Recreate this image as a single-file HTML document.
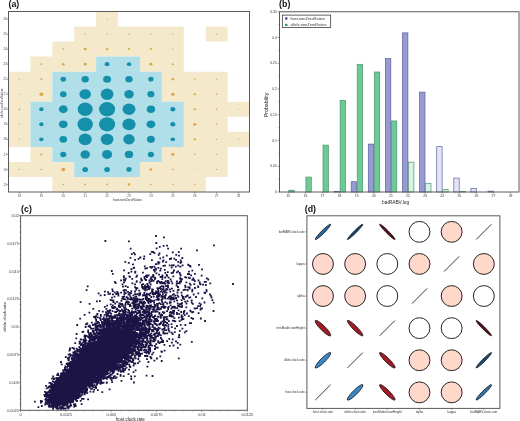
<!DOCTYPE html>
<html><head><meta charset="utf-8"><style>
html,body{margin:0;padding:0;background:#fff;width:520px;height:421px;overflow:hidden}
svg{display:block}
svg{will-change:transform}
</style></head><body>
<svg width="520" height="421" viewBox="0 0 520 421">
<rect width="520" height="421" fill="#fff"/>
<path d="M96.14 11.5H118.05V26.54H96.14zM74.23 26.54H96.14V41.58H74.23zM96.14 26.54H118.05V41.58H96.14zM118.05 26.54H139.95V41.58H118.05zM139.95 26.54H161.86V41.58H139.95zM161.86 26.54H183.77V41.58H161.86zM205.68 26.54H227.59V41.58H205.68zM52.32 41.58H74.23V56.62H52.32zM74.23 41.58H96.14V56.62H74.23zM96.14 41.58H118.05V56.62H96.14zM118.05 41.58H139.95V56.62H118.05zM139.95 41.58H161.86V56.62H139.95zM161.86 41.58H183.77V56.62H161.86zM30.41 56.62H52.32V71.67H30.41zM52.32 56.62H74.23V71.67H52.32zM74.23 56.62H96.14V71.67H74.23zM139.95 56.62H161.86V71.67H139.95zM161.86 56.62H183.77V71.67H161.86zM8.5 71.67H30.41V86.71H8.5zM30.41 71.67H52.32V86.71H30.41zM161.86 71.67H183.77V86.71H161.86zM183.77 71.67H205.68V86.71H183.77zM205.68 71.67H227.59V86.71H205.68zM8.5 86.71H30.41V101.75H8.5zM30.41 86.71H52.32V101.75H30.41zM161.86 86.71H183.77V101.75H161.86zM183.77 86.71H205.68V101.75H183.77zM205.68 86.71H227.59V101.75H205.68zM8.5 101.75H30.41V116.79H8.5zM183.77 101.75H205.68V116.79H183.77zM205.68 101.75H227.59V116.79H205.68zM227.59 101.75H249.5V116.79H227.59zM8.5 116.79H30.41V131.83H8.5zM183.77 116.79H205.68V131.83H183.77zM205.68 116.79H227.59V131.83H205.68zM8.5 131.83H30.41V146.88H8.5zM183.77 131.83H205.68V146.88H183.77zM205.68 131.83H227.59V146.88H205.68zM227.59 131.83H249.5V146.88H227.59zM30.41 146.88H52.32V161.92H30.41zM161.86 146.88H183.77V161.92H161.86zM183.77 146.88H205.68V161.92H183.77zM205.68 146.88H227.59V161.92H205.68zM8.5 161.92H30.41V176.96H8.5zM30.41 161.92H52.32V176.96H30.41zM52.32 161.92H74.23V176.96H52.32zM139.95 161.92H161.86V176.96H139.95zM161.86 161.92H183.77V176.96H161.86zM183.77 161.92H205.68V176.96H183.77zM205.68 161.92H227.59V176.96H205.68zM52.32 176.96H74.23V192.0H52.32zM74.23 176.96H96.14V192.0H74.23zM96.14 176.96H118.05V192.0H96.14zM118.05 176.96H139.95V192.0H118.05zM139.95 176.96H161.86V192.0H139.95zM161.86 176.96H183.77V192.0H161.86zM183.77 176.96H205.68V192.0H183.77z" fill="#f4e9cb"/>
<path d="M96.14 56.62H118.05V71.67H96.14zM118.05 56.62H139.95V71.67H118.05zM52.32 71.67H74.23V86.71H52.32zM74.23 71.67H96.14V86.71H74.23zM96.14 71.67H118.05V86.71H96.14zM118.05 71.67H139.95V86.71H118.05zM139.95 71.67H161.86V86.71H139.95zM52.32 86.71H74.23V101.75H52.32zM74.23 86.71H96.14V101.75H74.23zM96.14 86.71H118.05V101.75H96.14zM118.05 86.71H139.95V101.75H118.05zM139.95 86.71H161.86V101.75H139.95zM30.41 101.75H52.32V116.79H30.41zM52.32 101.75H74.23V116.79H52.32zM74.23 101.75H96.14V116.79H74.23zM96.14 101.75H118.05V116.79H96.14zM118.05 101.75H139.95V116.79H118.05zM139.95 101.75H161.86V116.79H139.95zM161.86 101.75H183.77V116.79H161.86zM30.41 116.79H52.32V131.83H30.41zM52.32 116.79H74.23V131.83H52.32zM74.23 116.79H96.14V131.83H74.23zM96.14 116.79H118.05V131.83H96.14zM118.05 116.79H139.95V131.83H118.05zM139.95 116.79H161.86V131.83H139.95zM161.86 116.79H183.77V131.83H161.86zM30.41 131.83H52.32V146.88H30.41zM52.32 131.83H74.23V146.88H52.32zM74.23 131.83H96.14V146.88H74.23zM96.14 131.83H118.05V146.88H96.14zM118.05 131.83H139.95V146.88H118.05zM139.95 131.83H161.86V146.88H139.95zM161.86 131.83H183.77V146.88H161.86zM52.32 146.88H74.23V161.92H52.32zM74.23 146.88H96.14V161.92H74.23zM96.14 146.88H118.05V161.92H96.14zM118.05 146.88H139.95V161.92H118.05zM139.95 146.88H161.86V161.92H139.95zM74.23 161.92H96.14V176.96H74.23zM96.14 161.92H118.05V176.96H96.14zM118.05 161.92H139.95V176.96H118.05z" fill="#b1dfe9"/>
<ellipse cx="107.09" cy="19.02" rx="0.66" ry="0.59" fill="#d9a845"/>
<ellipse cx="85.18" cy="34.06" rx="0.66" ry="0.59" fill="#d9a845"/>
<ellipse cx="107.09" cy="34.06" rx="0.66" ry="0.59" fill="#d9a845"/>
<ellipse cx="129.00" cy="34.06" rx="0.77" ry="0.69" fill="#d9a845"/>
<ellipse cx="150.91" cy="34.06" rx="0.66" ry="0.59" fill="#d9a845"/>
<ellipse cx="172.82" cy="34.06" rx="0.66" ry="0.59" fill="#d9a845"/>
<ellipse cx="216.64" cy="34.06" rx="0.66" ry="0.59" fill="#d9a845"/>
<ellipse cx="63.27" cy="49.10" rx="0.88" ry="0.78" fill="#d9a845"/>
<ellipse cx="85.18" cy="49.10" rx="1.43" ry="1.27" fill="#d9a845"/>
<ellipse cx="107.09" cy="49.10" rx="1.32" ry="1.18" fill="#d9a845"/>
<ellipse cx="129.00" cy="49.10" rx="1.10" ry="0.98" fill="#d9a845"/>
<ellipse cx="150.91" cy="49.10" rx="1.10" ry="0.98" fill="#d9a845"/>
<ellipse cx="172.82" cy="49.10" rx="0.66" ry="0.59" fill="#d9a845"/>
<ellipse cx="41.36" cy="64.15" rx="0.88" ry="0.78" fill="#d9a845"/>
<ellipse cx="63.27" cy="64.15" rx="1.43" ry="1.27" fill="#d9a845"/>
<ellipse cx="85.18" cy="64.15" rx="1.54" ry="1.37" fill="#d9a845"/>
<ellipse cx="107.09" cy="64.15" rx="2.42" ry="2.16" fill="#1490aa"/>
<ellipse cx="129.00" cy="64.15" rx="2.20" ry="1.96" fill="#1490aa"/>
<ellipse cx="150.91" cy="64.15" rx="1.54" ry="1.37" fill="#d9a845"/>
<ellipse cx="172.82" cy="64.15" rx="0.99" ry="0.88" fill="#d9a845"/>
<ellipse cx="19.45" cy="79.19" rx="0.66" ry="0.59" fill="#d9a845"/>
<ellipse cx="41.36" cy="79.19" rx="0.99" ry="0.88" fill="#d9a845"/>
<ellipse cx="63.27" cy="79.19" rx="2.75" ry="2.45" fill="#1490aa"/>
<ellipse cx="85.18" cy="79.19" rx="3.63" ry="3.23" fill="#1490aa"/>
<ellipse cx="107.09" cy="79.19" rx="3.96" ry="3.53" fill="#1490aa"/>
<ellipse cx="129.00" cy="79.19" rx="3.63" ry="3.23" fill="#1490aa"/>
<ellipse cx="150.91" cy="79.19" rx="2.64" ry="2.35" fill="#1490aa"/>
<ellipse cx="172.82" cy="79.19" rx="1.32" ry="1.18" fill="#d9a845"/>
<ellipse cx="194.73" cy="79.19" rx="0.77" ry="0.69" fill="#d9a845"/>
<ellipse cx="216.64" cy="79.19" rx="0.66" ry="0.59" fill="#d9a845"/>
<ellipse cx="19.45" cy="94.23" rx="0.66" ry="0.59" fill="#d9a845"/>
<ellipse cx="41.36" cy="94.23" rx="1.98" ry="1.76" fill="#d9a845"/>
<ellipse cx="63.27" cy="94.23" rx="3.30" ry="2.94" fill="#1490aa"/>
<ellipse cx="85.18" cy="94.23" rx="5.72" ry="5.10" fill="#1490aa"/>
<ellipse cx="107.09" cy="94.23" rx="6.38" ry="5.68" fill="#1490aa"/>
<ellipse cx="129.00" cy="94.23" rx="4.73" ry="4.21" fill="#1490aa"/>
<ellipse cx="150.91" cy="94.23" rx="3.52" ry="3.14" fill="#1490aa"/>
<ellipse cx="172.82" cy="94.23" rx="1.76" ry="1.57" fill="#d9a845"/>
<ellipse cx="194.73" cy="94.23" rx="1.21" ry="1.08" fill="#d9a845"/>
<ellipse cx="216.64" cy="94.23" rx="0.77" ry="0.69" fill="#d9a845"/>
<ellipse cx="19.45" cy="109.27" rx="0.99" ry="0.88" fill="#d9a845"/>
<ellipse cx="41.36" cy="109.27" rx="2.20" ry="1.96" fill="#1490aa"/>
<ellipse cx="63.27" cy="109.27" rx="4.40" ry="3.92" fill="#1490aa"/>
<ellipse cx="85.18" cy="109.27" rx="7.48" ry="6.66" fill="#1490aa"/>
<ellipse cx="107.09" cy="109.27" rx="8.03" ry="7.15" fill="#1490aa"/>
<ellipse cx="129.00" cy="109.27" rx="6.49" ry="5.78" fill="#1490aa"/>
<ellipse cx="150.91" cy="109.27" rx="4.18" ry="3.72" fill="#1490aa"/>
<ellipse cx="172.82" cy="109.27" rx="2.53" ry="2.25" fill="#1490aa"/>
<ellipse cx="194.73" cy="109.27" rx="1.21" ry="1.08" fill="#d9a845"/>
<ellipse cx="216.64" cy="109.27" rx="0.77" ry="0.69" fill="#d9a845"/>
<ellipse cx="238.55" cy="109.27" rx="0.55" ry="0.49" fill="#d9a845"/>
<ellipse cx="19.45" cy="124.31" rx="0.66" ry="0.59" fill="#d9a845"/>
<ellipse cx="41.36" cy="124.31" rx="2.20" ry="1.96" fill="#1490aa"/>
<ellipse cx="63.27" cy="124.31" rx="4.40" ry="3.92" fill="#1490aa"/>
<ellipse cx="85.18" cy="124.31" rx="7.70" ry="6.86" fill="#1490aa"/>
<ellipse cx="107.09" cy="124.31" rx="8.03" ry="7.15" fill="#1490aa"/>
<ellipse cx="129.00" cy="124.31" rx="6.60" ry="5.88" fill="#1490aa"/>
<ellipse cx="150.91" cy="124.31" rx="4.40" ry="3.92" fill="#1490aa"/>
<ellipse cx="172.82" cy="124.31" rx="2.53" ry="2.25" fill="#1490aa"/>
<ellipse cx="194.73" cy="124.31" rx="1.54" ry="1.37" fill="#d9a845"/>
<ellipse cx="216.64" cy="124.31" rx="0.77" ry="0.69" fill="#d9a845"/>
<ellipse cx="19.45" cy="139.35" rx="0.66" ry="0.59" fill="#d9a845"/>
<ellipse cx="41.36" cy="139.35" rx="2.20" ry="1.96" fill="#1490aa"/>
<ellipse cx="63.27" cy="139.35" rx="3.85" ry="3.43" fill="#1490aa"/>
<ellipse cx="85.18" cy="139.35" rx="6.60" ry="5.88" fill="#1490aa"/>
<ellipse cx="107.09" cy="139.35" rx="6.38" ry="5.68" fill="#1490aa"/>
<ellipse cx="129.00" cy="139.35" rx="5.72" ry="5.10" fill="#1490aa"/>
<ellipse cx="150.91" cy="139.35" rx="3.96" ry="3.53" fill="#1490aa"/>
<ellipse cx="172.82" cy="139.35" rx="2.20" ry="1.96" fill="#1490aa"/>
<ellipse cx="194.73" cy="139.35" rx="1.21" ry="1.08" fill="#d9a845"/>
<ellipse cx="216.64" cy="139.35" rx="0.77" ry="0.69" fill="#d9a845"/>
<ellipse cx="238.55" cy="139.35" rx="0.66" ry="0.59" fill="#d9a845"/>
<ellipse cx="41.36" cy="154.40" rx="1.10" ry="0.98" fill="#d9a845"/>
<ellipse cx="63.27" cy="154.40" rx="3.08" ry="2.74" fill="#1490aa"/>
<ellipse cx="85.18" cy="154.40" rx="4.73" ry="4.21" fill="#1490aa"/>
<ellipse cx="107.09" cy="154.40" rx="5.06" ry="4.51" fill="#1490aa"/>
<ellipse cx="129.00" cy="154.40" rx="4.18" ry="3.72" fill="#1490aa"/>
<ellipse cx="150.91" cy="154.40" rx="3.08" ry="2.74" fill="#1490aa"/>
<ellipse cx="172.82" cy="154.40" rx="1.65" ry="1.47" fill="#d9a845"/>
<ellipse cx="194.73" cy="154.40" rx="0.77" ry="0.69" fill="#d9a845"/>
<ellipse cx="216.64" cy="154.40" rx="0.66" ry="0.59" fill="#d9a845"/>
<ellipse cx="19.45" cy="169.44" rx="0.66" ry="0.59" fill="#d9a845"/>
<ellipse cx="41.36" cy="169.44" rx="0.77" ry="0.69" fill="#d9a845"/>
<ellipse cx="63.27" cy="169.44" rx="1.98" ry="1.76" fill="#d9a845"/>
<ellipse cx="85.18" cy="169.44" rx="2.86" ry="2.55" fill="#1490aa"/>
<ellipse cx="107.09" cy="169.44" rx="2.86" ry="2.55" fill="#1490aa"/>
<ellipse cx="129.00" cy="169.44" rx="2.64" ry="2.35" fill="#1490aa"/>
<ellipse cx="150.91" cy="169.44" rx="1.43" ry="1.27" fill="#d9a845"/>
<ellipse cx="172.82" cy="169.44" rx="0.88" ry="0.78" fill="#d9a845"/>
<ellipse cx="194.73" cy="169.44" rx="0.55" ry="0.49" fill="#d9a845"/>
<ellipse cx="216.64" cy="169.44" rx="0.66" ry="0.59" fill="#d9a845"/>
<ellipse cx="63.27" cy="184.48" rx="0.77" ry="0.69" fill="#d9a845"/>
<ellipse cx="85.18" cy="184.48" rx="0.99" ry="0.88" fill="#d9a845"/>
<ellipse cx="107.09" cy="184.48" rx="0.99" ry="0.88" fill="#d9a845"/>
<ellipse cx="129.00" cy="184.48" rx="1.32" ry="1.18" fill="#d9a845"/>
<ellipse cx="150.91" cy="184.48" rx="0.77" ry="0.69" fill="#d9a845"/>
<ellipse cx="172.82" cy="184.48" rx="0.77" ry="0.69" fill="#d9a845"/>
<ellipse cx="194.73" cy="184.48" rx="0.66" ry="0.59" fill="#d9a845"/>
<rect x="8.5" y="11.5" width="241.0" height="180.5" fill="none" stroke="#5a5a5a" stroke-width="1"/>
<path d="M7.0 19.02h1.5 M7.0 34.06h1.5 M7.0 49.10h1.5 M7.0 64.15h1.5 M7.0 79.19h1.5 M7.0 94.23h1.5 M7.0 109.27h1.5 M7.0 124.31h1.5 M7.0 139.35h1.5 M7.0 154.40h1.5 M7.0 169.44h1.5 M7.0 184.48h1.5 M19.45 192.0v1.5 M41.36 192.0v1.5 M63.27 192.0v1.5 M85.18 192.0v1.5 M107.09 192.0v1.5 M129.00 192.0v1.5 M150.91 192.0v1.5 M172.82 192.0v1.5 M194.73 192.0v1.5 M216.64 192.0v1.5 M238.55 192.0v1.5" stroke="#555" stroke-width="0.6"/>
<text x="6.9" y="20.12" font-size="3.0" text-anchor="end" fill="#444" font-family="Liberation Sans, sans-serif">26</text>
<text x="6.9" y="35.16" font-size="3.0" text-anchor="end" fill="#444" font-family="Liberation Sans, sans-serif">25</text>
<text x="6.9" y="50.20" font-size="3.0" text-anchor="end" fill="#444" font-family="Liberation Sans, sans-serif">24</text>
<text x="6.9" y="65.25" font-size="3.0" text-anchor="end" fill="#444" font-family="Liberation Sans, sans-serif">23</text>
<text x="6.9" y="80.29" font-size="3.0" text-anchor="end" fill="#444" font-family="Liberation Sans, sans-serif">22</text>
<text x="6.9" y="95.33" font-size="3.0" text-anchor="end" fill="#444" font-family="Liberation Sans, sans-serif">21</text>
<text x="6.9" y="110.37" font-size="3.0" text-anchor="end" fill="#444" font-family="Liberation Sans, sans-serif">20</text>
<text x="6.9" y="125.41" font-size="3.0" text-anchor="end" fill="#444" font-family="Liberation Sans, sans-serif">19</text>
<text x="6.9" y="140.45" font-size="3.0" text-anchor="end" fill="#444" font-family="Liberation Sans, sans-serif">18</text>
<text x="6.9" y="155.50" font-size="3.0" text-anchor="end" fill="#444" font-family="Liberation Sans, sans-serif">17</text>
<text x="6.9" y="170.54" font-size="3.0" text-anchor="end" fill="#444" font-family="Liberation Sans, sans-serif">16</text>
<text x="6.9" y="185.58" font-size="3.0" text-anchor="end" fill="#444" font-family="Liberation Sans, sans-serif">15</text>
<text x="19.45" y="196.7" font-size="3.0" text-anchor="middle" fill="#444" font-family="Liberation Sans, sans-serif">18</text>
<text x="41.36" y="196.7" font-size="3.0" text-anchor="middle" fill="#444" font-family="Liberation Sans, sans-serif">19</text>
<text x="63.27" y="196.7" font-size="3.0" text-anchor="middle" fill="#444" font-family="Liberation Sans, sans-serif">20</text>
<text x="85.18" y="196.7" font-size="3.0" text-anchor="middle" fill="#444" font-family="Liberation Sans, sans-serif">21</text>
<text x="107.09" y="196.7" font-size="3.0" text-anchor="middle" fill="#444" font-family="Liberation Sans, sans-serif">22</text>
<text x="129.00" y="196.7" font-size="3.0" text-anchor="middle" fill="#444" font-family="Liberation Sans, sans-serif">23</text>
<text x="150.91" y="196.7" font-size="3.0" text-anchor="middle" fill="#444" font-family="Liberation Sans, sans-serif">24</text>
<text x="172.82" y="196.7" font-size="3.0" text-anchor="middle" fill="#444" font-family="Liberation Sans, sans-serif">25</text>
<text x="194.73" y="196.7" font-size="3.0" text-anchor="middle" fill="#444" font-family="Liberation Sans, sans-serif">26</text>
<text x="216.64" y="196.7" font-size="3.0" text-anchor="middle" fill="#444" font-family="Liberation Sans, sans-serif">27</text>
<text x="238.55" y="196.7" font-size="3.0" text-anchor="middle" fill="#444" font-family="Liberation Sans, sans-serif">28</text>
<text x="127.5" y="200.9" font-size="3.3" text-anchor="middle" fill="#333" font-family="Liberation Sans, sans-serif">host.nonZeroRatios</text>
<text transform="translate(2.6,103.3) rotate(-90)" font-size="3.2" text-anchor="middle" fill="#333" font-family="Liberation Sans, sans-serif">allele.nonZeroRatios</text>
<text x="8.5" y="6.6" font-size="8.8" font-weight="bold" fill="#111" font-family="Liberation Sans, sans-serif">(a)</text>
<rect x="334.10" y="191.38" width="5.40" height="0.62" fill="#989bd2" stroke="#5c5fa0" stroke-width="0.7"/>
<rect x="351.20" y="181.70" width="5.40" height="10.30" fill="#989bd2" stroke="#5c5fa0" stroke-width="0.7"/>
<rect x="368.30" y="144.10" width="5.40" height="47.90" fill="#989bd2" stroke="#5c5fa0" stroke-width="0.7"/>
<rect x="385.40" y="58.61" width="5.40" height="133.39" fill="#989bd2" stroke="#5c5fa0" stroke-width="0.7"/>
<rect x="402.50" y="32.87" width="5.40" height="159.13" fill="#989bd2" stroke="#5c5fa0" stroke-width="0.7"/>
<rect x="419.60" y="92.09" width="5.40" height="99.91" fill="#989bd2" stroke="#5c5fa0" stroke-width="0.7"/>
<rect x="436.70" y="146.68" width="5.40" height="45.32" fill="#e3e5f7" stroke="#5c5fa0" stroke-width="0.7"/>
<rect x="453.80" y="178.09" width="5.40" height="13.91" fill="#e3e5f7" stroke="#5c5fa0" stroke-width="0.7"/>
<rect x="470.90" y="188.40" width="5.40" height="3.60" fill="#e3e5f7" stroke="#5c5fa0" stroke-width="0.7"/>
<rect x="488.00" y="191.12" width="5.40" height="0.88" fill="#e3e5f7" stroke="#5c5fa0" stroke-width="0.7"/>
<rect x="288.80" y="190.20" width="5.40" height="1.80" fill="#6dca94" stroke="#4a9570" stroke-width="0.7"/>
<rect x="305.90" y="177.06" width="5.40" height="14.94" fill="#6dca94" stroke="#4a9570" stroke-width="0.7"/>
<rect x="323.00" y="145.13" width="5.40" height="46.87" fill="#6dca94" stroke="#4a9570" stroke-width="0.7"/>
<rect x="340.10" y="100.33" width="5.40" height="91.67" fill="#6dca94" stroke="#4a9570" stroke-width="0.7"/>
<rect x="357.20" y="64.28" width="5.40" height="127.72" fill="#6dca94" stroke="#4a9570" stroke-width="0.7"/>
<rect x="374.30" y="72.00" width="5.40" height="120.00" fill="#6dca94" stroke="#4a9570" stroke-width="0.7"/>
<rect x="391.40" y="120.93" width="5.40" height="71.07" fill="#6dca94" stroke="#4a9570" stroke-width="0.7"/>
<rect x="408.50" y="162.13" width="5.40" height="29.87" fill="#dcf3e4" stroke="#4a9570" stroke-width="0.7"/>
<rect x="425.60" y="183.25" width="5.40" height="8.75" fill="#dcf3e4" stroke="#4a9570" stroke-width="0.7"/>
<rect x="442.70" y="189.43" width="5.40" height="2.57" fill="#dcf3e4" stroke="#4a9570" stroke-width="0.7"/>
<rect x="459.80" y="191.49" width="5.40" height="0.51" fill="#dcf3e4" stroke="#4a9570" stroke-width="0.7"/>
<rect x="279.5" y="11.75" width="239.5" height="180.25" fill="none" stroke="#5a5a5a" stroke-width="1"/>
<path d="M277.7 192.00H279.5 M278.5 179.12H279.5 M277.7 166.25H279.5 M278.5 153.38H279.5 M277.7 140.50H279.5 M278.5 127.62H279.5 M277.7 114.75H279.5 M278.5 101.87H279.5 M277.7 89.00H279.5 M278.5 76.12H279.5 M277.7 63.25H279.5 M278.5 50.38H279.5 M277.7 37.50H279.5 M278.5 24.62H279.5 M277.7 11.75H279.5 M288.30 192.0v1.5 M305.40 192.0v1.5 M322.50 192.0v1.5 M339.60 192.0v1.5 M356.70 192.0v1.5 M373.80 192.0v1.5 M390.90 192.0v1.5 M408.00 192.0v1.5 M425.10 192.0v1.5 M442.20 192.0v1.5 M459.30 192.0v1.5 M476.40 192.0v1.5 M493.50 192.0v1.5 M510.60 192.0v1.5" stroke="#555" stroke-width="0.6"/>
<text x="276.9" y="193.20" font-size="3.4" text-anchor="end" fill="#333" font-family="Liberation Sans, sans-serif">0</text>
<text x="276.9" y="167.45" font-size="3.4" text-anchor="end" fill="#333" font-family="Liberation Sans, sans-serif">0.05</text>
<text x="276.9" y="141.70" font-size="3.4" text-anchor="end" fill="#333" font-family="Liberation Sans, sans-serif">0.1</text>
<text x="276.9" y="115.95" font-size="3.4" text-anchor="end" fill="#333" font-family="Liberation Sans, sans-serif">0.15</text>
<text x="276.9" y="90.20" font-size="3.4" text-anchor="end" fill="#333" font-family="Liberation Sans, sans-serif">0.2</text>
<text x="276.9" y="64.45" font-size="3.4" text-anchor="end" fill="#333" font-family="Liberation Sans, sans-serif">0.25</text>
<text x="276.9" y="38.70" font-size="3.4" text-anchor="end" fill="#333" font-family="Liberation Sans, sans-serif">0.3</text>
<text x="276.9" y="12.95" font-size="3.4" text-anchor="end" fill="#333" font-family="Liberation Sans, sans-serif">0.35</text>
<text x="288.30" y="197.2" font-size="3.4" text-anchor="middle" fill="#333" font-family="Liberation Sans, sans-serif">15</text>
<text x="305.40" y="197.2" font-size="3.4" text-anchor="middle" fill="#333" font-family="Liberation Sans, sans-serif">16</text>
<text x="322.50" y="197.2" font-size="3.4" text-anchor="middle" fill="#333" font-family="Liberation Sans, sans-serif">17</text>
<text x="339.60" y="197.2" font-size="3.4" text-anchor="middle" fill="#333" font-family="Liberation Sans, sans-serif">18</text>
<text x="356.70" y="197.2" font-size="3.4" text-anchor="middle" fill="#333" font-family="Liberation Sans, sans-serif">19</text>
<text x="373.80" y="197.2" font-size="3.4" text-anchor="middle" fill="#333" font-family="Liberation Sans, sans-serif">20</text>
<text x="390.90" y="197.2" font-size="3.4" text-anchor="middle" fill="#333" font-family="Liberation Sans, sans-serif">21</text>
<text x="408.00" y="197.2" font-size="3.4" text-anchor="middle" fill="#333" font-family="Liberation Sans, sans-serif">22</text>
<text x="425.10" y="197.2" font-size="3.4" text-anchor="middle" fill="#333" font-family="Liberation Sans, sans-serif">23</text>
<text x="442.20" y="197.2" font-size="3.4" text-anchor="middle" fill="#333" font-family="Liberation Sans, sans-serif">24</text>
<text x="459.30" y="197.2" font-size="3.4" text-anchor="middle" fill="#333" font-family="Liberation Sans, sans-serif">25</text>
<text x="476.40" y="197.2" font-size="3.4" text-anchor="middle" fill="#333" font-family="Liberation Sans, sans-serif">26</text>
<text x="493.50" y="197.2" font-size="3.4" text-anchor="middle" fill="#333" font-family="Liberation Sans, sans-serif">27</text>
<text x="510.60" y="197.2" font-size="3.4" text-anchor="middle" fill="#333" font-family="Liberation Sans, sans-serif">28</text>
<text x="395.6" y="203.9" font-size="4.8" text-anchor="middle" fill="#222" font-family="Liberation Sans, sans-serif">batRABV.log</text>
<text transform="translate(267.6,105) rotate(-90)" font-size="5.3" text-anchor="middle" fill="#222" font-family="Liberation Sans, sans-serif">Probability</text>
<text x="279.1" y="6.6" font-size="8.8" font-weight="bold" fill="#111" font-family="Liberation Sans, sans-serif">(b)</text>
<rect x="282.3" y="15.1" width="48.4" height="12.5" fill="#fff" stroke="#222" stroke-width="0.7"/>
<rect x="285.1" y="17.4" width="2.3" height="2.2" fill="#34408e"/>
<rect x="285.1" y="23.8" width="2.3" height="2.2" fill="#1f9a50"/>
<text x="290.4" y="20.2" font-size="3.95" fill="#333" font-family="Liberation Sans, sans-serif">host.nonZeroRatios</text>
<text x="290.4" y="26.4" font-size="3.95" fill="#333" font-family="Liberation Sans, sans-serif">allele.nonZeroRatios</text>
<path d="M155 235h1v1h-1zM163 237h1v1h-1zM105 240h1v1h-1zM128 241h1v1h-1zM156 242h1v1h-1zM163 245h1v1h-1zM167 245h1v1h-1zM213 245h1v1h-1zM159 246h1v1h-1zM130 248h1v1h-1zM156 248h1v1h-1zM168 248h1v1h-1zM181 248h1v1h-1zM196 250h1v1h-1zM151 251h3v1h-3zM133 252h1v1h-1zM172 252h1v1h-1zM178 252h1v1h-1zM154 253h1v1h-1zM159 253h1v1h-1zM131 254h1v1h-1zM134 254h1v1h-1zM150 254h1v1h-1zM158 254h1v1h-1zM176 254h1v1h-1zM166 255h1v1h-1zM178 255h1v1h-1zM144 256h1v1h-1zM130 257h1v1h-1zM140 257h1v1h-1zM163 257h1v1h-1zM182 257h1v1h-1zM138 258h1v1h-1zM143 258h1v1h-1zM160 258h1v1h-1zM171 258h1v1h-1zM174 258h1v1h-1zM135 259h1v1h-1zM169 259h1v1h-1zM176 259h1v1h-1zM151 260h1v1h-1zM163 260h1v1h-1zM180 260h1v1h-1zM125 261h1v1h-1zM162 261h1v1h-1zM178 261h1v1h-1zM128 262h1v1h-1zM158 262h2v1h-2zM166 262h1v1h-1zM180 262h2v1h-2zM158 263h1v1h-1zM132 264h1v1h-1zM155 264h2v1h-2zM188 264h1v1h-1zM198 264h1v1h-1zM163 265h2v1h-2zM169 265h1v1h-1zM171 265h3v1h-3zM178 265h1v1h-1zM182 265h1v1h-1zM188 265h2v1h-2zM144 266h1v1h-1zM150 266h1v1h-1zM152 266h1v1h-1zM154 266h1v1h-1zM175 266h1v1h-1zM180 266h1v1h-1zM190 266h1v1h-1zM134 267h1v1h-1zM151 267h1v1h-1zM158 267h1v1h-1zM171 267h1v1h-1zM133 268h1v1h-1zM145 268h1v1h-1zM147 268h1v1h-1zM155 268h1v1h-1zM160 268h1v1h-1zM131 269h1v1h-1zM153 269h1v1h-1zM156 269h1v1h-1zM164 269h1v1h-1zM202 269h1v1h-1zM111 270h1v1h-1zM124 270h1v1h-1zM160 270h1v1h-1zM173 270h1v1h-1zM192 270h1v1h-1zM131 271h1v1h-1zM135 271h1v1h-1zM154 271h1v1h-1zM178 271h1v1h-1zM188 271h1v1h-1zM135 272h1v1h-1zM142 272h1v1h-1zM165 272h1v1h-1zM167 272h1v1h-1zM172 272h2v1h-2zM176 272h1v1h-1zM179 272h1v1h-1zM112 273h1v1h-1zM128 273h1v1h-1zM156 273h1v1h-1zM171 273h1v1h-1zM194 273h1v1h-1zM153 274h1v1h-1zM159 274h1v1h-1zM166 274h1v1h-1zM180 274h1v1h-1zM187 274h3v1h-3zM137 275h1v1h-1zM146 275h3v1h-3zM153 275h1v1h-1zM162 275h1v1h-1zM167 275h1v1h-1zM180 275h1v1h-1zM191 275h1v1h-1zM201 275h1v1h-1zM123 276h1v1h-1zM129 276h1v1h-1zM136 276h1v1h-1zM144 276h1v1h-1zM146 276h1v1h-1zM152 276h2v1h-2zM160 276h3v1h-3zM173 276h1v1h-1zM123 277h1v1h-1zM144 277h1v1h-1zM146 277h1v1h-1zM151 277h1v1h-1zM155 277h1v1h-1zM165 277h1v1h-1zM168 277h1v1h-1zM185 277h2v1h-2zM188 277h1v1h-1zM125 278h1v1h-1zM132 278h1v1h-1zM141 278h1v1h-1zM144 278h1v1h-1zM150 278h1v1h-1zM180 278h2v1h-2zM189 278h1v1h-1zM193 278h1v1h-1zM206 278h1v1h-1zM123 279h1v1h-1zM141 279h1v1h-1zM145 279h2v1h-2zM152 279h1v1h-1zM154 279h1v1h-1zM162 279h1v1h-1zM170 279h1v1h-1zM180 279h2v1h-2zM192 279h2v1h-2zM208 279h1v1h-1zM121 280h1v1h-1zM125 280h1v1h-1zM142 280h1v1h-1zM149 280h1v1h-1zM152 280h2v1h-2zM158 280h1v1h-1zM167 280h1v1h-1zM198 280h1v1h-1zM114 281h1v1h-1zM136 281h1v1h-1zM150 281h1v1h-1zM157 281h1v1h-1zM159 281h1v1h-1zM161 281h1v1h-1zM165 281h1v1h-1zM167 281h2v1h-2zM171 281h1v1h-1zM176 281h1v1h-1zM179 281h3v1h-3zM194 281h1v1h-1zM204 281h2v1h-2zM115 282h1v1h-1zM123 282h1v1h-1zM140 282h1v1h-1zM149 282h1v1h-1zM157 282h1v1h-1zM161 282h4v1h-4zM167 282h2v1h-2zM179 282h1v1h-1zM186 282h1v1h-1zM199 282h1v1h-1zM132 283h1v1h-1zM147 283h1v1h-1zM157 283h1v1h-1zM160 283h1v1h-1zM162 283h4v1h-4zM168 283h1v1h-1zM172 283h1v1h-1zM176 283h2v1h-2zM179 283h1v1h-1zM189 283h1v1h-1zM199 283h1v1h-1zM210 283h1v1h-1zM232 283h1v1h-1zM122 284h1v1h-1zM135 284h1v1h-1zM141 284h3v1h-3zM147 284h1v1h-1zM150 284h1v1h-1zM190 284h1v1h-1zM194 284h1v1h-1zM200 284h1v1h-1zM203 284h1v1h-1zM145 285h1v1h-1zM147 285h2v1h-2zM166 285h2v1h-2zM176 285h1v1h-1zM185 285h1v1h-1zM205 285h1v1h-1zM87 286h1v1h-1zM122 286h1v1h-1zM125 286h1v1h-1zM142 286h1v1h-1zM144 286h6v1h-6zM160 286h4v1h-4zM165 286h1v1h-1zM177 286h2v1h-2zM185 286h1v1h-1zM198 286h1v1h-1zM127 287h1v1h-1zM135 287h1v1h-1zM142 287h2v1h-2zM145 287h5v1h-5zM160 287h1v1h-1zM163 287h1v1h-1zM168 287h1v1h-1zM177 287h1v1h-1zM188 287h2v1h-2zM194 287h1v1h-1zM198 287h1v1h-1zM136 288h2v1h-2zM142 288h4v1h-4zM148 288h2v1h-2zM157 288h2v1h-2zM160 288h1v1h-1zM163 288h1v1h-1zM166 288h1v1h-1zM171 288h1v1h-1zM189 288h1v1h-1zM112 289h1v1h-1zM124 289h1v1h-1zM136 289h1v1h-1zM144 289h1v1h-1zM147 289h1v1h-1zM149 289h1v1h-1zM152 289h1v1h-1zM157 289h1v1h-1zM161 289h1v1h-1zM166 289h2v1h-2zM169 289h1v1h-1zM178 289h1v1h-1zM185 289h1v1h-1zM187 289h1v1h-1zM192 289h1v1h-1zM206 289h1v1h-1zM86 290h1v1h-1zM112 290h1v1h-1zM123 290h1v1h-1zM126 290h1v1h-1zM139 290h1v1h-1zM145 290h1v1h-1zM152 290h1v1h-1zM158 290h1v1h-1zM164 290h2v1h-2zM173 290h1v1h-1zM177 290h1v1h-1zM183 290h1v1h-1zM187 290h1v1h-1zM192 290h1v1h-1zM206 290h1v1h-1zM104 291h1v1h-1zM112 291h1v1h-1zM117 291h1v1h-1zM127 291h1v1h-1zM131 291h1v1h-1zM134 291h1v1h-1zM151 291h2v1h-2zM156 291h3v1h-3zM160 291h1v1h-1zM163 291h1v1h-1zM170 291h1v1h-1zM192 291h1v1h-1zM206 291h1v1h-1zM108 292h1v1h-1zM114 292h1v1h-1zM117 292h1v1h-1zM121 292h1v1h-1zM124 292h1v1h-1zM129 292h1v1h-1zM144 292h1v1h-1zM152 292h1v1h-1zM156 292h1v1h-1zM158 292h1v1h-1zM162 292h1v1h-1zM164 292h3v1h-3zM177 292h1v1h-1zM181 292h1v1h-1zM204 292h2v1h-2zM98 293h1v1h-1zM110 293h1v1h-1zM116 293h3v1h-3zM125 293h1v1h-1zM129 293h3v1h-3zM139 293h2v1h-2zM144 293h1v1h-1zM146 293h1v1h-1zM150 293h1v1h-1zM152 293h7v1h-7zM198 293h1v1h-1zM104 294h1v1h-1zM108 294h1v1h-1zM112 294h1v1h-1zM124 294h1v1h-1zM128 294h2v1h-2zM135 294h1v1h-1zM137 294h1v1h-1zM139 294h2v1h-2zM144 294h1v1h-1zM146 294h4v1h-4zM152 294h4v1h-4zM160 294h1v1h-1zM162 294h1v1h-1zM165 294h1v1h-1zM172 294h2v1h-2zM193 294h1v1h-1zM209 294h1v1h-1zM100 295h1v1h-1zM118 295h1v1h-1zM133 295h1v1h-1zM139 295h1v1h-1zM142 295h5v1h-5zM149 295h1v1h-1zM157 295h3v1h-3zM161 295h1v1h-1zM164 295h1v1h-1zM175 295h1v1h-1zM177 295h1v1h-1zM181 295h1v1h-1zM186 295h2v1h-2zM210 295h1v1h-1zM114 296h1v1h-1zM122 296h3v1h-3zM130 296h1v1h-1zM135 296h2v1h-2zM145 296h2v1h-2zM153 296h1v1h-1zM156 296h1v1h-1zM159 296h1v1h-1zM161 296h4v1h-4zM169 296h2v1h-2zM178 296h1v1h-1zM182 296h2v1h-2zM185 296h1v1h-1zM111 297h1v1h-1zM123 297h1v1h-1zM126 297h2v1h-2zM131 297h1v1h-1zM134 297h1v1h-1zM145 297h2v1h-2zM151 297h1v1h-1zM157 297h1v1h-1zM162 297h1v1h-1zM164 297h2v1h-2zM168 297h6v1h-6zM176 297h1v1h-1zM182 297h1v1h-1zM189 297h2v1h-2zM195 297h1v1h-1zM211 297h1v1h-1zM122 298h2v1h-2zM127 298h1v1h-1zM133 298h4v1h-4zM143 298h1v1h-1zM145 298h3v1h-3zM149 298h1v1h-1zM157 298h2v1h-2zM162 298h1v1h-1zM165 298h1v1h-1zM167 298h1v1h-1zM172 298h5v1h-5zM182 298h1v1h-1zM202 298h1v1h-1zM110 299h1v1h-1zM124 299h2v1h-2zM129 299h2v1h-2zM132 299h1v1h-1zM134 299h9v1h-9zM146 299h4v1h-4zM156 299h1v1h-1zM158 299h1v1h-1zM161 299h1v1h-1zM170 299h2v1h-2zM184 299h1v1h-1zM111 300h3v1h-3zM121 300h1v1h-1zM133 300h5v1h-5zM146 300h2v1h-2zM150 300h2v1h-2zM154 300h1v1h-1zM158 300h1v1h-1zM161 300h1v1h-1zM176 300h2v1h-2zM181 300h1v1h-1zM191 300h1v1h-1zM212 300h1v1h-1zM96 301h1v1h-1zM99 301h1v1h-1zM113 301h1v1h-1zM117 301h1v1h-1zM126 301h2v1h-2zM133 301h3v1h-3zM137 301h1v1h-1zM140 301h1v1h-1zM144 301h1v1h-1zM147 301h2v1h-2zM150 301h1v1h-1zM152 301h1v1h-1zM162 301h1v1h-1zM174 301h1v1h-1zM185 301h1v1h-1zM187 301h1v1h-1zM80 302h1v1h-1zM125 302h4v1h-4zM132 302h4v1h-4zM139 302h7v1h-7zM148 302h1v1h-1zM150 302h1v1h-1zM154 302h1v1h-1zM165 302h1v1h-1zM169 302h2v1h-2zM191 302h1v1h-1zM204 302h1v1h-1zM213 302h1v1h-1zM89 303h1v1h-1zM115 303h1v1h-1zM119 303h1v1h-1zM125 303h1v1h-1zM133 303h2v1h-2zM139 303h1v1h-1zM141 303h3v1h-3zM148 303h1v1h-1zM157 303h1v1h-1zM159 303h1v1h-1zM163 303h1v1h-1zM167 303h1v1h-1zM177 303h1v1h-1zM180 303h2v1h-2zM186 303h1v1h-1zM192 303h1v1h-1zM199 303h1v1h-1zM110 304h1v1h-1zM120 304h3v1h-3zM125 304h1v1h-1zM128 304h3v1h-3zM133 304h2v1h-2zM136 304h4v1h-4zM154 304h1v1h-1zM157 304h1v1h-1zM160 304h1v1h-1zM162 304h1v1h-1zM179 304h1v1h-1zM200 304h1v1h-1zM107 305h1v1h-1zM112 305h1v1h-1zM118 305h2v1h-2zM122 305h1v1h-1zM125 305h1v1h-1zM129 305h2v1h-2zM133 305h3v1h-3zM139 305h1v1h-1zM146 305h1v1h-1zM149 305h3v1h-3zM154 305h2v1h-2zM157 305h1v1h-1zM163 305h1v1h-1zM170 305h1v1h-1zM177 305h2v1h-2zM182 305h1v1h-1zM200 305h1v1h-1zM104 306h1v1h-1zM111 306h1v1h-1zM114 306h1v1h-1zM118 306h2v1h-2zM129 306h1v1h-1zM133 306h3v1h-3zM137 306h8v1h-8zM146 306h3v1h-3zM150 306h5v1h-5zM157 306h1v1h-1zM162 306h4v1h-4zM168 306h1v1h-1zM172 306h2v1h-2zM178 306h2v1h-2zM181 306h1v1h-1zM198 306h1v1h-1zM200 306h1v1h-1zM112 307h4v1h-4zM120 307h1v1h-1zM124 307h2v1h-2zM134 307h2v1h-2zM137 307h2v1h-2zM140 307h1v1h-1zM142 307h1v1h-1zM146 307h3v1h-3zM150 307h1v1h-1zM154 307h1v1h-1zM157 307h2v1h-2zM161 307h1v1h-1zM163 307h2v1h-2zM168 307h1v1h-1zM172 307h4v1h-4zM186 307h1v1h-1zM93 308h1v1h-1zM106 308h1v1h-1zM113 308h1v1h-1zM117 308h1v1h-1zM124 308h1v1h-1zM132 308h1v1h-1zM136 308h3v1h-3zM141 308h1v1h-1zM146 308h1v1h-1zM148 308h3v1h-3zM153 308h1v1h-1zM158 308h1v1h-1zM160 308h1v1h-1zM168 308h1v1h-1zM171 308h1v1h-1zM177 308h1v1h-1zM194 308h2v1h-2zM197 308h1v1h-1zM201 308h1v1h-1zM116 309h1v1h-1zM121 309h1v1h-1zM125 309h2v1h-2zM128 309h1v1h-1zM135 309h1v1h-1zM141 309h1v1h-1zM143 309h1v1h-1zM146 309h2v1h-2zM149 309h1v1h-1zM152 309h2v1h-2zM156 309h1v1h-1zM158 309h2v1h-2zM168 309h1v1h-1zM200 309h1v1h-1zM99 310h1v1h-1zM107 310h4v1h-4zM118 310h1v1h-1zM122 310h4v1h-4zM129 310h1v1h-1zM137 310h3v1h-3zM143 310h3v1h-3zM149 310h1v1h-1zM154 310h1v1h-1zM172 310h3v1h-3zM178 310h1v1h-1zM184 310h1v1h-1zM190 310h1v1h-1zM213 310h1v1h-1zM102 311h1v1h-1zM108 311h2v1h-2zM112 311h1v1h-1zM115 311h3v1h-3zM119 311h2v1h-2zM122 311h4v1h-4zM129 311h1v1h-1zM131 311h1v1h-1zM134 311h1v1h-1zM139 311h1v1h-1zM143 311h6v1h-6zM151 311h2v1h-2zM155 311h3v1h-3zM167 311h1v1h-1zM170 311h1v1h-1zM173 311h1v1h-1zM183 311h1v1h-1zM190 311h1v1h-1zM193 311h1v1h-1zM89 312h1v1h-1zM105 312h2v1h-2zM108 312h2v1h-2zM123 312h2v1h-2zM127 312h1v1h-1zM129 312h2v1h-2zM132 312h5v1h-5zM138 312h3v1h-3zM142 312h8v1h-8zM151 312h1v1h-1zM159 312h1v1h-1zM162 312h3v1h-3zM169 312h1v1h-1zM171 312h3v1h-3zM176 312h1v1h-1zM181 312h1v1h-1zM183 312h1v1h-1zM192 312h1v1h-1zM97 313h1v1h-1zM106 313h3v1h-3zM111 313h1v1h-1zM119 313h1v1h-1zM123 313h3v1h-3zM129 313h3v1h-3zM137 313h1v1h-1zM140 313h1v1h-1zM144 313h1v1h-1zM148 313h1v1h-1zM151 313h1v1h-1zM159 313h1v1h-1zM171 313h1v1h-1zM173 313h1v1h-1zM179 313h1v1h-1zM183 313h1v1h-1zM186 313h1v1h-1zM198 313h1v1h-1zM84 314h1v1h-1zM97 314h1v1h-1zM100 314h1v1h-1zM104 314h1v1h-1zM106 314h2v1h-2zM118 314h2v1h-2zM121 314h7v1h-7zM129 314h4v1h-4zM136 314h1v1h-1zM140 314h3v1h-3zM146 314h4v1h-4zM151 314h1v1h-1zM161 314h1v1h-1zM169 314h1v1h-1zM177 314h1v1h-1zM100 315h1v1h-1zM106 315h5v1h-5zM115 315h6v1h-6zM122 315h3v1h-3zM126 315h2v1h-2zM129 315h3v1h-3zM134 315h3v1h-3zM139 315h5v1h-5zM147 315h5v1h-5zM155 315h1v1h-1zM160 315h1v1h-1zM162 315h1v1h-1zM169 315h3v1h-3zM181 315h1v1h-1zM184 315h1v1h-1zM93 316h1v1h-1zM95 316h1v1h-1zM106 316h1v1h-1zM109 316h2v1h-2zM113 316h3v1h-3zM120 316h5v1h-5zM126 316h6v1h-6zM134 316h2v1h-2zM137 316h1v1h-1zM144 316h7v1h-7zM153 316h2v1h-2zM157 316h2v1h-2zM166 316h1v1h-1zM169 316h5v1h-5zM181 316h2v1h-2zM188 316h1v1h-1zM94 317h2v1h-2zM97 317h1v1h-1zM103 317h1v1h-1zM109 317h7v1h-7zM117 317h1v1h-1zM119 317h10v1h-10zM130 317h8v1h-8zM139 317h3v1h-3zM143 317h2v1h-2zM146 317h1v1h-1zM149 317h1v1h-1zM152 317h2v1h-2zM160 317h1v1h-1zM163 317h3v1h-3zM178 317h1v1h-1zM181 317h1v1h-1zM191 317h1v1h-1zM80 318h1v1h-1zM99 318h2v1h-2zM106 318h3v1h-3zM111 318h2v1h-2zM116 318h16v1h-16zM134 318h6v1h-6zM141 318h2v1h-2zM146 318h2v1h-2zM149 318h1v1h-1zM154 318h2v1h-2zM166 318h1v1h-1zM174 318h1v1h-1zM182 318h1v1h-1zM193 318h1v1h-1zM200 318h1v1h-1zM96 319h1v1h-1zM100 319h1v1h-1zM102 319h7v1h-7zM111 319h2v1h-2zM117 319h1v1h-1zM120 319h1v1h-1zM122 319h3v1h-3zM126 319h10v1h-10zM137 319h5v1h-5zM145 319h2v1h-2zM148 319h3v1h-3zM154 319h4v1h-4zM163 319h1v1h-1zM166 319h2v1h-2zM181 319h1v1h-1zM183 319h1v1h-1zM96 320h1v1h-1zM100 320h1v1h-1zM104 320h3v1h-3zM108 320h2v1h-2zM111 320h3v1h-3zM115 320h10v1h-10zM126 320h15v1h-15zM142 320h5v1h-5zM151 320h1v1h-1zM155 320h4v1h-4zM163 320h2v1h-2zM172 320h3v1h-3zM204 320h1v1h-1zM97 321h1v1h-1zM101 321h1v1h-1zM104 321h2v1h-2zM107 321h3v1h-3zM112 321h1v1h-1zM114 321h8v1h-8zM123 321h1v1h-1zM126 321h13v1h-13zM142 321h10v1h-10zM153 321h1v1h-1zM157 321h1v1h-1zM162 321h1v1h-1zM168 321h1v1h-1zM175 321h1v1h-1zM179 321h1v1h-1zM91 322h1v1h-1zM97 322h1v1h-1zM99 322h1v1h-1zM101 322h12v1h-12zM114 322h11v1h-11zM126 322h15v1h-15zM142 322h2v1h-2zM146 322h4v1h-4zM154 322h1v1h-1zM161 322h1v1h-1zM163 322h5v1h-5zM86 323h2v1h-2zM95 323h3v1h-3zM102 323h1v1h-1zM104 323h17v1h-17zM122 323h3v1h-3zM127 323h3v1h-3zM131 323h12v1h-12zM144 323h1v1h-1zM146 323h5v1h-5zM154 323h1v1h-1zM159 323h2v1h-2zM163 323h1v1h-1zM189 323h3v1h-3zM77 324h1v1h-1zM85 324h1v1h-1zM94 324h2v1h-2zM100 324h1v1h-1zM102 324h1v1h-1zM104 324h11v1h-11zM116 324h5v1h-5zM123 324h3v1h-3zM127 324h2v1h-2zM130 324h6v1h-6zM137 324h8v1h-8zM147 324h3v1h-3zM152 324h1v1h-1zM155 324h2v1h-2zM159 324h2v1h-2zM162 324h2v1h-2zM165 324h1v1h-1zM168 324h1v1h-1zM171 324h1v1h-1zM180 324h1v1h-1zM185 324h1v1h-1zM89 325h1v1h-1zM92 325h1v1h-1zM95 325h5v1h-5zM102 325h3v1h-3zM106 325h31v1h-31zM138 325h5v1h-5zM144 325h1v1h-1zM148 325h2v1h-2zM152 325h1v1h-1zM157 325h1v1h-1zM163 325h2v1h-2zM166 325h1v1h-1zM85 326h1v1h-1zM88 326h2v1h-2zM95 326h3v1h-3zM99 326h5v1h-5zM106 326h5v1h-5zM112 326h28v1h-28zM141 326h1v1h-1zM149 326h1v1h-1zM152 326h1v1h-1zM168 326h1v1h-1zM176 326h1v1h-1zM90 327h1v1h-1zM95 327h3v1h-3zM103 327h1v1h-1zM106 327h1v1h-1zM108 327h12v1h-12zM122 327h12v1h-12zM136 327h4v1h-4zM141 327h3v1h-3zM145 327h1v1h-1zM149 327h1v1h-1zM154 327h1v1h-1zM158 327h1v1h-1zM164 327h1v1h-1zM171 327h1v1h-1zM91 328h1v1h-1zM93 328h1v1h-1zM95 328h3v1h-3zM103 328h17v1h-17zM122 328h13v1h-13zM136 328h3v1h-3zM140 328h7v1h-7zM149 328h1v1h-1zM154 328h1v1h-1zM156 328h1v1h-1zM159 328h1v1h-1zM163 328h1v1h-1zM168 328h1v1h-1zM175 328h1v1h-1zM182 328h1v1h-1zM95 329h5v1h-5zM101 329h9v1h-9zM111 329h23v1h-23zM135 329h17v1h-17zM154 329h2v1h-2zM157 329h2v1h-2zM162 329h1v1h-1zM168 329h1v1h-1zM88 330h1v1h-1zM92 330h1v1h-1zM95 330h2v1h-2zM98 330h12v1h-12zM111 330h22v1h-22zM136 330h3v1h-3zM140 330h4v1h-4zM145 330h2v1h-2zM148 330h2v1h-2zM152 330h2v1h-2zM156 330h2v1h-2zM164 330h1v1h-1zM166 330h1v1h-1zM168 330h1v1h-1zM179 330h1v1h-1zM83 331h1v1h-1zM88 331h1v1h-1zM92 331h2v1h-2zM96 331h1v1h-1zM99 331h36v1h-36zM140 331h2v1h-2zM145 331h5v1h-5zM152 331h2v1h-2zM156 331h1v1h-1zM163 331h1v1h-1zM169 331h1v1h-1zM186 331h1v1h-1zM82 332h1v1h-1zM90 332h1v1h-1zM93 332h1v1h-1zM96 332h41v1h-41zM140 332h9v1h-9zM156 332h1v1h-1zM159 332h1v1h-1zM163 332h1v1h-1zM171 332h1v1h-1zM174 332h1v1h-1zM184 332h1v1h-1zM89 333h1v1h-1zM93 333h3v1h-3zM97 333h41v1h-41zM139 333h5v1h-5zM145 333h1v1h-1zM151 333h1v1h-1zM154 333h6v1h-6zM163 333h5v1h-5zM76 334h1v1h-1zM89 334h1v1h-1zM91 334h1v1h-1zM95 334h1v1h-1zM97 334h2v1h-2zM100 334h6v1h-6zM107 334h17v1h-17zM125 334h10v1h-10zM136 334h10v1h-10zM153 334h2v1h-2zM158 334h1v1h-1zM172 334h1v1h-1zM179 334h1v1h-1zM84 335h3v1h-3zM89 335h1v1h-1zM91 335h2v1h-2zM95 335h3v1h-3zM100 335h13v1h-13zM114 335h38v1h-38zM154 335h1v1h-1zM157 335h2v1h-2zM160 335h1v1h-1zM84 336h3v1h-3zM88 336h12v1h-12zM101 336h31v1h-31zM134 336h8v1h-8zM143 336h2v1h-2zM146 336h1v1h-1zM149 336h3v1h-3zM155 336h1v1h-1zM157 336h1v1h-1zM85 337h1v1h-1zM88 337h9v1h-9zM98 337h44v1h-44zM144 337h4v1h-4zM150 337h4v1h-4zM155 337h1v1h-1zM160 337h1v1h-1zM178 337h2v1h-2zM76 338h1v1h-1zM85 338h1v1h-1zM89 338h1v1h-1zM91 338h45v1h-45zM138 338h6v1h-6zM149 338h1v1h-1zM154 338h1v1h-1zM169 338h1v1h-1zM80 339h2v1h-2zM83 339h3v1h-3zM89 339h7v1h-7zM97 339h39v1h-39zM138 339h2v1h-2zM143 339h1v1h-1zM154 339h2v1h-2zM161 339h1v1h-1zM172 339h1v1h-1zM83 340h4v1h-4zM89 340h3v1h-3zM93 340h2v1h-2zM97 340h42v1h-42zM141 340h3v1h-3zM147 340h1v1h-1zM150 340h2v1h-2zM153 340h2v1h-2zM163 340h1v1h-1zM79 341h1v1h-1zM83 341h3v1h-3zM88 341h3v1h-3zM93 341h41v1h-41zM135 341h4v1h-4zM140 341h1v1h-1zM143 341h2v1h-2zM148 341h3v1h-3zM153 341h2v1h-2zM158 341h1v1h-1zM162 341h2v1h-2zM167 341h1v1h-1zM175 341h1v1h-1zM191 341h1v1h-1zM80 342h1v1h-1zM83 342h3v1h-3zM89 342h51v1h-51zM145 342h2v1h-2zM150 342h1v1h-1zM158 342h1v1h-1zM160 342h4v1h-4zM171 342h1v1h-1zM177 342h1v1h-1zM75 343h1v1h-1zM79 343h1v1h-1zM81 343h1v1h-1zM84 343h59v1h-59zM146 343h2v1h-2zM149 343h2v1h-2zM159 343h1v1h-1zM80 344h2v1h-2zM84 344h1v1h-1zM87 344h46v1h-46zM135 344h2v1h-2zM140 344h4v1h-4zM145 344h2v1h-2zM150 344h1v1h-1zM156 344h1v1h-1zM164 344h1v1h-1zM180 344h1v1h-1zM80 345h47v1h-47zM128 345h3v1h-3zM132 345h4v1h-4zM138 345h4v1h-4zM143 345h1v1h-1zM145 345h2v1h-2zM150 345h3v1h-3zM169 345h1v1h-1zM173 345h1v1h-1zM79 346h1v1h-1zM82 346h45v1h-45zM128 346h3v1h-3zM133 346h7v1h-7zM143 346h1v1h-1zM145 346h1v1h-1zM148 346h1v1h-1zM154 346h1v1h-1zM72 347h1v1h-1zM82 347h49v1h-49zM133 347h1v1h-1zM137 347h3v1h-3zM141 347h5v1h-5zM148 347h1v1h-1zM155 347h3v1h-3zM177 347h1v1h-1zM69 348h1v1h-1zM73 348h2v1h-2zM76 348h1v1h-1zM80 348h1v1h-1zM82 348h49v1h-49zM133 348h1v1h-1zM137 348h2v1h-2zM140 348h2v1h-2zM149 348h2v1h-2zM154 348h1v1h-1zM70 349h1v1h-1zM77 349h58v1h-58zM137 349h2v1h-2zM140 349h2v1h-2zM144 349h1v1h-1zM148 349h3v1h-3zM69 350h1v1h-1zM76 350h53v1h-53zM130 350h6v1h-6zM139 350h3v1h-3zM144 350h1v1h-1zM146 350h1v1h-1zM150 350h1v1h-1zM164 350h1v1h-1zM74 351h2v1h-2zM78 351h45v1h-45zM124 351h5v1h-5zM130 351h4v1h-4zM135 351h1v1h-1zM138 351h1v1h-1zM146 351h3v1h-3zM150 351h1v1h-1zM161 351h1v1h-1zM73 352h3v1h-3zM80 352h53v1h-53zM135 352h5v1h-5zM144 352h3v1h-3zM148 352h1v1h-1zM153 352h1v1h-1zM74 353h3v1h-3zM80 353h49v1h-49zM130 353h4v1h-4zM136 353h7v1h-7zM146 353h1v1h-1zM148 353h2v1h-2zM68 354h2v1h-2zM74 354h55v1h-55zM132 354h1v1h-1zM136 354h5v1h-5zM152 354h1v1h-1zM70 355h59v1h-59zM131 355h2v1h-2zM134 355h2v1h-2zM138 355h3v1h-3zM144 355h4v1h-4zM65 356h1v1h-1zM74 356h57v1h-57zM134 356h1v1h-1zM138 356h2v1h-2zM150 356h1v1h-1zM160 356h1v1h-1zM69 357h1v1h-1zM71 357h2v1h-2zM74 357h2v1h-2zM77 357h54v1h-54zM134 357h1v1h-1zM150 357h1v1h-1zM67 358h2v1h-2zM71 358h4v1h-4zM76 358h53v1h-53zM130 358h3v1h-3zM135 358h1v1h-1zM138 358h1v1h-1zM151 358h1v1h-1zM156 358h1v1h-1zM178 358h1v1h-1zM68 359h1v1h-1zM72 359h3v1h-3zM76 359h46v1h-46zM125 359h4v1h-4zM133 359h1v1h-1zM146 359h1v1h-1zM72 360h51v1h-51zM124 360h1v1h-1zM128 360h2v1h-2zM133 360h1v1h-1zM154 360h1v1h-1zM161 360h1v1h-1zM71 361h55v1h-55zM128 361h5v1h-5zM139 361h1v1h-1zM148 361h1v1h-1zM60 362h1v1h-1zM69 362h53v1h-53zM123 362h3v1h-3zM127 362h1v1h-1zM131 362h1v1h-1zM66 363h51v1h-51zM122 363h6v1h-6zM133 363h3v1h-3zM137 363h1v1h-1zM61 364h1v1h-1zM67 364h50v1h-50zM119 364h2v1h-2zM122 364h1v1h-1zM126 364h2v1h-2zM129 364h1v1h-1zM67 365h48v1h-48zM116 365h3v1h-3zM120 365h1v1h-1zM122 365h3v1h-3zM129 365h1v1h-1zM133 365h1v1h-1zM65 366h1v1h-1zM67 366h59v1h-59zM129 366h2v1h-2zM147 366h1v1h-1zM64 367h1v1h-1zM67 367h1v1h-1zM70 367h43v1h-43zM114 367h4v1h-4zM119 367h4v1h-4zM126 367h1v1h-1zM64 368h1v1h-1zM69 368h49v1h-49zM119 368h1v1h-1zM123 368h1v1h-1zM125 368h1v1h-1zM64 369h51v1h-51zM116 369h1v1h-1zM118 369h1v1h-1zM123 369h2v1h-2zM129 369h1v1h-1zM63 370h46v1h-46zM110 370h5v1h-5zM118 370h1v1h-1zM120 370h1v1h-1zM123 370h2v1h-2zM135 370h1v1h-1zM63 371h1v1h-1zM66 371h42v1h-42zM112 371h2v1h-2zM118 371h1v1h-1zM120 371h4v1h-4zM63 372h2v1h-2zM66 372h42v1h-42zM110 372h1v1h-1zM112 372h2v1h-2zM133 372h1v1h-1zM57 373h1v1h-1zM61 373h48v1h-48zM112 373h1v1h-1zM57 374h1v1h-1zM61 374h47v1h-47zM110 374h2v1h-2zM117 374h1v1h-1zM120 374h1v1h-1zM128 374h1v1h-1zM57 375h2v1h-2zM60 375h45v1h-45zM110 375h1v1h-1zM120 375h1v1h-1zM146 375h1v1h-1zM152 375h1v1h-1zM53 376h1v1h-1zM60 376h36v1h-36zM97 376h8v1h-8zM107 376h3v1h-3zM113 376h2v1h-2zM123 376h1v1h-1zM131 376h1v1h-1zM134 376h1v1h-1zM57 377h1v1h-1zM59 377h40v1h-40zM100 377h2v1h-2zM103 377h2v1h-2zM106 377h8v1h-8zM116 377h1v1h-1zM52 378h1v1h-1zM54 378h1v1h-1zM56 378h51v1h-51zM110 378h1v1h-1zM113 378h1v1h-1zM115 378h1v1h-1zM131 378h1v1h-1zM53 379h1v1h-1zM56 379h45v1h-45zM111 379h1v1h-1zM56 380h46v1h-46zM121 380h1v1h-1zM52 381h47v1h-47zM101 381h1v1h-1zM49 382h1v1h-1zM55 382h2v1h-2zM58 382h37v1h-37zM96 382h3v1h-3zM100 382h4v1h-4zM106 382h1v1h-1zM112 382h1v1h-1zM133 382h1v1h-1zM50 383h3v1h-3zM54 383h39v1h-39zM100 383h1v1h-1zM51 384h2v1h-2zM54 384h39v1h-39zM96 384h1v1h-1zM46 385h1v1h-1zM51 385h42v1h-42zM94 385h1v1h-1zM48 386h39v1h-39zM89 386h5v1h-5zM95 386h1v1h-1zM48 387h39v1h-39zM89 387h1v1h-1zM94 387h2v1h-2zM46 388h1v1h-1zM51 388h37v1h-37zM91 388h2v1h-2zM96 388h1v1h-1zM51 389h37v1h-37zM94 389h1v1h-1zM109 389h1v1h-1zM49 390h34v1h-34zM84 390h4v1h-4zM97 390h1v1h-1zM44 391h1v1h-1zM48 391h39v1h-39zM90 391h1v1h-1zM93 391h1v1h-1zM45 392h35v1h-35zM81 392h1v1h-1zM84 392h3v1h-3zM102 392h1v1h-1zM45 393h3v1h-3zM50 393h30v1h-30zM82 393h1v1h-1zM84 393h1v1h-1zM87 393h1v1h-1zM44 394h36v1h-36zM82 394h1v1h-1zM84 394h1v1h-1zM44 395h38v1h-38zM44 396h36v1h-36zM47 397h32v1h-32zM49 398h28v1h-28zM81 398h3v1h-3zM45 399h29v1h-29zM75 399h2v1h-2zM88 399h1v1h-1zM40 400h1v1h-1zM46 400h28v1h-28zM76 400h2v1h-2zM80 400h1v1h-1zM34 401h1v1h-1zM40 401h3v1h-3zM46 401h28v1h-28zM40 402h1v1h-1zM45 402h1v1h-1zM47 402h21v1h-21zM69 402h2v1h-2zM72 402h1v1h-1zM45 403h3v1h-3zM49 403h1v1h-1zM51 403h17v1h-17zM70 403h1v1h-1zM45 404h1v1h-1zM51 404h17v1h-17zM70 404h1v1h-1zM73 404h3v1h-3zM81 404h1v1h-1zM41 405h1v1h-1zM48 405h2v1h-2zM51 405h9v1h-9zM62 405h3v1h-3zM67 405h1v1h-1zM70 405h2v1h-2zM74 405h2v1h-2zM49 406h3v1h-3zM53 406h2v1h-2zM56 406h2v1h-2zM61 406h2v1h-2zM67 406h1v1h-1zM69 406h1v1h-1zM74 406h1v1h-1zM38 407h1v1h-1zM53 407h1v1h-1zM55 407h3v1h-3zM59 407h1v1h-1zM61 407h2v1h-2zM67 407h2v1h-2zM53 408h1v1h-1zM56 408h3v1h-3zM61 408h5v1h-5zM68 408h1v1h-1zM60 409h1v1h-1zM92.0 385.3h1.8v1.8h-1.8zM48.8 404.1h1.8v1.8h-1.8zM157.5 298.1h1.8v1.8h-1.8zM60.7 374.3h1.8v1.8h-1.8zM72.1 354.3h1.8v1.8h-1.8zM114.9 363.6h1.8v1.8h-1.8zM94.5 340.8h1.8v1.8h-1.8zM165.4 329.2h1.8v1.8h-1.8zM146.2 337.1h1.8v1.8h-1.8zM162.0 293.2h1.8v1.8h-1.8zM156.9 304.9h1.8v1.8h-1.8zM60.8 363.4h1.8v1.8h-1.8zM98.2 375.8h1.8v1.8h-1.8zM139.4 331.4h1.8v1.8h-1.8zM114.5 367.9h1.8v1.8h-1.8zM97.6 332.4h1.8v1.8h-1.8zM129.5 348.6h1.8v1.8h-1.8zM137.9 325.0h1.8v1.8h-1.8zM146.7 310.8h1.8v1.8h-1.8zM110.6 319.2h1.8v1.8h-1.8zM133.0 381.6h1.8v1.8h-1.8zM149.0 342.8h1.8v1.8h-1.8zM88.2 337.0h1.8v1.8h-1.8zM146.2 317.5h1.8v1.8h-1.8zM126.6 323.9h1.8v1.8h-1.8zM134.9 351.9h1.8v1.8h-1.8zM78.6 353.8h1.8v1.8h-1.8zM124.1 311.5h1.8v1.8h-1.8zM162.2 285.4h1.8v1.8h-1.8zM83.9 389.9h1.8v1.8h-1.8zM176.9 347.0h1.8v1.8h-1.8zM112.5 301.1h1.8v1.8h-1.8zM108.8 311.1h1.8v1.8h-1.8zM132.1 263.4h1.8v1.8h-1.8zM69.9 366.4h1.8v1.8h-1.8zM136.3 317.5h1.8v1.8h-1.8zM53.5 377.6h1.8v1.8h-1.8zM141.9 294.6h1.8v1.8h-1.8zM134.3 334.2h1.8v1.8h-1.8zM149.3 349.0h1.8v1.8h-1.8zM129.3 344.0h1.8v1.8h-1.8zM130.0 350.3h1.8v1.8h-1.8zM103.9 323.6h1.8v1.8h-1.8zM82.8 339.9h1.8v1.8h-1.8zM178.7 320.2h1.8v1.8h-1.8zM152.6 275.1h1.8v1.8h-1.8zM99.1 332.6h1.8v1.8h-1.8zM176.8 342.0h1.8v1.8h-1.8zM148.6 298.0h1.8v1.8h-1.8zM129.5 347.2h1.8v1.8h-1.8zM111.3 376.9h1.8v1.8h-1.8zM147.8 306.3h1.8v1.8h-1.8zM74.3 356.2h1.8v1.8h-1.8zM47.8 404.5h1.8v1.8h-1.8zM142.7 308.4h1.8v1.8h-1.8zM109.4 327.0h1.8v1.8h-1.8zM130.8 361.2h1.8v1.8h-1.8zM149.3 350.8h1.8v1.8h-1.8zM109.1 368.2h1.8v1.8h-1.8zM163.0 319.0h1.8v1.8h-1.8zM123.7 314.4h1.8v1.8h-1.8zM92.6 381.3h1.8v1.8h-1.8zM110.9 373.6h1.8v1.8h-1.8zM115.7 314.3h1.8v1.8h-1.8zM160.9 338.4h1.8v1.8h-1.8zM127.2 317.4h1.8v1.8h-1.8zM137.3 327.4h1.8v1.8h-1.8zM177.9 316.7h1.8v1.8h-1.8zM96.8 327.8h1.8v1.8h-1.8zM78.8 390.3h1.8v1.8h-1.8zM105.9 324.6h1.8v1.8h-1.8zM105.4 332.6h1.8v1.8h-1.8zM121.1 357.4h1.8v1.8h-1.8zM109.1 327.3h1.8v1.8h-1.8zM69.0 353.3h1.8v1.8h-1.8zM79.7 301.3h1.8v1.8h-1.8zM153.2 301.8h1.8v1.8h-1.8zM205.7 290.4h1.8v1.8h-1.8zM146.5 286.2h1.8v1.8h-1.8zM106.2 317.8h1.8v1.8h-1.8zM84.8 342.4h1.8v1.8h-1.8zM138.5 326.3h1.8v1.8h-1.8zM97.5 382.0h1.8v1.8h-1.8zM130.2 296.9h1.8v1.8h-1.8zM66.3 362.5h1.8v1.8h-1.8zM92.8 340.4h1.8v1.8h-1.8zM138.5 325.8h1.8v1.8h-1.8zM111.5 369.2h1.8v1.8h-1.8zM99.3 329.6h1.8v1.8h-1.8zM90.5 335.9h1.8v1.8h-1.8zM160.6 299.2h1.8v1.8h-1.8zM106.8 314.6h1.8v1.8h-1.8zM149.6 339.7h1.8v1.8h-1.8zM134.7 342.8h1.8v1.8h-1.8zM105.7 315.2h1.8v1.8h-1.8zM158.5 312.0h1.8v1.8h-1.8zM145.6 336.8h1.8v1.8h-1.8zM170.6 272.2h1.8v1.8h-1.8zM119.5 366.5h1.8v1.8h-1.8zM109.9 368.6h1.8v1.8h-1.8zM151.5 325.9h1.8v1.8h-1.8zM125.3 321.1h1.8v1.8h-1.8zM131.0 314.4h1.8v1.8h-1.8zM112.2 335.6h1.8v1.8h-1.8zM139.2 353.4h1.8v1.8h-1.8zM182.8 312.7h1.8v1.8h-1.8zM87.9 335.4h1.8v1.8h-1.8zM119.0 302.5h1.8v1.8h-1.8zM101.1 321.9h1.8v1.8h-1.8zM83.7 314.0h1.8v1.8h-1.8zM154.7 319.6h1.8v1.8h-1.8zM180.2 280.7h1.8v1.8h-1.8zM102.2 375.6h1.8v1.8h-1.8zM50.9 402.7h1.8v1.8h-1.8zM127.9 262.0h1.8v1.8h-1.8zM145.3 320.1h1.8v1.8h-1.8zM159.9 282.3h1.8v1.8h-1.8zM142.2 341.0h1.8v1.8h-1.8zM183.9 331.5h1.8v1.8h-1.8zM144.8 296.5h1.8v1.8h-1.8zM143.4 305.5h1.8v1.8h-1.8zM146.7 311.5h1.8v1.8h-1.8zM148.2 340.8h1.8v1.8h-1.8zM128.7 313.3h1.8v1.8h-1.8zM85.6 339.8h1.8v1.8h-1.8zM128.9 314.9h1.8v1.8h-1.8zM147.6 348.2h1.8v1.8h-1.8zM154.0 348.1h1.8v1.8h-1.8zM194.0 273.0h1.8v1.8h-1.8zM99.2 329.1h1.8v1.8h-1.8zM95.0 380.2h1.8v1.8h-1.8zM97.2 335.8h1.8v1.8h-1.8zM127.6 346.9h1.8v1.8h-1.8zM164.2 289.7h1.8v1.8h-1.8zM177.3 264.8h1.8v1.8h-1.8zM133.2 297.3h1.8v1.8h-1.8zM131.4 302.1h1.8v1.8h-1.8zM90.4 333.3h1.8v1.8h-1.8zM135.3 352.1h1.8v1.8h-1.8zM94.7 316.3h1.8v1.8h-1.8zM98.6 324.3h1.8v1.8h-1.8zM138.1 303.2h1.8v1.8h-1.8zM140.8 346.7h1.8v1.8h-1.8zM59.9 374.9h1.8v1.8h-1.8zM131.9 298.8h1.8v1.8h-1.8zM180.1 302.9h1.8v1.8h-1.8zM146.2 330.8h1.8v1.8h-1.8zM125.4 308.3h1.8v1.8h-1.8zM209.0 293.4h1.8v1.8h-1.8zM133.0 316.9h1.8v1.8h-1.8zM90.6 339.2h1.8v1.8h-1.8zM133.1 326.2h1.8v1.8h-1.8zM156.2 282.3h1.8v1.8h-1.8zM122.9 319.3h1.8v1.8h-1.8zM93.9 335.5h1.8v1.8h-1.8zM139.1 329.4h1.8v1.8h-1.8zM124.7 358.0h1.8v1.8h-1.8zM147.2 284.7h1.8v1.8h-1.8zM163.0 306.0h1.8v1.8h-1.8zM155.5 292.3h1.8v1.8h-1.8zM153.4 333.4h1.8v1.8h-1.8zM153.9 322.6h1.8v1.8h-1.8zM95.3 337.2h1.8v1.8h-1.8zM151.0 336.6h1.8v1.8h-1.8zM138.6 328.9h1.8v1.8h-1.8zM102.6 377.9h1.8v1.8h-1.8zM156.5 287.3h1.8v1.8h-1.8zM135.5 276.0h1.8v1.8h-1.8zM114.8 314.5h1.8v1.8h-1.8zM144.7 343.6h1.8v1.8h-1.8zM133.1 326.1h1.8v1.8h-1.8zM76.4 357.8h1.8v1.8h-1.8zM156.3 319.1h1.8v1.8h-1.8zM150.3 304.4h1.8v1.8h-1.8zM140.3 329.4h1.8v1.8h-1.8zM86.4 322.9h1.8v1.8h-1.8zM94.3 380.5h1.8v1.8h-1.8zM64.6 368.9h1.8v1.8h-1.8zM76.6 357.7h1.8v1.8h-1.8zM138.9 318.3h1.8v1.8h-1.8zM91.3 382.3h1.8v1.8h-1.8zM117.9 313.6h1.8v1.8h-1.8zM77.5 353.2h1.8v1.8h-1.8zM155.0 323.3h1.8v1.8h-1.8zM137.3 327.2h1.8v1.8h-1.8zM197.3 286.2h1.8v1.8h-1.8zM133.2 341.7h1.8v1.8h-1.8zM176.2 313.2h1.8v1.8h-1.8zM169.0 301.3h1.8v1.8h-1.8zM106.7 370.7h1.8v1.8h-1.8zM156.3 280.7h1.8v1.8h-1.8zM132.1 347.9h1.8v1.8h-1.8zM78.7 354.0h1.8v1.8h-1.8zM131.3 354.2h1.8v1.8h-1.8zM109.2 292.8h1.8v1.8h-1.8zM161.3 328.6h1.8v1.8h-1.8zM135.5 345.4h1.8v1.8h-1.8zM98.0 381.8h1.8v1.8h-1.8zM147.4 305.2h1.8v1.8h-1.8zM95.4 374.3h1.8v1.8h-1.8zM155.9 330.0h1.8v1.8h-1.8zM124.8 324.7h1.8v1.8h-1.8zM154.1 328.5h1.8v1.8h-1.8zM120.6 358.8h1.8v1.8h-1.8zM125.6 316.6h1.8v1.8h-1.8zM124.0 359.6h1.8v1.8h-1.8zM137.9 333.5h1.8v1.8h-1.8zM87.2 331.1h1.8v1.8h-1.8zM73.5 353.1h1.8v1.8h-1.8zM87.3 384.7h1.8v1.8h-1.8zM138.8 332.2h1.8v1.8h-1.8zM103.4 324.6h1.8v1.8h-1.8zM98.8 329.4h1.8v1.8h-1.8zM163.4 332.6h1.8v1.8h-1.8zM116.4 316.8h1.8v1.8h-1.8zM113.8 334.0h1.8v1.8h-1.8zM132.0 328.6h1.8v1.8h-1.8zM118.5 314.3h1.8v1.8h-1.8zM147.6 332.0h1.8v1.8h-1.8zM122.0 363.7h1.8v1.8h-1.8zM132.2 345.7h1.8v1.8h-1.8zM104.7 334.9h1.8v1.8h-1.8zM93.3 338.6h1.8v1.8h-1.8zM115.3 311.1h1.8v1.8h-1.8zM128.2 348.6h1.8v1.8h-1.8zM146.4 297.1h1.8v1.8h-1.8zM179.2 277.3h1.8v1.8h-1.8zM147.0 298.1h1.8v1.8h-1.8zM118.7 305.1h1.8v1.8h-1.8zM115.9 362.7h1.8v1.8h-1.8zM144.3 333.3h1.8v1.8h-1.8zM133.0 326.8h1.8v1.8h-1.8zM125.2 345.7h1.8v1.8h-1.8zM179.7 279.0h1.8v1.8h-1.8zM127.8 324.7h1.8v1.8h-1.8zM53.8 383.3h1.8v1.8h-1.8zM125.6 366.7h1.8v1.8h-1.8zM108.4 321.7h1.8v1.8h-1.8zM143.9 323.1h1.8v1.8h-1.8zM173.5 317.3h1.8v1.8h-1.8zM149.2 347.3h1.8v1.8h-1.8zM135.3 345.9h1.8v1.8h-1.8zM97.4 336.1h1.8v1.8h-1.8zM152.6 308.8h1.8v1.8h-1.8zM158.3 331.4h1.8v1.8h-1.8zM147.3 324.8h1.8v1.8h-1.8zM119.6 310.1h1.8v1.8h-1.8zM162.5 302.6h1.8v1.8h-1.8zM79.4 390.6h1.8v1.8h-1.8zM190.8 301.6h1.8v1.8h-1.8zM155.6 272.5h1.8v1.8h-1.8zM152.1 340.5h1.8v1.8h-1.8zM145.6 374.7h1.8v1.8h-1.8zM157.5 333.0h1.8v1.8h-1.8zM183.2 298.3h1.8v1.8h-1.8zM133.8 342.5h1.8v1.8h-1.8zM112.6 316.9h1.8v1.8h-1.8zM177.2 261.0h1.8v1.8h-1.8zM65.8 370.3h1.8v1.8h-1.8zM99.7 294.4h1.8v1.8h-1.8zM73.7 357.5h1.8v1.8h-1.8zM114.9 324.2h1.8v1.8h-1.8zM134.7 337.5h1.8v1.8h-1.8zM149.6 341.4h1.8v1.8h-1.8zM125.7 321.7h1.8v1.8h-1.8zM148.8 286.1h1.8v1.8h-1.8zM161.4 314.2h1.8v1.8h-1.8zM100.5 375.5h1.8v1.8h-1.8zM137.2 321.1h1.8v1.8h-1.8zM158.3 323.8h1.8v1.8h-1.8zM119.7 374.0h1.8v1.8h-1.8zM122.7 319.9h1.8v1.8h-1.8zM94.8 376.2h1.8v1.8h-1.8zM112.2 315.7h1.8v1.8h-1.8zM124.4 306.3h1.8v1.8h-1.8zM132.9 305.7h1.8v1.8h-1.8zM155.0 320.1h1.8v1.8h-1.8zM132.2 311.2h1.8v1.8h-1.8zM127.0 324.1h1.8v1.8h-1.8zM134.4 337.4h1.8v1.8h-1.8zM124.4 261.0h1.8v1.8h-1.8zM118.9 325.6h1.8v1.8h-1.8zM146.1 322.3h1.8v1.8h-1.8zM81.8 347.7h1.8v1.8h-1.8zM123.6 312.1h1.8v1.8h-1.8zM157.4 340.3h1.8v1.8h-1.8zM96.3 322.2h1.8v1.8h-1.8zM134.5 305.3h1.8v1.8h-1.8zM47.6 391.0h1.8v1.8h-1.8zM146.0 314.0h1.8v1.8h-1.8zM88.9 324.8h1.8v1.8h-1.8zM105.6 322.0h1.8v1.8h-1.8zM129.5 295.6h1.8v1.8h-1.8zM147.9 330.0h1.8v1.8h-1.8zM99.7 326.1h1.8v1.8h-1.8zM177.4 295.9h1.8v1.8h-1.8zM75.7 397.5h1.8v1.8h-1.8zM117.0 319.0h1.8v1.8h-1.8zM121.0 308.7h1.8v1.8h-1.8zM121.8 327.7h1.8v1.8h-1.8zM126.9 346.5h1.8v1.8h-1.8zM127.9 349.2h1.8v1.8h-1.8zM99.8 319.4h1.8v1.8h-1.8zM101.7 375.6h1.8v1.8h-1.8zM99.0 329.8h1.8v1.8h-1.8zM185.5 330.3h1.8v1.8h-1.8zM144.5 320.4h1.8v1.8h-1.8zM142.2 338.0h1.8v1.8h-1.8zM152.8 340.4h1.8v1.8h-1.8zM110.6 329.2h1.8v1.8h-1.8zM75.8 358.0h1.8v1.8h-1.8zM154.4 310.9h1.8v1.8h-1.8zM79.2 348.3h1.8v1.8h-1.8zM141.1 352.7h1.8v1.8h-1.8zM73.1 351.9h1.8v1.8h-1.8zM139.8 298.7h1.8v1.8h-1.8zM158.8 246.0h1.8v1.8h-1.8zM123.0 278.9h1.8v1.8h-1.8zM120.8 359.7h1.8v1.8h-1.8zM135.1 326.7h1.8v1.8h-1.8zM144.7 326.6h1.8v1.8h-1.8zM84.7 326.1h1.8v1.8h-1.8zM106.0 377.9h1.8v1.8h-1.8zM146.5 320.9h1.8v1.8h-1.8zM143.3 312.6h1.8v1.8h-1.8zM100.0 314.1h1.8v1.8h-1.8zM143.5 288.8h1.8v1.8h-1.8zM144.9 333.2h1.8v1.8h-1.8zM122.9 314.0h1.8v1.8h-1.8zM55.5 377.3h1.8v1.8h-1.8zM105.6 319.5h1.8v1.8h-1.8zM102.9 316.6h1.8v1.8h-1.8zM119.6 364.9h1.8v1.8h-1.8zM142.3 301.6h1.8v1.8h-1.8zM122.9 275.2h1.8v1.8h-1.8zM104.0 290.7h1.8v1.8h-1.8zM167.5 280.5h1.8v1.8h-1.8zM138.6 310.1h1.8v1.8h-1.8zM120.1 321.5h1.8v1.8h-1.8zM167.3 308.4h1.8v1.8h-1.8zM131.5 329.4h1.8v1.8h-1.8zM166.9 271.2h1.8v1.8h-1.8zM149.6 343.0h1.8v1.8h-1.8zM109.5 330.3h1.8v1.8h-1.8zM109.6 325.4h1.8v1.8h-1.8zM147.2 323.4h1.8v1.8h-1.8zM164.4 296.5h1.8v1.8h-1.8zM162.7 304.8h1.8v1.8h-1.8zM55.7 381.2h1.8v1.8h-1.8zM165.7 288.1h1.8v1.8h-1.8zM148.9 314.6h1.8v1.8h-1.8zM155.5 323.5h1.8v1.8h-1.8zM131.6 328.4h1.8v1.8h-1.8zM111.7 307.1h1.8v1.8h-1.8zM149.7 278.0h1.8v1.8h-1.8zM149.6 307.6h1.8v1.8h-1.8zM93.7 340.4h1.8v1.8h-1.8zM131.5 357.7h1.8v1.8h-1.8zM92.4 339.2h1.8v1.8h-1.8zM150.5 299.5h1.8v1.8h-1.8zM180.9 294.4h1.8v1.8h-1.8zM155.0 318.1h1.8v1.8h-1.8zM68.6 349.7h1.8v1.8h-1.8zM141.2 342.3h1.8v1.8h-1.8zM121.5 366.7h1.8v1.8h-1.8zM140.6 337.6h1.8v1.8h-1.8zM110.6 316.3h1.8v1.8h-1.8zM189.7 284.0h1.8v1.8h-1.8zM141.1 322.6h1.8v1.8h-1.8zM146.9 320.3h1.8v1.8h-1.8zM148.5 327.7h1.8v1.8h-1.8zM110.2 316.2h1.8v1.8h-1.8zM140.5 324.7h1.8v1.8h-1.8zM191.9 303.0h1.8v1.8h-1.8zM79.8 338.5h1.8v1.8h-1.8zM130.9 311.0h1.8v1.8h-1.8zM124.9 357.6h1.8v1.8h-1.8zM110.6 328.0h1.8v1.8h-1.8zM151.1 310.9h1.8v1.8h-1.8zM191.3 290.4h1.8v1.8h-1.8zM88.5 386.6h1.8v1.8h-1.8zM109.7 298.9h1.8v1.8h-1.8zM108.0 368.6h1.8v1.8h-1.8zM135.0 337.4h1.8v1.8h-1.8zM98.0 329.2h1.8v1.8h-1.8zM91.0 334.8h1.8v1.8h-1.8zM56.5 405.9h1.8v1.8h-1.8zM97.4 333.2h1.8v1.8h-1.8zM115.0 314.6h1.8v1.8h-1.8zM135.5 332.0h1.8v1.8h-1.8zM65.3 370.6h1.8v1.8h-1.8zM102.9 377.4h1.8v1.8h-1.8zM118.8 363.4h1.8v1.8h-1.8zM49.3 389.5h1.8v1.8h-1.8zM106.3 372.2h1.8v1.8h-1.8zM95.3 320.0h1.8v1.8h-1.8zM161.9 311.3h1.8v1.8h-1.8zM160.2 321.6h1.8v1.8h-1.8zM125.9 317.8h1.8v1.8h-1.8zM135.1 318.8h1.8v1.8h-1.8zM146.5 355.1h1.8v1.8h-1.8zM122.9 362.4h1.8v1.8h-1.8zM89.5 339.4h1.8v1.8h-1.8zM108.5 376.4h1.8v1.8h-1.8zM112.8 370.8h1.8v1.8h-1.8zM139.6 344.4h1.8v1.8h-1.8zM110.7 328.6h1.8v1.8h-1.8zM134.8 308.6h1.8v1.8h-1.8zM176.1 325.1h1.8v1.8h-1.8zM169.7 278.5h1.8v1.8h-1.8zM149.0 327.2h1.8v1.8h-1.8zM56.3 374.1h1.8v1.8h-1.8zM136.8 309.5h1.8v1.8h-1.8zM137.1 333.8h1.8v1.8h-1.8zM116.0 361.5h1.8v1.8h-1.8zM57.7 382.0h1.8v1.8h-1.8zM144.0 355.0h1.8v1.8h-1.8zM152.7 280.0h1.8v1.8h-1.8zM91.8 330.8h1.8v1.8h-1.8zM161.7 305.9h1.8v1.8h-1.8zM148.4 330.5h1.8v1.8h-1.8zM132.9 349.7h1.8v1.8h-1.8zM144.2 302.0h1.8v1.8h-1.8zM74.3 342.3h1.8v1.8h-1.8zM60.3 373.1h1.8v1.8h-1.8zM167.7 276.7h1.8v1.8h-1.8zM147.0 323.8h1.8v1.8h-1.8zM78.9 354.0h1.8v1.8h-1.8zM162.2 340.0h1.8v1.8h-1.8zM132.7 305.5h1.8v1.8h-1.8zM145.9 274.5h1.8v1.8h-1.8zM139.4 352.9h1.8v1.8h-1.8zM70.8 357.9h1.8v1.8h-1.8zM96.5 324.6h1.8v1.8h-1.8zM112.9 367.8h1.8v1.8h-1.8zM152.5 329.3h1.8v1.8h-1.8zM172.2 271.6h1.8v1.8h-1.8zM142.2 327.7h1.8v1.8h-1.8zM137.4 342.8h1.8v1.8h-1.8zM158.6 342.3h1.8v1.8h-1.8zM105.0 373.7h1.8v1.8h-1.8zM172.6 289.9h1.8v1.8h-1.8zM127.8 350.9h1.8v1.8h-1.8zM134.8 301.4h1.8v1.8h-1.8zM100.6 382.1h1.8v1.8h-1.8zM94.8 325.6h1.8v1.8h-1.8zM124.4 312.9h1.8v1.8h-1.8zM98.2 331.6h1.8v1.8h-1.8zM129.9 349.7h1.8v1.8h-1.8zM124.3 357.6h1.8v1.8h-1.8zM122.9 364.6h1.8v1.8h-1.8zM144.0 315.3h1.8v1.8h-1.8zM128.9 352.1h1.8v1.8h-1.8zM71.0 361.3h1.8v1.8h-1.8zM118.5 302.4h1.8v1.8h-1.8zM179.8 259.6h1.8v1.8h-1.8zM156.1 357.6h1.8v1.8h-1.8zM115.3 293.1h1.8v1.8h-1.8zM86.4 384.8h1.8v1.8h-1.8zM95.6 376.6h1.8v1.8h-1.8zM156.8 303.3h1.8v1.8h-1.8zM156.7 304.9h1.8v1.8h-1.8zM123.4 360.6h1.8v1.8h-1.8zM153.4 299.8h1.8v1.8h-1.8zM96.7 337.8h1.8v1.8h-1.8zM122.6 334.7h1.8v1.8h-1.8zM74.3 352.4h1.8v1.8h-1.8zM138.4 326.2h1.8v1.8h-1.8zM100.0 381.9h1.8v1.8h-1.8zM138.8 352.9h1.8v1.8h-1.8zM123.1 357.3h1.8v1.8h-1.8zM113.4 305.9h1.8v1.8h-1.8zM130.9 313.1h1.8v1.8h-1.8zM157.8 316.0h1.8v1.8h-1.8zM69.5 366.0h1.8v1.8h-1.8zM115.5 324.4h1.8v1.8h-1.8zM108.4 309.8h1.8v1.8h-1.8zM147.0 323.4h1.8v1.8h-1.8zM99.9 315.1h1.8v1.8h-1.8zM143.7 311.6h1.8v1.8h-1.8zM90.0 342.0h1.8v1.8h-1.8zM130.1 312.0h1.8v1.8h-1.8zM105.2 318.5h1.8v1.8h-1.8zM138.2 294.5h1.8v1.8h-1.8zM101.9 381.9h1.8v1.8h-1.8zM170.7 266.8h1.8v1.8h-1.8zM99.5 378.0h1.8v1.8h-1.8zM114.4 314.2h1.8v1.8h-1.8zM120.9 361.2h1.8v1.8h-1.8zM68.4 361.6h1.8v1.8h-1.8zM163.3 324.9h1.8v1.8h-1.8zM113.9 316.9h1.8v1.8h-1.8zM145.0 320.4h1.8v1.8h-1.8zM105.3 321.9h1.8v1.8h-1.8zM145.6 352.5h1.8v1.8h-1.8zM111.3 335.5h1.8v1.8h-1.8zM120.6 328.8h1.8v1.8h-1.8zM139.3 349.3h1.8v1.8h-1.8zM157.1 329.3h1.8v1.8h-1.8zM130.3 335.0h1.8v1.8h-1.8zM112.5 370.7h1.8v1.8h-1.8zM88.7 342.3h1.8v1.8h-1.8zM68.8 369.0h1.8v1.8h-1.8zM132.1 359.2h1.8v1.8h-1.8zM111.5 370.4h1.8v1.8h-1.8zM109.6 377.7h1.8v1.8h-1.8zM73.5 351.7h1.8v1.8h-1.8zM105.7 325.1h1.8v1.8h-1.8zM110.7 316.3h1.8v1.8h-1.8zM131.8 330.0h1.8v1.8h-1.8zM146.2 339.1h1.8v1.8h-1.8zM143.8 324.9h1.8v1.8h-1.8zM67.6 368.8h1.8v1.8h-1.8zM96.4 321.6h1.8v1.8h-1.8zM103.7 313.9h1.8v1.8h-1.8zM145.2 318.5h1.8v1.8h-1.8zM84.0 343.7h1.8v1.8h-1.8zM137.9 344.7h1.8v1.8h-1.8zM132.4 359.1h1.8v1.8h-1.8zM171.0 312.1h1.8v1.8h-1.8zM88.3 332.4h1.8v1.8h-1.8zM113.6 321.7h1.8v1.8h-1.8zM100.7 328.2h1.8v1.8h-1.8zM105.0 334.2h1.8v1.8h-1.8zM103.5 322.0h1.8v1.8h-1.8zM87.5 384.4h1.8v1.8h-1.8zM53.1 384.7h1.8v1.8h-1.8zM158.8 308.4h1.8v1.8h-1.8zM134.3 317.7h1.8v1.8h-1.8zM120.9 366.3h1.8v1.8h-1.8zM132.1 352.4h1.8v1.8h-1.8zM66.3 366.3h1.8v1.8h-1.8zM139.1 324.3h1.8v1.8h-1.8zM64.0 369.8h1.8v1.8h-1.8zM161.1 341.2h1.8v1.8h-1.8zM123.1 321.2h1.8v1.8h-1.8zM117.5 294.6h1.8v1.8h-1.8zM125.5 313.8h1.8v1.8h-1.8zM145.3 349.3h1.8v1.8h-1.8zM108.0 372.8h1.8v1.8h-1.8zM160.8 360.1h1.8v1.8h-1.8zM155.2 323.3h1.8v1.8h-1.8zM150.0 344.3h1.8v1.8h-1.8zM122.8 375.2h1.8v1.8h-1.8zM123.1 276.6h1.8v1.8h-1.8zM85.4 334.9h1.8v1.8h-1.8zM139.6 256.6h1.8v1.8h-1.8zM147.4 306.1h1.8v1.8h-1.8zM131.3 277.9h1.8v1.8h-1.8zM110.0 314.8h1.8v1.8h-1.8zM161.9 282.5h1.8v1.8h-1.8zM87.3 342.3h1.8v1.8h-1.8zM133.0 335.0h1.8v1.8h-1.8zM127.3 356.7h1.8v1.8h-1.8zM74.9 359.9h1.8v1.8h-1.8zM110.6 326.6h1.8v1.8h-1.8zM145.5 329.6h1.8v1.8h-1.8zM139.2 314.0h1.8v1.8h-1.8zM98.2 322.0h1.8v1.8h-1.8zM62.3 369.3h1.8v1.8h-1.8zM153.9 332.8h1.8v1.8h-1.8zM181.7 264.4h1.8v1.8h-1.8zM102.9 326.2h1.8v1.8h-1.8zM128.4 355.2h1.8v1.8h-1.8zM132.7 348.5h1.8v1.8h-1.8zM160.0 303.2h1.8v1.8h-1.8zM133.2 336.3h1.8v1.8h-1.8zM127.8 322.2h1.8v1.8h-1.8zM152.8 276.0h1.8v1.8h-1.8zM125.1 301.4h1.8v1.8h-1.8zM117.5 361.7h1.8v1.8h-1.8zM171.8 338.4h1.8v1.8h-1.8zM113.3 334.9h1.8v1.8h-1.8zM113.4 324.4h1.8v1.8h-1.8zM80.9 342.8h1.8v1.8h-1.8zM130.0 347.4h1.8v1.8h-1.8zM127.3 309.0h1.8v1.8h-1.8zM123.5 309.8h1.8v1.8h-1.8zM138.9 355.2h1.8v1.8h-1.8zM106.8 369.9h1.8v1.8h-1.8zM155.1 310.4h1.8v1.8h-1.8zM113.9 335.3h1.8v1.8h-1.8zM140.8 301.2h1.8v1.8h-1.8zM169.4 290.7h1.8v1.8h-1.8zM134.8 357.5h1.8v1.8h-1.8zM152.3 274.1h1.8v1.8h-1.8zM93.6 333.1h1.8v1.8h-1.8zM139.0 301.7h1.8v1.8h-1.8zM102.9 318.7h1.8v1.8h-1.8zM141.3 302.8h1.8v1.8h-1.8zM155.3 343.2h1.8v1.8h-1.8zM60.1 361.1h1.8v1.8h-1.8zM191.3 311.4h1.8v1.8h-1.8zM164.6 305.9h1.8v1.8h-1.8zM100.9 376.0h1.8v1.8h-1.8zM157.2 320.0h1.8v1.8h-1.8zM132.6 352.4h1.8v1.8h-1.8zM117.5 314.1h1.8v1.8h-1.8zM111.7 335.6h1.8v1.8h-1.8zM153.8 306.3h1.8v1.8h-1.8zM81.6 393.1h1.8v1.8h-1.8zM142.3 329.7h1.8v1.8h-1.8zM119.5 361.2h1.8v1.8h-1.8zM137.3 333.9h1.8v1.8h-1.8zM78.5 346.1h1.8v1.8h-1.8zM62.5 370.7h1.8v1.8h-1.8zM150.9 290.7h1.8v1.8h-1.8zM92.4 307.9h1.8v1.8h-1.8zM131.4 344.8h1.8v1.8h-1.8zM128.3 348.6h1.8v1.8h-1.8zM134.0 334.9h1.8v1.8h-1.8zM134.8 319.6h1.8v1.8h-1.8zM162.6 316.3h1.8v1.8h-1.8zM122.3 297.1h1.8v1.8h-1.8zM194.1 287.1h1.8v1.8h-1.8zM145.1 321.0h1.8v1.8h-1.8zM143.4 292.0h1.8v1.8h-1.8zM178.3 282.3h1.8v1.8h-1.8zM159.2 293.6h1.8v1.8h-1.8zM163.7 349.8h1.8v1.8h-1.8zM94.3 329.5h1.8v1.8h-1.8zM145.7 306.3h1.8v1.8h-1.8zM84.4 340.4h1.8v1.8h-1.8zM156.2 303.1h1.8v1.8h-1.8zM182.5 318.3h1.8v1.8h-1.8zM111.8 367.5h1.8v1.8h-1.8zM145.4 344.5h1.8v1.8h-1.8zM139.6 313.3h1.8v1.8h-1.8zM124.7 332.7h1.8v1.8h-1.8zM123.9 350.0h1.8v1.8h-1.8zM121.4 327.6h1.8v1.8h-1.8zM70.9 356.9h1.8v1.8h-1.8zM88.2 333.4h1.8v1.8h-1.8zM158.2 294.6h1.8v1.8h-1.8zM121.9 321.7h1.8v1.8h-1.8zM180.6 316.1h1.8v1.8h-1.8zM90.3 335.7h1.8v1.8h-1.8zM90.6 327.9h1.8v1.8h-1.8zM124.1 332.3h1.8v1.8h-1.8zM132.7 347.1h1.8v1.8h-1.8zM158.0 287.4h1.8v1.8h-1.8zM124.2 358.4h1.8v1.8h-1.8zM109.5 330.6h1.8v1.8h-1.8zM162.6 305.7h1.8v1.8h-1.8zM130.0 345.6h1.8v1.8h-1.8zM106.3 335.0h1.8v1.8h-1.8zM139.0 309.7h1.8v1.8h-1.8zM90.5 339.3h1.8v1.8h-1.8zM49.9 392.0h1.8v1.8h-1.8zM131.3 307.7h1.8v1.8h-1.8zM147.2 340.9h1.8v1.8h-1.8zM146.2 310.9h1.8v1.8h-1.8zM84.1 336.5h1.8v1.8h-1.8zM116.2 364.3h1.8v1.8h-1.8zM127.0 300.7h1.8v1.8h-1.8zM102.5 321.4h1.8v1.8h-1.8zM113.3 306.5h1.8v1.8h-1.8zM154.0 345.1h1.8v1.8h-1.8zM103.4 376.2h1.8v1.8h-1.8zM53.7 405.4h1.8v1.8h-1.8zM130.9 343.8h1.8v1.8h-1.8zM136.6 347.5h1.8v1.8h-1.8zM124.1 365.4h1.8v1.8h-1.8zM148.6 298.3h1.8v1.8h-1.8zM98.5 331.6h1.8v1.8h-1.8zM64.5 365.5h1.8v1.8h-1.8zM166.2 340.2h1.8v1.8h-1.8zM149.0 337.8h1.8v1.8h-1.8zM139.9 324.3h1.8v1.8h-1.8zM75.7 352.5h1.8v1.8h-1.8zM133.0 362.4h1.8v1.8h-1.8zM115.9 319.3h1.8v1.8h-1.8zM120.5 319.4h1.8v1.8h-1.8zM130.7 315.3h1.8v1.8h-1.8zM136.6 298.2h1.8v1.8h-1.8zM127.8 324.0h1.8v1.8h-1.8zM75.6 358.6h1.8v1.8h-1.8zM60.6 373.7h1.8v1.8h-1.8zM133.9 375.4h1.8v1.8h-1.8zM85.4 385.2h1.8v1.8h-1.8zM153.5 265.7h1.8v1.8h-1.8zM112.0 324.6h1.8v1.8h-1.8zM151.6 375.1h1.8v1.8h-1.8zM143.5 323.2h1.8v1.8h-1.8zM91.4 334.6h1.8v1.8h-1.8zM49.1 386.5h1.8v1.8h-1.8zM79.3 317.7h1.8v1.8h-1.8zM139.2 300.7h1.8v1.8h-1.8zM135.1 337.0h1.8v1.8h-1.8zM97.8 379.7h1.8v1.8h-1.8zM123.9 323.0h1.8v1.8h-1.8zM120.3 357.5h1.8v1.8h-1.8zM163.7 282.5h1.8v1.8h-1.8zM167.6 323.8h1.8v1.8h-1.8zM149.0 317.5h1.8v1.8h-1.8zM123.5 311.2h1.8v1.8h-1.8zM148.3 318.2h1.8v1.8h-1.8zM147.9 318.7h1.8v1.8h-1.8zM177.8 305.5h1.8v1.8h-1.8zM150.8 320.5h1.8v1.8h-1.8zM76.3 324.1h1.8v1.8h-1.8zM92.5 390.9h1.8v1.8h-1.8zM140.6 344.6h1.8v1.8h-1.8zM148.0 334.1h1.8v1.8h-1.8zM123.2 269.5h1.8v1.8h-1.8zM94.9 335.3h1.8v1.8h-1.8zM132.1 328.2h1.8v1.8h-1.8zM157.2 341.5h1.8v1.8h-1.8zM141.8 321.7h1.8v1.8h-1.8zM116.3 366.1h1.8v1.8h-1.8zM199.1 282.8h1.8v1.8h-1.8zM113.8 364.4h1.8v1.8h-1.8zM138.6 310.2h1.8v1.8h-1.8zM99.6 383.0h1.8v1.8h-1.8zM97.4 333.2h1.8v1.8h-1.8zM124.2 332.5h1.8v1.8h-1.8zM137.4 358.1h1.8v1.8h-1.8zM132.4 342.2h1.8v1.8h-1.8zM138.5 326.0h1.8v1.8h-1.8zM131.9 334.2h1.8v1.8h-1.8zM155.9 295.9h1.8v1.8h-1.8zM177.7 309.4h1.8v1.8h-1.8zM151.6 300.3h1.8v1.8h-1.8zM57.6 381.0h1.8v1.8h-1.8zM96.9 374.6h1.8v1.8h-1.8zM166.2 244.8h1.8v1.8h-1.8zM125.9 315.6h1.8v1.8h-1.8zM138.4 289.7h1.8v1.8h-1.8zM135.6 343.1h1.8v1.8h-1.8zM168.9 311.8h1.8v1.8h-1.8zM133.5 302.3h1.8v1.8h-1.8zM55.1 380.9h1.8v1.8h-1.8zM145.4 308.4h1.8v1.8h-1.8zM124.3 309.2h1.8v1.8h-1.8zM121.3 321.7h1.8v1.8h-1.8zM124.3 324.5h1.8v1.8h-1.8zM128.8 365.2h1.8v1.8h-1.8zM116.9 292.8h1.8v1.8h-1.8zM174.4 320.5h1.8v1.8h-1.8zM159.9 316.9h1.8v1.8h-1.8zM110.8 379.1h1.8v1.8h-1.8zM157.1 335.3h1.8v1.8h-1.8zM197.2 305.3h1.8v1.8h-1.8zM163.1 321.3h1.8v1.8h-1.8zM71.9 360.5h1.8v1.8h-1.8zM137.7 324.3h1.8v1.8h-1.8zM173.3 320.0h1.8v1.8h-1.8zM99.4 377.6h1.8v1.8h-1.8zM125.2 346.0h1.8v1.8h-1.8zM117.5 292.4h1.8v1.8h-1.8zM120.7 365.4h1.8v1.8h-1.8zM123.1 306.5h1.8v1.8h-1.8zM143.5 320.4h1.8v1.8h-1.8zM112.7 369.7h1.8v1.8h-1.8zM132.0 352.7h1.8v1.8h-1.8zM112.3 336.0h1.8v1.8h-1.8zM123.3 351.9h1.8v1.8h-1.8zM158.6 302.3h1.8v1.8h-1.8zM84.1 342.8h1.8v1.8h-1.8zM118.2 328.2h1.8v1.8h-1.8zM147.8 301.0h1.8v1.8h-1.8zM73.1 347.9h1.8v1.8h-1.8zM122.8 334.6h1.8v1.8h-1.8zM94.5 338.2h1.8v1.8h-1.8zM161.0 351.0h1.8v1.8h-1.8zM120.5 300.0h1.8v1.8h-1.8zM101.2 324.6h1.8v1.8h-1.8zM175.2 259.0h1.8v1.8h-1.8zM126.0 358.9h1.8v1.8h-1.8zM134.0 348.8h1.8v1.8h-1.8zM104.8 320.5h1.8v1.8h-1.8zM124.0 323.8h1.8v1.8h-1.8zM132.9 312.0h1.8v1.8h-1.8zM137.9 355.8h1.8v1.8h-1.8zM118.7 316.5h1.8v1.8h-1.8zM120.2 291.8h1.8v1.8h-1.8zM116.6 310.1h1.8v1.8h-1.8zM125.6 321.9h1.8v1.8h-1.8zM81.6 331.3h1.8v1.8h-1.8zM90.5 338.2h1.8v1.8h-1.8zM119.5 314.3h1.8v1.8h-1.8zM63.1 371.9h1.8v1.8h-1.8zM103.9 327.6h1.8v1.8h-1.8zM94.6 335.7h1.8v1.8h-1.8zM170.5 280.4h1.8v1.8h-1.8zM118.4 363.8h1.8v1.8h-1.8zM142.7 320.7h1.8v1.8h-1.8zM158.9 327.4h1.8v1.8h-1.8zM133.6 314.4h1.8v1.8h-1.8zM150.7 319.2h1.8v1.8h-1.8zM138.8 342.8h1.8v1.8h-1.8zM168.0 282.2h1.8v1.8h-1.8zM114.3 367.9h1.8v1.8h-1.8zM115.3 322.8h1.8v1.8h-1.8zM50.7 402.3h1.8v1.8h-1.8zM124.6 298.5h1.8v1.8h-1.8zM152.1 310.7h1.8v1.8h-1.8zM144.0 340.8h1.8v1.8h-1.8zM60.6 374.7h1.8v1.8h-1.8zM105.0 333.4h1.8v1.8h-1.8zM138.3 298.4h1.8v1.8h-1.8zM132.2 340.2h1.8v1.8h-1.8zM127.7 344.7h1.8v1.8h-1.8zM136.0 320.0h1.8v1.8h-1.8zM140.5 322.4h1.8v1.8h-1.8zM178.3 312.9h1.8v1.8h-1.8zM80.8 391.8h1.8v1.8h-1.8zM87.6 325.5h1.8v1.8h-1.8zM113.8 333.5h1.8v1.8h-1.8zM92.7 331.0h1.8v1.8h-1.8zM135.7 280.9h1.8v1.8h-1.8zM103.9 375.6h1.8v1.8h-1.8zM185.2 276.7h1.8v1.8h-1.8zM112.8 315.5h1.8v1.8h-1.8zM133.5 331.1h1.8v1.8h-1.8zM105.7 327.0h1.8v1.8h-1.8zM156.9 294.2h1.8v1.8h-1.8zM85.6 342.6h1.8v1.8h-1.8zM134.5 354.6h1.8v1.8h-1.8zM93.7 323.6h1.8v1.8h-1.8zM144.9 287.3h1.8v1.8h-1.8zM129.2 303.8h1.8v1.8h-1.8zM86.7 384.7h1.8v1.8h-1.8zM67.7 353.8h1.8v1.8h-1.8zM154.7 332.8h1.8v1.8h-1.8zM135.9 339.9h1.8v1.8h-1.8zM92.4 330.2h1.8v1.8h-1.8zM117.7 370.3h1.8v1.8h-1.8zM93.6 335.7h1.8v1.8h-1.8zM148.4 324.8h1.8v1.8h-1.8zM121.6 283.4h1.8v1.8h-1.8zM152.7 333.8h1.8v1.8h-1.8zM128.8 325.0h1.8v1.8h-1.8zM145.1 275.1h1.8v1.8h-1.8zM53.1 381.0h1.8v1.8h-1.8zM131.6 352.3h1.8v1.8h-1.8zM122.8 320.2h1.8v1.8h-1.8zM121.3 303.1h1.8v1.8h-1.8zM119.8 303.2h1.8v1.8h-1.8zM155.6 263.3h1.8v1.8h-1.8zM78.7 342.7h1.8v1.8h-1.8zM140.7 340.1h1.8v1.8h-1.8zM143.7 277.7h1.8v1.8h-1.8zM67.4 358.9h1.8v1.8h-1.8zM176.8 302.4h1.8v1.8h-1.8zM86.9 384.3h1.8v1.8h-1.8zM49.9 389.8h1.8v1.8h-1.8zM141.7 317.2h1.8v1.8h-1.8zM122.0 304.5h1.8v1.8h-1.8zM110.5 369.7h1.8v1.8h-1.8zM119.9 363.7h1.8v1.8h-1.8zM141.5 331.8h1.8v1.8h-1.8zM94.6 376.5h1.8v1.8h-1.8zM142.5 335.1h1.8v1.8h-1.8zM134.7 298.0h1.8v1.8h-1.8zM150.8 335.0h1.8v1.8h-1.8zM109.5 369.1h1.8v1.8h-1.8zM135.4 295.5h1.8v1.8h-1.8zM170.7 312.1h1.8v1.8h-1.8zM166.3 274.9h1.8v1.8h-1.8zM193.7 307.5h1.8v1.8h-1.8zM140.4 331.0h1.8v1.8h-1.8zM82.2 330.8h1.8v1.8h-1.8zM204.9 284.1h1.8v1.8h-1.8zM108.0 375.3h1.8v1.8h-1.8zM113.1 333.4h1.8v1.8h-1.8zM138.5 305.5h1.8v1.8h-1.8zM154.9 336.8h1.8v1.8h-1.8zM82.4 330.7h1.8v1.8h-1.8zM145.7 320.6h1.8v1.8h-1.8zM164.9 280.2h1.8v1.8h-1.8zM156.5 335.0h1.8v1.8h-1.8zM103.4 324.9h1.8v1.8h-1.8zM138.7 328.9h1.8v1.8h-1.8zM97.7 292.4h1.8v1.8h-1.8zM75.6 349.8h1.8v1.8h-1.8zM164.4 316.3h1.8v1.8h-1.8zM138.2 292.7h1.8v1.8h-1.8zM76.4 353.4h1.8v1.8h-1.8zM122.8 323.9h1.8v1.8h-1.8zM147.0 293.4h1.8v1.8h-1.8zM64.0 372.7h1.8v1.8h-1.8zM118.0 368.9h1.8v1.8h-1.8zM125.6 313.8h1.8v1.8h-1.8zM144.0 324.0h1.8v1.8h-1.8zM105.8 382.0h1.8v1.8h-1.8zM111.9 365.2h1.8v1.8h-1.8zM165.4 324.8h1.8v1.8h-1.8zM137.1 362.3h1.8v1.8h-1.8zM121.8 310.8h1.8v1.8h-1.8zM209.9 294.8h1.8v1.8h-1.8zM153.9 278.3h1.8v1.8h-1.8zM113.8 321.8h1.8v1.8h-1.8zM127.9 315.4h1.8v1.8h-1.8zM131.7 335.1h1.8v1.8h-1.8zM89.6 332.1h1.8v1.8h-1.8zM110.2 328.8h1.8v1.8h-1.8zM155.6 308.4h1.8v1.8h-1.8zM143.1 349.2h1.8v1.8h-1.8zM172.8 297.9h1.8v1.8h-1.8zM121.3 298.0h1.8v1.8h-1.8zM145.8 286.5h1.8v1.8h-1.8zM128.2 368.8h1.8v1.8h-1.8zM142.2 283.3h1.8v1.8h-1.8zM153.6 252.3h1.8v1.8h-1.8zM153.8 337.2h1.8v1.8h-1.8zM136.8 353.4h1.8v1.8h-1.8zM142.9 335.4h1.8v1.8h-1.8zM76.0 355.2h1.8v1.8h-1.8zM143.7 324.8h1.8v1.8h-1.8zM136.6 333.8h1.8v1.8h-1.8zM169.1 295.6h1.8v1.8h-1.8zM137.3 347.6h1.8v1.8h-1.8zM57.9 382.8h1.8v1.8h-1.8zM89.1 335.7h1.8v1.8h-1.8zM201.1 307.4h1.8v1.8h-1.8zM181.6 315.9h1.8v1.8h-1.8zM144.5 294.6h1.8v1.8h-1.8zM135.9 299.5h1.8v1.8h-1.8zM125.8 359.0h1.8v1.8h-1.8zM112.2 333.3h1.8v1.8h-1.8zM74.2 350.8h1.8v1.8h-1.8zM123.1 298.2h1.8v1.8h-1.8zM138.7 346.2h1.8v1.8h-1.8zM125.3 363.8h1.8v1.8h-1.8zM66.9 368.9h1.8v1.8h-1.8zM65.7 368.6h1.8v1.8h-1.8zM128.7 317.5h1.8v1.8h-1.8zM115.8 324.5h1.8v1.8h-1.8zM109.0 330.3h1.8v1.8h-1.8zM192.3 311.0h1.8v1.8h-1.8zM101.5 323.0h1.8v1.8h-1.8zM118.3 366.0h1.8v1.8h-1.8zM151.2 288.5h1.8v1.8h-1.8zM86.4 392.2h1.8v1.8h-1.8zM142.5 311.3h1.8v1.8h-1.8zM114.8 365.6h1.8v1.8h-1.8zM95.1 324.7h1.8v1.8h-1.8zM119.7 375.0h1.8v1.8h-1.8zM95.1 376.4h1.8v1.8h-1.8zM133.3 306.9h1.8v1.8h-1.8zM148.1 352.6h1.8v1.8h-1.8zM144.1 337.0h1.8v1.8h-1.8zM140.8 308.5h1.8v1.8h-1.8zM93.8 338.3h1.8v1.8h-1.8zM51.2 377.8h1.8v1.8h-1.8zM137.7 337.5h1.8v1.8h-1.8zM109.7 321.4h1.8v1.8h-1.8zM124.8 313.8h1.8v1.8h-1.8zM79.1 350.7h1.8v1.8h-1.8zM129.4 357.0h1.8v1.8h-1.8zM122.2 364.9h1.8v1.8h-1.8zM131.5 348.6h1.8v1.8h-1.8zM190.2 322.3h1.8v1.8h-1.8zM138.3 311.3h1.8v1.8h-1.8zM136.8 319.7h1.8v1.8h-1.8zM134.3 316.3h1.8v1.8h-1.8zM111.6 316.4h1.8v1.8h-1.8zM82.0 388.3h1.8v1.8h-1.8zM143.2 300.7h1.8v1.8h-1.8zM126.1 358.6h1.8v1.8h-1.8zM142.3 320.6h1.8v1.8h-1.8zM113.7 369.5h1.8v1.8h-1.8zM85.6 387.5h1.8v1.8h-1.8zM114.7 311.1h1.8v1.8h-1.8zM50.9 388.9h1.8v1.8h-1.8zM135.2 311.2h1.8v1.8h-1.8zM124.7 334.1h1.8v1.8h-1.8zM128.6 311.4h1.8v1.8h-1.8zM117.7 309.3h1.8v1.8h-1.8zM129.6 317.5h1.8v1.8h-1.8zM106.4 376.0h1.8v1.8h-1.8zM173.9 331.2h1.8v1.8h-1.8zM123.1 369.3h1.8v1.8h-1.8zM81.8 344.4h1.8v1.8h-1.8zM60.0 375.9h1.8v1.8h-1.8zM112.5 320.1h1.8v1.8h-1.8zM151.0 336.8h1.8v1.8h-1.8zM85.4 386.5h1.8v1.8h-1.8zM120.7 321.5h1.8v1.8h-1.8zM145.2 318.9h1.8v1.8h-1.8zM141.2 314.1h1.8v1.8h-1.8zM147.8 331.9h1.8v1.8h-1.8zM92.4 327.7h1.8v1.8h-1.8zM149.4 315.9h1.8v1.8h-1.8zM193.4 283.2h1.8v1.8h-1.8zM112.5 377.3h1.8v1.8h-1.8zM127.2 303.3h1.8v1.8h-1.8zM78.6 392.6h1.8v1.8h-1.8zM84.0 334.4h1.8v1.8h-1.8zM161.5 274.6h1.8v1.8h-1.8zM51.9 380.5h1.8v1.8h-1.8zM138.4 317.2h1.8v1.8h-1.8zM154.0 334.9h1.8v1.8h-1.8zM127.0 315.3h1.8v1.8h-1.8zM137.5 324.9h1.8v1.8h-1.8zM121.5 324.8h1.8v1.8h-1.8zM142.4 320.6h1.8v1.8h-1.8zM145.1 327.3h1.8v1.8h-1.8zM111.2 381.2h1.8v1.8h-1.8zM132.4 316.6h1.8v1.8h-1.8zM97.8 336.2h1.8v1.8h-1.8zM133.7 344.4h1.8v1.8h-1.8zM137.7 341.2h1.8v1.8h-1.8zM114.2 311.1h1.8v1.8h-1.8zM167.1 284.6h1.8v1.8h-1.8zM46.5 393.1h1.8v1.8h-1.8zM94.5 333.1h1.8v1.8h-1.8zM80.0 348.3h1.8v1.8h-1.8zM187.3 263.8h1.8v1.8h-1.8zM122.5 351.6h1.8v1.8h-1.8zM150.3 276.6h1.8v1.8h-1.8zM139.5 331.1h1.8v1.8h-1.8zM108.9 314.9h1.8v1.8h-1.8zM95.0 385.6h1.8v1.8h-1.8zM156.0 328.0h1.8v1.8h-1.8zM162.5 332.4h1.8v1.8h-1.8zM132.4 328.3h1.8v1.8h-1.8zM129.7 352.5h1.8v1.8h-1.8zM119.5 328.3h1.8v1.8h-1.8zM119.0 328.8h1.8v1.8h-1.8zM116.2 307.8h1.8v1.8h-1.8zM129.8 352.0h1.8v1.8h-1.8zM169.9 301.6h1.8v1.8h-1.8zM137.8 338.9h1.8v1.8h-1.8zM98.6 328.4h1.8v1.8h-1.8zM99.0 300.2h1.8v1.8h-1.8zM124.7 317.0h1.8v1.8h-1.8zM144.5 289.6h1.8v1.8h-1.8zM144.4 331.1h1.8v1.8h-1.8zM107.1 369.4h1.8v1.8h-1.8zM96.3 382.0h1.8v1.8h-1.8zM118.5 306.0h1.8v1.8h-1.8zM111.9 304.5h1.8v1.8h-1.8zM134.2 258.9h1.8v1.8h-1.8zM138.1 317.8h1.8v1.8h-1.8zM134.6 328.7h1.8v1.8h-1.8zM93.6 386.4h1.8v1.8h-1.8zM148.3 288.2h1.8v1.8h-1.8zM112.0 322.9h1.8v1.8h-1.8zM119.0 310.4h1.8v1.8h-1.8zM97.1 381.9h1.8v1.8h-1.8zM178.3 334.1h1.8v1.8h-1.8zM106.7 370.1h1.8v1.8h-1.8zM65.7 371.7h1.8v1.8h-1.8zM107.4 311.6h1.8v1.8h-1.8zM181.1 302.3h1.8v1.8h-1.8zM174.2 306.3h1.8v1.8h-1.8zM65.3 371.1h1.8v1.8h-1.8zM125.9 347.0h1.8v1.8h-1.8zM96.9 376.8h1.8v1.8h-1.8zM169.3 298.2h1.8v1.8h-1.8zM141.9 321.3h1.8v1.8h-1.8zM177.9 357.5h1.8v1.8h-1.8zM113.3 335.1h1.8v1.8h-1.8zM139.2 337.4h1.8v1.8h-1.8zM106.7 321.0h1.8v1.8h-1.8zM57.8 381.5h1.8v1.8h-1.8zM107.4 327.8h1.8v1.8h-1.8zM128.9 303.5h1.8v1.8h-1.8zM108.3 321.6h1.8v1.8h-1.8zM191.5 288.8h1.8v1.8h-1.8zM122.3 332.9h1.8v1.8h-1.8zM135.2 325.3h1.8v1.8h-1.8zM180.9 306.1h1.8v1.8h-1.8zM107.1 325.5h1.8v1.8h-1.8zM148.3 311.4h1.8v1.8h-1.8zM136.6 347.1h1.8v1.8h-1.8zM119.5 329.0h1.8v1.8h-1.8zM141.3 340.1h1.8v1.8h-1.8zM143.6 337.0h1.8v1.8h-1.8zM134.0 310.7h1.8v1.8h-1.8zM114.9 320.1h1.8v1.8h-1.8zM120.8 360.5h1.8v1.8h-1.8zM129.7 315.8h1.8v1.8h-1.8zM158.6 281.1h1.8v1.8h-1.8zM154.6 328.2h1.8v1.8h-1.8zM173.4 300.4h1.8v1.8h-1.8zM104.4 333.3h1.8v1.8h-1.8zM154.6 304.9h1.8v1.8h-1.8zM123.8 362.6h1.8v1.8h-1.8zM103.3 320.1h1.8v1.8h-1.8zM149.4 299.3h1.8v1.8h-1.8zM58.3 377.6h1.8v1.8h-1.8zM69.1 366.4h1.8v1.8h-1.8zM144.2 329.4h1.8v1.8h-1.8zM123.7 322.9h1.8v1.8h-1.8zM118.0 305.6h1.8v1.8h-1.8zM139.3 329.6h1.8v1.8h-1.8zM139.4 281.5h1.8v1.8h-1.8zM160.7 313.4h1.8v1.8h-1.8zM113.0 322.5h1.8v1.8h-1.8zM199.6 308.6h1.8v1.8h-1.8zM90.2 327.4h1.8v1.8h-1.8zM115.6 308.2h1.8v1.8h-1.8zM142.6 326.4h1.8v1.8h-1.8zM124.6 317.8h1.8v1.8h-1.8zM153.2 337.6h1.8v1.8h-1.8zM155.2 268.6h1.8v1.8h-1.8zM134.8 324.9h1.8v1.8h-1.8zM122.1 367.7h1.8v1.8h-1.8zM134.1 346.1h1.8v1.8h-1.8zM186.1 312.6h1.8v1.8h-1.8zM130.5 348.2h1.8v1.8h-1.8zM135.5 303.5h1.8v1.8h-1.8zM144.7 310.8h1.8v1.8h-1.8zM68.3 356.6h1.8v1.8h-1.8zM137.4 329.2h1.8v1.8h-1.8zM136.8 342.9h1.8v1.8h-1.8zM133.9 305.3h1.8v1.8h-1.8zM85.7 386.2h1.8v1.8h-1.8zM131.2 343.0h1.8v1.8h-1.8zM143.0 257.9h1.8v1.8h-1.8zM133.1 318.9h1.8v1.8h-1.8zM134.3 323.0h1.8v1.8h-1.8zM102.7 381.8h1.8v1.8h-1.8zM82.3 391.1h1.8v1.8h-1.8zM125.1 358.5h1.8v1.8h-1.8zM80.9 348.2h1.8v1.8h-1.8zM170.6 323.3h1.8v1.8h-1.8zM101.9 318.3h1.8v1.8h-1.8zM140.4 279.0h1.8v1.8h-1.8zM123.9 317.7h1.8v1.8h-1.8zM77.6 350.8h1.8v1.8h-1.8zM145.3 298.3h1.8v1.8h-1.8zM166.1 285.0h1.8v1.8h-1.8zM160.5 350.6h1.8v1.8h-1.8zM142.4 314.1h1.8v1.8h-1.8zM139.3 330.8h1.8v1.8h-1.8zM160.8 288.7h1.8v1.8h-1.8zM180.6 318.9h1.8v1.8h-1.8zM167.2 306.9h1.8v1.8h-1.8zM145.4 335.0h1.8v1.8h-1.8zM156.2 320.3h1.8v1.8h-1.8zM159.3 269.8h1.8v1.8h-1.8zM91.3 387.7h1.8v1.8h-1.8zM91.6 341.5h1.8v1.8h-1.8zM74.0 404.2h1.8v1.8h-1.8zM129.4 366.1h1.8v1.8h-1.8zM142.7 337.8h1.8v1.8h-1.8zM163.0 311.9h1.8v1.8h-1.8zM133.7 356.4h1.8v1.8h-1.8zM182.0 297.3h1.8v1.8h-1.8zM69.2 348.4h1.8v1.8h-1.8zM85.0 391.4h1.8v1.8h-1.8zM120.9 325.9h1.8v1.8h-1.8zM64.1 367.9h1.8v1.8h-1.8zM113.7 366.9h1.8v1.8h-1.8zM146.6 310.9h1.8v1.8h-1.8zM191.4 278.9h1.8v1.8h-1.8zM69.9 366.6h1.8v1.8h-1.8zM151.9 316.3h1.8v1.8h-1.8zM44.0 391.0h1.8v1.8h-1.8zM60.0 376.8h1.8v1.8h-1.8zM136.6 300.5h1.8v1.8h-1.8zM175.1 340.4h1.8v1.8h-1.8zM156.1 330.6h1.8v1.8h-1.8zM149.5 300.1h1.8v1.8h-1.8zM119.3 315.7h1.8v1.8h-1.8zM155.5 331.9h1.8v1.8h-1.8zM103.6 322.2h1.8v1.8h-1.8zM69.4 355.1h1.8v1.8h-1.8zM142.9 333.4h1.8v1.8h-1.8zM142.4 337.8h1.8v1.8h-1.8zM136.3 316.9h1.8v1.8h-1.8zM119.4 321.9h1.8v1.8h-1.8zM140.3 318.6h1.8v1.8h-1.8zM128.5 275.5h1.8v1.8h-1.8zM88.2 385.3h1.8v1.8h-1.8zM143.6 351.3h1.8v1.8h-1.8zM139.2 319.3h1.8v1.8h-1.8zM171.7 306.7h1.8v1.8h-1.8zM106.0 381.6h1.8v1.8h-1.8zM145.8 341.7h1.8v1.8h-1.8zM136.1 351.5h1.8v1.8h-1.8zM134.1 330.4h1.8v1.8h-1.8zM111.7 310.3h1.8v1.8h-1.8zM64.3 372.8h1.8v1.8h-1.8zM128.0 349.8h1.8v1.8h-1.8zM80.4 390.5h1.8v1.8h-1.8zM134.4 325.2h1.8v1.8h-1.8zM125.2 362.1h1.8v1.8h-1.8zM156.6 310.8h1.8v1.8h-1.8zM153.8 292.3h1.8v1.8h-1.8zM98.9 330.4h1.8v1.8h-1.8zM130.1 357.1h1.8v1.8h-1.8zM58.0 380.7h1.8v1.8h-1.8zM123.0 281.4h1.8v1.8h-1.8zM129.6 324.1h1.8v1.8h-1.8zM163.9 294.9h1.8v1.8h-1.8zM199.6 283.5h1.8v1.8h-1.8zM126.7 361.6h1.8v1.8h-1.8zM95.4 381.6h1.8v1.8h-1.8zM145.8 295.0h1.8v1.8h-1.8zM135.2 316.5h1.8v1.8h-1.8zM168.8 264.5h1.8v1.8h-1.8zM162.0 303.5h1.8v1.8h-1.8zM88.4 386.3h1.8v1.8h-1.8zM105.5 317.3h1.8v1.8h-1.8zM66.6 368.2h1.8v1.8h-1.8zM133.6 328.0h1.8v1.8h-1.8zM129.1 360.1h1.8v1.8h-1.8zM129.8 345.9h1.8v1.8h-1.8zM143.5 346.3h1.8v1.8h-1.8zM64.6 368.5h1.8v1.8h-1.8zM160.0 267.8h1.8v1.8h-1.8zM113.5 335.7h1.8v1.8h-1.8zM113.8 375.3h1.8v1.8h-1.8zM95.3 334.9h1.8v1.8h-1.8zM197.4 292.5h1.8v1.8h-1.8zM133.2 335.5h1.8v1.8h-1.8zM114.2 315.8h1.8v1.8h-1.8zM137.4 327.2h1.8v1.8h-1.8zM143.8 316.4h1.8v1.8h-1.8zM105.5 326.6h1.8v1.8h-1.8zM102.5 375.7h1.8v1.8h-1.8zM124.7 310.4h1.8v1.8h-1.8zM118.9 367.3h1.8v1.8h-1.8zM146.8 350.6h1.8v1.8h-1.8zM105.1 323.8h1.8v1.8h-1.8zM65.8 363.1h1.8v1.8h-1.8zM128.7 298.3h1.8v1.8h-1.8zM158.5 323.7h1.8v1.8h-1.8zM109.5 326.7h1.8v1.8h-1.8zM100.4 328.5h1.8v1.8h-1.8zM170.0 295.3h1.8v1.8h-1.8zM128.0 301.3h1.8v1.8h-1.8zM136.7 348.4h1.8v1.8h-1.8zM159.9 288.0h1.8v1.8h-1.8zM119.0 367.1h1.8v1.8h-1.8zM186.6 300.3h1.8v1.8h-1.8zM124.5 316.9h1.8v1.8h-1.8zM211.5 299.2h1.8v1.8h-1.8zM170.5 307.7h1.8v1.8h-1.8zM134.4 362.6h1.8v1.8h-1.8zM73.0 354.2h1.8v1.8h-1.8zM118.9 327.3h1.8v1.8h-1.8zM131.7 316.4h1.8v1.8h-1.8zM142.6 327.5h1.8v1.8h-1.8zM89.5 390.7h1.8v1.8h-1.8zM132.0 350.3h1.8v1.8h-1.8zM121.6 366.9h1.8v1.8h-1.8zM109.2 316.5h1.8v1.8h-1.8zM138.3 326.3h1.8v1.8h-1.8zM150.1 299.5h1.8v1.8h-1.8zM190.2 274.4h1.8v1.8h-1.8zM85.7 289.2h1.8v1.8h-1.8zM75.0 355.5h1.8v1.8h-1.8zM123.4 295.6h1.8v1.8h-1.8zM171.8 333.1h1.8v1.8h-1.8zM102.6 328.0h1.8v1.8h-1.8zM74.0 350.5h1.8v1.8h-1.8zM147.7 299.0h1.8v1.8h-1.8zM147.5 311.6h1.8v1.8h-1.8zM99.6 329.3h1.8v1.8h-1.8zM121.3 304.9h1.8v1.8h-1.8zM145.6 285.9h1.8v1.8h-1.8zM137.3 340.1h1.8v1.8h-1.8zM101.7 325.3h1.8v1.8h-1.8zM133.7 328.1h1.8v1.8h-1.8zM106.4 332.3h1.8v1.8h-1.8zM157.7 326.8h1.8v1.8h-1.8zM142.8 331.7h1.8v1.8h-1.8zM121.3 317.6h1.8v1.8h-1.8zM192.8 293.6h1.8v1.8h-1.8zM79.6 353.1h1.8v1.8h-1.8zM134.5 349.8h1.8v1.8h-1.8zM138.7 314.7h1.8v1.8h-1.8zM139.3 328.0h1.8v1.8h-1.8zM130.0 355.3h1.8v1.8h-1.8zM87.0 342.9h1.8v1.8h-1.8zM130.3 375.6h1.8v1.8h-1.8zM89.2 341.6h1.8v1.8h-1.8zM87.3 329.5h1.8v1.8h-1.8zM153.8 318.1h1.8v1.8h-1.8zM136.4 332.5h1.8v1.8h-1.8zM117.3 365.2h1.8v1.8h-1.8zM117.0 365.7h1.8v1.8h-1.8zM123.7 334.1h1.8v1.8h-1.8zM146.2 314.2h1.8v1.8h-1.8zM140.8 314.0h1.8v1.8h-1.8zM99.2 324.0h1.8v1.8h-1.8zM176.0 312.0h1.8v1.8h-1.8zM127.1 290.9h1.8v1.8h-1.8zM148.8 294.5h1.8v1.8h-1.8zM112.6 299.8h1.8v1.8h-1.8zM134.8 342.5h1.8v1.8h-1.8zM150.3 332.8h1.8v1.8h-1.8zM130.4 378.1h1.8v1.8h-1.8zM85.9 335.3h1.8v1.8h-1.8zM147.3 350.9h1.8v1.8h-1.8zM123.9 311.3h1.8v1.8h-1.8zM133.7 317.2h1.8v1.8h-1.8zM134.1 290.6h1.8v1.8h-1.8zM113.2 322.9h1.8v1.8h-1.8zM101.4 391.3h1.8v1.8h-1.8zM184.5 324.1h1.8v1.8h-1.8zM128.7 291.9h1.8v1.8h-1.8zM197.7 312.2h1.8v1.8h-1.8zM84.5 341.1h1.8v1.8h-1.8zM120.1 328.8h1.8v1.8h-1.8zM96.5 327.7h1.8v1.8h-1.8zM65.4 370.9h1.8v1.8h-1.8zM157.4 328.7h1.8v1.8h-1.8zM134.6 345.5h1.8v1.8h-1.8zM123.4 293.2h1.8v1.8h-1.8zM121.0 359.3h1.8v1.8h-1.8zM128.5 315.5h1.8v1.8h-1.8zM152.1 288.7h1.8v1.8h-1.8zM151.2 279.7h1.8v1.8h-1.8zM123.3 364.8h1.8v1.8h-1.8zM116.0 319.6h1.8v1.8h-1.8zM132.4 336.9h1.8v1.8h-1.8zM144.3 327.3h1.8v1.8h-1.8zM112.9 307.3h1.8v1.8h-1.8zM81.3 347.5h1.8v1.8h-1.8zM185.9 294.9h1.8v1.8h-1.8zM162.9 306.6h1.8v1.8h-1.8zM137.9 317.5h1.8v1.8h-1.8zM113.2 322.3h1.8v1.8h-1.8zM158.4 312.9h1.8v1.8h-1.8zM127.2 323.7h1.8v1.8h-1.8zM115.7 323.2h1.8v1.8h-1.8zM180.7 314.6h1.8v1.8h-1.8zM107.8 376.4h1.8v1.8h-1.8zM157.4 290.2h1.8v1.8h-1.8zM107.6 293.3h1.8v1.8h-1.8zM128.3 363.8h1.8v1.8h-1.8zM66.9 357.3h1.8v1.8h-1.8zM155.2 268.4h1.8v1.8h-1.8zM171.7 297.1h1.8v1.8h-1.8zM136.7 300.3h1.8v1.8h-1.8zM133.6 339.6h1.8v1.8h-1.8zM105.5 373.7h1.8v1.8h-1.8zM143.1 309.5h1.8v1.8h-1.8zM103.5 375.8h1.8v1.8h-1.8zM146.6 317.7h1.8v1.8h-1.8zM165.7 318.2h1.8v1.8h-1.8zM163.0 317.1h1.8v1.8h-1.8zM187.4 286.3h1.8v1.8h-1.8zM144.8 328.8h1.8v1.8h-1.8zM127.6 360.8h1.8v1.8h-1.8zM71.5 357.2h1.8v1.8h-1.8zM143.8 309.6h1.8v1.8h-1.8zM144.9 344.9h1.8v1.8h-1.8zM198.6 302.4h1.8v1.8h-1.8zM104.0 323.6h1.8v1.8h-1.8zM117.2 364.3h1.8v1.8h-1.8zM163.6 311.4h1.8v1.8h-1.8zM101.3 322.4h1.8v1.8h-1.8zM115.8 317.4h1.8v1.8h-1.8zM184.3 276.3h1.8v1.8h-1.8zM127.6 346.6h1.8v1.8h-1.8zM140.7 348.6h1.8v1.8h-1.8zM148.2 352.4h1.8v1.8h-1.8zM98.2 324.5h1.8v1.8h-1.8zM95.1 318.5h1.8v1.8h-1.8zM150.5 336.9h1.8v1.8h-1.8zM131.9 360.9h1.8v1.8h-1.8zM139.0 342.7h1.8v1.8h-1.8zM136.9 318.2h1.8v1.8h-1.8zM147.5 346.1h1.8v1.8h-1.8zM169.0 314.0h1.8v1.8h-1.8zM89.4 338.8h1.8v1.8h-1.8zM149.6 344.5h1.8v1.8h-1.8zM75.2 354.0h1.8v1.8h-1.8zM151.2 353.4h1.8v1.8h-1.8zM140.8 302.4h1.8v1.8h-1.8zM173.0 309.7h1.8v1.8h-1.8zM142.8 345.4h1.8v1.8h-1.8zM198.8 281.4h1.8v1.8h-1.8zM122.2 369.3h1.8v1.8h-1.8zM136.7 298.9h1.8v1.8h-1.8zM131.7 329.7h1.8v1.8h-1.8zM140.4 325.3h1.8v1.8h-1.8zM56.5 376.9h1.8v1.8h-1.8zM96.2 381.9h1.8v1.8h-1.8zM172.6 344.6h1.8v1.8h-1.8zM199.9 303.5h1.8v1.8h-1.8zM150.6 311.6h1.8v1.8h-1.8zM113.3 321.9h1.8v1.8h-1.8zM118.7 319.4h1.8v1.8h-1.8zM171.0 341.7h1.8v1.8h-1.8zM115.7 376.4h1.8v1.8h-1.8zM82.2 341.8h1.8v1.8h-1.8zM139.2 354.2h1.8v1.8h-1.8zM143.9 288.0h1.8v1.8h-1.8zM179.1 305.8h1.8v1.8h-1.8zM152.0 291.2h1.8v1.8h-1.8zM94.6 327.9h1.8v1.8h-1.8zM156.0 295.2h1.8v1.8h-1.8zM82.1 390.2h1.8v1.8h-1.8zM132.1 353.5h1.8v1.8h-1.8zM130.1 357.4h1.8v1.8h-1.8zM65.9 372.8h1.8v1.8h-1.8zM107.4 327.5h1.8v1.8h-1.8zM136.5 342.7h1.8v1.8h-1.8zM113.6 322.2h1.8v1.8h-1.8zM82.4 338.8h1.8v1.8h-1.8zM78.8 390.3h1.8v1.8h-1.8zM57.2 404.3h1.8v1.8h-1.8zM81.9 346.3h1.8v1.8h-1.8zM131.0 334.5h1.8v1.8h-1.8zM149.6 318.8h1.8v1.8h-1.8zM150.0 356.7h1.8v1.8h-1.8zM132.5 342.3h1.8v1.8h-1.8zM163.5 344.0h1.8v1.8h-1.8zM72.1 357.3h1.8v1.8h-1.8zM138.8 341.4h1.8v1.8h-1.8zM135.7 333.1h1.8v1.8h-1.8zM74.8 359.5h1.8v1.8h-1.8zM130.9 310.2h1.8v1.8h-1.8zM114.6 377.2h1.8v1.8h-1.8zM90.2 388.0h1.8v1.8h-1.8zM139.5 340.5h1.8v1.8h-1.8zM71.2 358.3h1.8v1.8h-1.8zM165.3 261.2h1.8v1.8h-1.8zM138.3 289.7h1.8v1.8h-1.8zM150.5 320.2h1.8v1.8h-1.8zM126.0 300.4h1.8v1.8h-1.8zM170.9 296.8h1.8v1.8h-1.8zM119.4 323.3h1.8v1.8h-1.8zM174.3 306.9h1.8v1.8h-1.8zM149.3 266.0h1.8v1.8h-1.8zM124.3 324.0h1.8v1.8h-1.8zM119.9 321.9h1.8v1.8h-1.8zM126.5 301.4h1.8v1.8h-1.8zM126.1 343.9h1.8v1.8h-1.8zM122.7 334.3h1.8v1.8h-1.8zM167.6 327.8h1.8v1.8h-1.8zM132.5 346.5h1.8v1.8h-1.8zM147.1 315.3h1.8v1.8h-1.8zM138.6 360.5h1.8v1.8h-1.8zM160.5 306.3h1.8v1.8h-1.8zM117.7 361.8h1.8v1.8h-1.8zM125.1 318.0h1.8v1.8h-1.8zM132.1 311.5h1.8v1.8h-1.8zM71.8 360.9h1.8v1.8h-1.8zM153.9 334.0h1.8v1.8h-1.8zM71.5 347.0h1.8v1.8h-1.8zM140.3 324.8h1.8v1.8h-1.8zM79.3 352.5h1.8v1.8h-1.8zM128.4 322.3h1.8v1.8h-1.8zM151.2 330.4h1.8v1.8h-1.8zM134.9 343.8h1.8v1.8h-1.8zM68.6 368.4h1.8v1.8h-1.8zM139.8 307.0h1.8v1.8h-1.8zM163.9 327.0h1.8v1.8h-1.8zM88.4 384.8h1.8v1.8h-1.8zM146.4 324.0h1.8v1.8h-1.8zM90.5 335.4h1.8v1.8h-1.8zM123.7 313.4h1.8v1.8h-1.8zM155.1 335.9h1.8v1.8h-1.8zM144.8 346.4h1.8v1.8h-1.8zM91.5 383.7h1.8v1.8h-1.8zM105.9 376.7h1.8v1.8h-1.8zM106.9 333.8h1.8v1.8h-1.8zM69.0 347.5h1.8v1.8h-1.8zM136.6 347.8h1.8v1.8h-1.8zM131.1 354.5h1.8v1.8h-1.8zM71.4 360.4h1.8v1.8h-1.8zM103.7 320.7h1.8v1.8h-1.8zM113.8 368.0h1.8v1.8h-1.8zM64.1 367.0h1.8v1.8h-1.8zM132.5 300.5h1.8v1.8h-1.8zM153.5 359.7h1.8v1.8h-1.8zM92.7 332.7h1.8v1.8h-1.8zM127.7 359.6h1.8v1.8h-1.8zM106.2 304.8h1.8v1.8h-1.8zM95.6 328.9h1.8v1.8h-1.8zM117.3 366.1h1.8v1.8h-1.8zM141.8 311.1h1.8v1.8h-1.8zM116.3 366.9h1.8v1.8h-1.8zM130.9 348.3h1.8v1.8h-1.8zM121.5 328.2h1.8v1.8h-1.8zM114.3 324.4h1.8v1.8h-1.8zM59.3 376.7h1.8v1.8h-1.8zM165.2 288.5h1.8v1.8h-1.8zM146.7 331.7h1.8v1.8h-1.8zM153.2 327.2h1.8v1.8h-1.8zM118.2 328.0h1.8v1.8h-1.8zM99.7 318.9h1.8v1.8h-1.8zM142.1 303.1h1.8v1.8h-1.8zM132.6 358.4h1.8v1.8h-1.8zM149.3 334.2h1.8v1.8h-1.8zM113.2 369.5h1.8v1.8h-1.8zM209.3 282.4h1.8v1.8h-1.8zM91.9 338.3h1.8v1.8h-1.8zM57.1 372.8h1.8v1.8h-1.8zM142.2 305.1h1.8v1.8h-1.8zM129.7 321.5h1.8v1.8h-1.8zM84.5 337.6h1.8v1.8h-1.8zM167.2 247.8h1.8v1.8h-1.8zM158.3 302.4h1.8v1.8h-1.8zM106.7 321.1h1.8v1.8h-1.8zM142.3 343.7h1.8v1.8h-1.8zM121.7 325.4h1.8v1.8h-1.8zM143.8 286.1h1.8v1.8h-1.8zM115.5 363.1h1.8v1.8h-1.8zM109.7 368.5h1.8v1.8h-1.8zM119.5 324.3h1.8v1.8h-1.8zM146.1 358.3h1.8v1.8h-1.8zM85.1 344.9h1.8v1.8h-1.8zM126.0 324.3h1.8v1.8h-1.8zM168.9 345.0h1.8v1.8h-1.8zM85.3 390.6h1.8v1.8h-1.8zM91.0 321.7h1.8v1.8h-1.8zM188.9 322.3h1.8v1.8h-1.8zM142.5 333.0h1.8v1.8h-1.8zM92.3 385.9h1.8v1.8h-1.8zM182.6 295.9h1.8v1.8h-1.8zM94.4 376.2h1.8v1.8h-1.8zM101.3 325.9h1.8v1.8h-1.8zM99.0 335.9h1.8v1.8h-1.8zM133.9 336.1h1.8v1.8h-1.8zM65.5 372.4h1.8v1.8h-1.8zM74.5 355.9h1.8v1.8h-1.8zM78.3 390.8h1.8v1.8h-1.8zM159.6 286.0h1.8v1.8h-1.8zM137.7 311.5h1.8v1.8h-1.8zM94.3 322.6h1.8v1.8h-1.8zM120.6 380.0h1.8v1.8h-1.8zM210.6 296.6h1.8v1.8h-1.8zM125.8 344.8h1.8v1.8h-1.8zM69.0 367.3h1.8v1.8h-1.8zM119.6 325.0h1.8v1.8h-1.8zM109.5 371.3h1.8v1.8h-1.8zM147.6 328.3h1.8v1.8h-1.8zM155.1 319.8h1.8v1.8h-1.8zM120.0 303.3h1.8v1.8h-1.8zM128.1 309.9h1.8v1.8h-1.8zM110.7 373.4h1.8v1.8h-1.8zM121.3 357.8h1.8v1.8h-1.8zM112.1 307.1h1.8v1.8h-1.8zM141.0 326.3h1.8v1.8h-1.8zM159.4 355.5h1.8v1.8h-1.8zM173.1 269.6h1.8v1.8h-1.8zM132.6 371.3h1.8v1.8h-1.8zM82.4 344.1h1.8v1.8h-1.8zM127.5 323.3h1.8v1.8h-1.8zM142.1 319.8h1.8v1.8h-1.8zM119.6 328.4h1.8v1.8h-1.8zM119.8 322.9h1.8v1.8h-1.8zM134.7 336.2h1.8v1.8h-1.8zM154.2 314.8h1.8v1.8h-1.8zM150.6 267.0h1.8v1.8h-1.8zM75.7 359.7h1.8v1.8h-1.8zM139.5 321.5h1.8v1.8h-1.8zM153.5 309.3h1.8v1.8h-1.8zM91.5 341.6h1.8v1.8h-1.8zM123.1 349.6h1.8v1.8h-1.8zM64.9 356.1h1.8v1.8h-1.8zM105.8 325.2h1.8v1.8h-1.8zM187.9 315.3h1.8v1.8h-1.8zM124.1 368.6h1.8v1.8h-1.8zM128.6 351.2h1.8v1.8h-1.8zM136.2 300.7h1.8v1.8h-1.8zM152.1 292.9h1.8v1.8h-1.8zM60.4 372.8h1.8v1.8h-1.8zM212.6 310.1h1.8v1.8h-1.8zM132.2 328.5h1.8v1.8h-1.8zM137.7 350.7h1.8v1.8h-1.8zM94.7 323.1h1.8v1.8h-1.8zM153.9 326.7h1.8v1.8h-1.8zM197.6 279.5h1.8v1.8h-1.8zM151.7 323.9h1.8v1.8h-1.8zM101.5 322.9h1.8v1.8h-1.8zM128.8 359.6h1.8v1.8h-1.8zM69.9 367.7h1.8v1.8h-1.8zM85.2 390.1h1.8v1.8h-1.8zM96.8 339.5h1.8v1.8h-1.8zM111.3 366.1h1.8v1.8h-1.8zM132.4 339.4h1.8v1.8h-1.8zM127.2 351.5h1.8v1.8h-1.8zM107.1 318.6h1.8v1.8h-1.8zM147.5 361.1h1.8v1.8h-1.8zM96.6 324.7h1.8v1.8h-1.8zM151.1 278.8h1.8v1.8h-1.8zM160.0 334.4h1.8v1.8h-1.8zM119.6 318.4h1.8v1.8h-1.8zM109.8 303.5h1.8v1.8h-1.8zM108.8 311.8h1.8v1.8h-1.8zM147.5 307.7h1.8v1.8h-1.8zM103.9 305.9h1.8v1.8h-1.8zM98.6 330.6h1.8v1.8h-1.8zM106.7 334.8h1.8v1.8h-1.8zM156.2 324.5h1.8v1.8h-1.8zM158.0 298.2h1.8v1.8h-1.8zM108.4 315.1h1.8v1.8h-1.8zM72.3 351.6h1.8v1.8h-1.8zM77.1 348.8h1.8v1.8h-1.8zM172.8 311.7h1.8v1.8h-1.8zM151.8 308.5h1.8v1.8h-1.8zM176.6 291.6h1.8v1.8h-1.8zM115.5 322.3h1.8v1.8h-1.8zM55.3 404.5h1.8v1.8h-1.8zM134.2 293.3h1.8v1.8h-1.8zM148.6 281.5h1.8v1.8h-1.8zM111.8 335.8h1.8v1.8h-1.8zM146.2 288.7h1.8v1.8h-1.8zM122.6 370.9h1.8v1.8h-1.8zM169.0 288.5h1.8v1.8h-1.8zM161.9 291.3h1.8v1.8h-1.8zM46.7 392.1h1.8v1.8h-1.8zM105.8 313.7h1.8v1.8h-1.8zM79.6 390.6h1.8v1.8h-1.8zM132.7 364.6h1.8v1.8h-1.8zM122.1 285.8h1.8v1.8h-1.8zM127.8 352.9h1.8v1.8h-1.8zM146.6 343.0h1.8v1.8h-1.8zM121.4 350.3h1.8v1.8h-1.8zM144.8 355.1h1.8v1.8h-1.8zM166.4 332.4h1.8v1.8h-1.8zM161.3 340.6h1.8v1.8h-1.8zM104.1 318.5h1.8v1.8h-1.8zM162.4 288.1h1.8v1.8h-1.8zM97.2 328.7h1.8v1.8h-1.8zM93.2 381.5h1.8v1.8h-1.8zM111.8 367.2h1.8v1.8h-1.8zM135.4 324.1h1.8v1.8h-1.8zM139.5 318.8h1.8v1.8h-1.8zM53.3 384.1h1.8v1.8h-1.8zM154.3 277.1h1.8v1.8h-1.8zM118.5 326.2h1.8v1.8h-1.8zM168.4 337.9h1.8v1.8h-1.8zM141.1 279.4h1.8v1.8h-1.8zM138.3 349.4h1.8v1.8h-1.8zM154.6 338.9h1.8v1.8h-1.8zM164.6 289.4h1.8v1.8h-1.8zM205.0 281.0h1.8v1.8h-1.8zM96.3 326.1h1.8v1.8h-1.8zM157.4 280.1h1.8v1.8h-1.8zM110.0 376.7h1.8v1.8h-1.8zM138.9 305.8h1.8v1.8h-1.8zM99.8 329.6h1.8v1.8h-1.8zM96.6 339.8h1.8v1.8h-1.8zM66.6 362.8h1.8v1.8h-1.8zM179.4 343.8h1.8v1.8h-1.8zM155.8 332.5h1.8v1.8h-1.8zM183.0 311.1h1.8v1.8h-1.8zM142.3 346.2h1.8v1.8h-1.8zM129.8 321.7h1.8v1.8h-1.8zM116.3 314.7h1.8v1.8h-1.8zM107.4 319.5h1.8v1.8h-1.8zM64.9 368.8h1.8v1.8h-1.8zM89.0 338.9h1.8v1.8h-1.8zM119.9 369.2h1.8v1.8h-1.8zM120.4 357.9h1.8v1.8h-1.8zM98.3 331.6h1.8v1.8h-1.8zM106.8 334.7h1.8v1.8h-1.8zM141.5 346.5h1.8v1.8h-1.8zM75.7 333.1h1.8v1.8h-1.8zM145.5 350.7h1.8v1.8h-1.8zM120.5 358.6h1.8v1.8h-1.8zM127.6 358.2h1.8v1.8h-1.8zM71.0 354.2h1.8v1.8h-1.8zM88.7 302.9h1.8v1.8h-1.8zM95.9 331.7h1.8v1.8h-1.8zM107.1 312.7h1.8v1.8h-1.8zM143.6 335.6h1.8v1.8h-1.8zM109.5 374.6h1.8v1.8h-1.8zM85.2 387.6h1.8v1.8h-1.8zM123.6 306.6h1.8v1.8h-1.8zM79.8 399.9h1.8v1.8h-1.8zM93.3 388.9h1.8v1.8h-1.8zM144.9 279.0h1.8v1.8h-1.8zM163.9 268.9h1.8v1.8h-1.8zM162.2 324.2h1.8v1.8h-1.8zM144.4 309.8h1.8v1.8h-1.8zM90.2 341.6h1.8v1.8h-1.8zM147.9 349.0h1.8v1.8h-1.8zM149.8 323.1h1.8v1.8h-1.8zM79.4 390.7h1.8v1.8h-1.8zM173.4 306.5h1.8v1.8h-1.8zM145.7 316.0h1.8v1.8h-1.8zM65.8 368.5h1.8v1.8h-1.8zM150.0 305.9h1.8v1.8h-1.8zM145.0 298.1h1.8v1.8h-1.8zM132.5 294.5h1.8v1.8h-1.8zM169.7 298.6h1.8v1.8h-1.8zM120.2 324.4h1.8v1.8h-1.8zM150.0 280.4h1.8v1.8h-1.8zM212.7 301.7h1.8v1.8h-1.8zM73.5 359.8h1.8v1.8h-1.8zM130.2 316.2h1.8v1.8h-1.8zM143.0 328.4h1.8v1.8h-1.8zM92.1 338.6h1.8v1.8h-1.8zM130.6 336.0h1.8v1.8h-1.8zM63.8 404.6h1.8v1.8h-1.8zM192.1 317.9h1.8v1.8h-1.8zM123.8 349.7h1.8v1.8h-1.8zM116.7 318.2h1.8v1.8h-1.8zM135.2 339.3h1.8v1.8h-1.8zM141.4 324.2h1.8v1.8h-1.8zM146.6 311.4h1.8v1.8h-1.8zM58.6 376.9h1.8v1.8h-1.8zM127.6 357.2h1.8v1.8h-1.8zM158.5 333.0h1.8v1.8h-1.8zM69.8 366.3h1.8v1.8h-1.8zM134.4 340.6h1.8v1.8h-1.8zM132.6 303.6h1.8v1.8h-1.8zM136.4 305.7h1.8v1.8h-1.8zM85.0 323.4h1.8v1.8h-1.8zM181.5 327.7h1.8v1.8h-1.8zM95.9 335.6h1.8v1.8h-1.8zM76.4 350.1h1.8v1.8h-1.8zM97.0 340.3h1.8v1.8h-1.8zM113.9 368.2h1.8v1.8h-1.8zM152.5 330.5h1.8v1.8h-1.8zM128.0 240.4h1.8v1.8h-1.8zM138.1 349.4h1.8v1.8h-1.8zM123.6 319.2h1.8v1.8h-1.8zM131.6 348.8h1.8v1.8h-1.8zM96.3 376.3h1.8v1.8h-1.8zM94.7 376.5h1.8v1.8h-1.8zM143.6 312.2h1.8v1.8h-1.8zM130.0 315.2h1.8v1.8h-1.8zM176.4 282.4h1.8v1.8h-1.8zM139.4 292.2h1.8v1.8h-1.8zM156.7 315.7h1.8v1.8h-1.8zM178.1 254.7h1.8v1.8h-1.8zM96.8 333.5h1.8v1.8h-1.8zM111.1 369.3h1.8v1.8h-1.8zM97.0 321.1h1.8v1.8h-1.8zM95.8 330.5h1.8v1.8h-1.8zM109.0 320.7h1.8v1.8h-1.8zM159.9 322.2h1.8v1.8h-1.8zM52.7 384.9h1.8v1.8h-1.8zM105.5 307.9h1.8v1.8h-1.8zM148.5 347.1h1.8v1.8h-1.8zM122.0 313.5h1.8v1.8h-1.8zM154.0 315.3h1.8v1.8h-1.8zM91.1 385.3h1.8v1.8h-1.8zM149.7 342.5h1.8v1.8h-1.8zM139.3 311.5h1.8v1.8h-1.8zM156.8 296.1h1.8v1.8h-1.8zM51.0 385.0h1.8v1.8h-1.8zM120.2 313.2h1.8v1.8h-1.8zM136.4 312.3h1.8v1.8h-1.8zM152.4 293.4h1.8v1.8h-1.8zM93.7 332.6h1.8v1.8h-1.8zM205.6 289.1h1.8v1.8h-1.8zM167.8 329.3h1.8v1.8h-1.8zM160.0 316.1h1.8v1.8h-1.8zM143.6 312.0h1.8v1.8h-1.8zM86.5 344.7h1.8v1.8h-1.8zM115.9 363.9h1.8v1.8h-1.8zM190.8 299.5h1.8v1.8h-1.8zM192.4 277.4h1.8v1.8h-1.8zM106.0 325.0h1.8v1.8h-1.8zM120.5 321.2h1.8v1.8h-1.8zM146.4 334.8h1.8v1.8h-1.8zM123.0 365.4h1.8v1.8h-1.8zM79.7 352.2h1.8v1.8h-1.8zM150.1 315.0h1.8v1.8h-1.8zM50.6 388.5h1.8v1.8h-1.8zM103.8 374.2h1.8v1.8h-1.8zM90.8 337.7h1.8v1.8h-1.8zM138.2 305.0h1.8v1.8h-1.8zM73.8 355.7h1.8v1.8h-1.8zM148.0 298.7h1.8v1.8h-1.8zM151.0 259.3h1.8v1.8h-1.8zM146.1 299.4h1.8v1.8h-1.8zM113.0 375.7h1.8v1.8h-1.8zM139.1 314.8h1.8v1.8h-1.8zM132.9 300.4h1.8v1.8h-1.8zM143.9 334.7h1.8v1.8h-1.8zM148.4 323.9h1.8v1.8h-1.8zM200.2 307.6h1.8v1.8h-1.8zM126.8 343.5h1.8v1.8h-1.8zM99.4 377.1h1.8v1.8h-1.8zM148.6 309.2h1.8v1.8h-1.8zM149.3 328.3h1.8v1.8h-1.8zM78.9 353.6h1.8v1.8h-1.8zM137.3 326.4h1.8v1.8h-1.8zM141.9 322.5h1.8v1.8h-1.8zM122.4 312.5h1.8v1.8h-1.8zM106.3 321.5h1.8v1.8h-1.8zM159.4 257.4h1.8v1.8h-1.8zM97.4 335.9h1.8v1.8h-1.8zM189.4 296.4h1.8v1.8h-1.8zM162.4 331.0h1.8v1.8h-1.8zM55.8 381.8h1.8v1.8h-1.8zM106.6 309.9h1.8v1.8h-1.8zM135.4 307.3h1.8v1.8h-1.8zM126.8 313.9h1.8v1.8h-1.8zM122.0 325.0h1.8v1.8h-1.8zM71.7 359.6h1.8v1.8h-1.8zM159.6 341.3h1.8v1.8h-1.8zM148.5 279.5h1.8v1.8h-1.8zM96.8 374.3h1.8v1.8h-1.8zM119.0 326.4h1.8v1.8h-1.8zM131.8 318.6h1.8v1.8h-1.8zM109.5 322.0h1.8v1.8h-1.8zM101.8 323.4h1.8v1.8h-1.8zM110.6 317.9h1.8v1.8h-1.8zM88.6 341.8h1.8v1.8h-1.8zM137.4 328.4h1.8v1.8h-1.8zM125.9 318.1h1.8v1.8h-1.8zM55.6 382.5h1.8v1.8h-1.8zM160.6 295.9h1.8v1.8h-1.8zM61.2 407.5h1.8v1.8h-1.8zM189.6 265.6h1.8v1.8h-1.8zM165.6 318.1h1.8v1.8h-1.8zM147.9 310.5h1.8v1.8h-1.8zM146.4 337.0h1.8v1.8h-1.8zM164.3 276.6h1.8v1.8h-1.8zM125.9 317.8h1.8v1.8h-1.8zM157.8 307.1h1.8v1.8h-1.8zM166.1 310.2h1.8v1.8h-1.8zM56.4 404.2h1.8v1.8h-1.8zM139.4 348.9h1.8v1.8h-1.8zM121.9 309.9h1.8v1.8h-1.8zM180.6 315.7h1.8v1.8h-1.8zM141.7 331.9h1.8v1.8h-1.8zM141.2 343.6h1.8v1.8h-1.8zM136.6 322.5h1.8v1.8h-1.8zM151.0 314.3h1.8v1.8h-1.8zM138.3 339.0h1.8v1.8h-1.8zM156.3 303.5h1.8v1.8h-1.8zM132.7 327.1h1.8v1.8h-1.8zM100.9 335.3h1.8v1.8h-1.8zM153.7 303.8h1.8v1.8h-1.8zM134.7 338.1h1.8v1.8h-1.8zM105.0 311.2h1.8v1.8h-1.8zM137.9 323.4h1.8v1.8h-1.8zM100.7 376.7h1.8v1.8h-1.8zM107.3 368.4h1.8v1.8h-1.8zM86.1 322.5h1.8v1.8h-1.8zM101.0 321.1h1.8v1.8h-1.8zM123.5 291.2h1.8v1.8h-1.8zM148.9 287.1h1.8v1.8h-1.8zM99.8 378.2h1.8v1.8h-1.8zM146.3 308.8h1.8v1.8h-1.8zM98.2 325.6h1.8v1.8h-1.8zM146.3 351.0h1.8v1.8h-1.8zM85.3 384.5h1.8v1.8h-1.8zM136.0 342.5h1.8v1.8h-1.8zM94.4 333.5h1.8v1.8h-1.8zM131.7 302.0h1.8v1.8h-1.8zM57.4 377.5h1.8v1.8h-1.8zM167.0 297.7h1.8v1.8h-1.8zM169.7 304.4h1.8v1.8h-1.8zM126.9 321.3h1.8v1.8h-1.8zM136.8 348.1h1.8v1.8h-1.8zM148.8 304.6h1.8v1.8h-1.8zM88.5 311.7h1.8v1.8h-1.8zM110.4 324.4h1.8v1.8h-1.8zM130.2 348.2h1.8v1.8h-1.8zM50.7 405.1h1.8v1.8h-1.8zM142.7 321.3h1.8v1.8h-1.8zM137.2 338.7h1.8v1.8h-1.8zM96.5 332.1h1.8v1.8h-1.8zM67.9 357.9h1.8v1.8h-1.8zM100.2 380.0h1.8v1.8h-1.8zM84.3 336.3h1.8v1.8h-1.8zM98.9 324.8h1.8v1.8h-1.8zM130.5 336.3h1.8v1.8h-1.8zM138.3 319.4h1.8v1.8h-1.8zM99.2 334.5h1.8v1.8h-1.8zM128.4 311.9h1.8v1.8h-1.8zM140.5 316.3h1.8v1.8h-1.8zM170.5 298.8h1.8v1.8h-1.8zM110.1 369.2h1.8v1.8h-1.8zM108.9 311.9h1.8v1.8h-1.8zM140.1 327.6h1.8v1.8h-1.8zM157.5 292.6h1.8v1.8h-1.8zM130.8 322.2h1.8v1.8h-1.8zM154.2 310.8h1.8v1.8h-1.8zM131.9 343.7h1.8v1.8h-1.8zM119.3 306.2h1.8v1.8h-1.8zM120.0 370.9h1.8v1.8h-1.8zM166.6 288.8h1.8v1.8h-1.8zM106.9 327.4h1.8v1.8h-1.8zM145.9 328.2h1.8v1.8h-1.8zM133.1 316.2h1.8v1.8h-1.8zM147.0 332.1h1.8v1.8h-1.8zM93.1 315.9h1.8v1.8h-1.8zM145.5 317.6h1.8v1.8h-1.8zM80.5 391.7h1.8v1.8h-1.8zM162.8 281.9h1.8v1.8h-1.8zM88.5 325.0h1.8v1.8h-1.8zM146.2 322.8h1.8v1.8h-1.8zM140.2 277.7h1.8v1.8h-1.8zM179.1 303.2h1.8v1.8h-1.8zM132.1 344.4h1.8v1.8h-1.8zM79.4 341.4h1.8v1.8h-1.8zM154.1 304.2h1.8v1.8h-1.8zM180.6 291.8h1.8v1.8h-1.8zM68.9 361.4h1.8v1.8h-1.8zM132.3 297.2h1.8v1.8h-1.8zM133.8 334.1h1.8v1.8h-1.8zM184.6 286.1h1.8v1.8h-1.8zM120.8 321.7h1.8v1.8h-1.8zM162.0 295.4h1.8v1.8h-1.8zM109.6 326.0h1.8v1.8h-1.8zM160.0 290.8h1.8v1.8h-1.8zM78.3 393.4h1.8v1.8h-1.8zM105.6 317.7h1.8v1.8h-1.8zM53.0 378.2h1.8v1.8h-1.8zM139.7 347.5h1.8v1.8h-1.8zM179.8 324.0h1.8v1.8h-1.8zM151.3 289.5h1.8v1.8h-1.8zM136.3 346.0h1.8v1.8h-1.8zM143.2 319.4h1.8v1.8h-1.8zM153.4 321.9h1.8v1.8h-1.8zM124.6 303.2h1.8v1.8h-1.8zM111.1 296.7h1.8v1.8h-1.8zM171.4 306.1h1.8v1.8h-1.8zM146.6 339.3h1.8v1.8h-1.8zM145.7 327.8h1.8v1.8h-1.8zM122.0 315.1h1.8v1.8h-1.8zM76.3 356.4h1.8v1.8h-1.8zM110.3 312.8h1.8v1.8h-1.8zM98.9 335.9h1.8v1.8h-1.8zM168.5 330.8h1.8v1.8h-1.8zM190.9 340.9h1.8v1.8h-1.8zM132.1 348.0h1.8v1.8h-1.8zM106.9 313.6h1.8v1.8h-1.8zM95.1 376.6h1.8v1.8h-1.8zM128.8 314.3h1.8v1.8h-1.8zM111.0 305.9h1.8v1.8h-1.8zM158.4 295.5h1.8v1.8h-1.8zM188.2 296.8h1.8v1.8h-1.8zM146.5 365.7h1.8v1.8h-1.8zM148.3 329.4h1.8v1.8h-1.8zM170.9 326.3h1.8v1.8h-1.8zM141.8 334.4h1.8v1.8h-1.8zM116.7 361.8h1.8v1.8h-1.8zM135.4 351.1h1.8v1.8h-1.8zM99.8 377.4h1.8v1.8h-1.8zM84.1 391.8h1.8v1.8h-1.8zM131.0 336.6h1.8v1.8h-1.8zM177.7 336.4h1.8v1.8h-1.8zM108.3 328.2h1.8v1.8h-1.8zM196.3 307.3h1.8v1.8h-1.8zM173.0 313.0h1.8v1.8h-1.8zM165.9 254.8h1.8v1.8h-1.8zM79.2 390.7h1.8v1.8h-1.8zM136.5 287.3h1.8v1.8h-1.8zM151.9 306.0h1.8v1.8h-1.8zM168.9 302.0h1.8v1.8h-1.8zM136.7 336.4h1.8v1.8h-1.8zM147.7 313.1h1.8v1.8h-1.8zM144.5 310.8h1.8v1.8h-1.8zM164.6 297.7h1.8v1.8h-1.8zM101.0 377.8h1.8v1.8h-1.8zM131.1 334.9h1.8v1.8h-1.8zM63.3 372.0h1.8v1.8h-1.8zM161.7 320.4h1.8v1.8h-1.8zM166.3 302.6h1.8v1.8h-1.8zM147.8 345.1h1.8v1.8h-1.8zM143.9 348.7h1.8v1.8h-1.8zM134.8 304.3h1.8v1.8h-1.8zM144.8 318.7h1.8v1.8h-1.8zM202.1 283.8h1.8v1.8h-1.8zM141.2 286.1h1.8v1.8h-1.8zM156.5 306.4h1.8v1.8h-1.8zM93.7 339.0h1.8v1.8h-1.8zM148.6 316.2h1.8v1.8h-1.8zM133.5 311.1h1.8v1.8h-1.8zM135.6 343.3h1.8v1.8h-1.8zM63.5 372.9h1.8v1.8h-1.8zM162.7 245.0h1.8v1.8h-1.8zM52.2 375.6h1.8v1.8h-1.8zM143.8 341.0h1.8v1.8h-1.8zM178.0 304.6h1.8v1.8h-1.8zM111.3 320.5h1.8v1.8h-1.8zM130.6 321.9h1.8v1.8h-1.8zM149.4 253.3h1.8v1.8h-1.8zM146.7 334.9h1.8v1.8h-1.8zM68.4 368.9h1.8v1.8h-1.8zM101.9 310.8h1.8v1.8h-1.8zM146.2 328.8h1.8v1.8h-1.8zM133.3 332.2h1.8v1.8h-1.8zM59.2 375.6h1.8v1.8h-1.8zM149.9 336.5h1.8v1.8h-1.8zM163.5 329.5h1.8v1.8h-1.8zM88.0 340.3h1.8v1.8h-1.8zM164.5 321.1h1.8v1.8h-1.8zM93.8 384.2h1.8v1.8h-1.8zM111.2 321.4h1.8v1.8h-1.8zM143.0 303.0h1.8v1.8h-1.8zM127.6 373.2h1.8v1.8h-1.8zM125.9 317.7h1.8v1.8h-1.8zM163.1 327.9h1.8v1.8h-1.8zM44.5 395.7h1.8v1.8h-1.8zM128.9 304.0h1.8v1.8h-1.8zM142.4 339.3h1.8v1.8h-1.8zM106.2 373.3h1.8v1.8h-1.8zM113.3 365.7h1.8v1.8h-1.8zM76.5 357.8h1.8v1.8h-1.8zM141.1 307.7h1.8v1.8h-1.8zM134.2 299.8h1.8v1.8h-1.8zM110.8 321.5h1.8v1.8h-1.8zM134.9 341.5h1.8v1.8h-1.8zM140.7 349.4h1.8v1.8h-1.8zM97.2 377.7h1.8v1.8h-1.8zM76.8 355.3h1.8v1.8h-1.8zM126.0 358.4h1.8v1.8h-1.8zM123.3 360.8h1.8v1.8h-1.8zM118.1 361.3h1.8v1.8h-1.8zM149.5 355.9h1.8v1.8h-1.8zM148.5 293.6h1.8v1.8h-1.8zM127.6 293.6h1.8v1.8h-1.8zM122.9 312.1h1.8v1.8h-1.8zM147.7 331.3h1.8v1.8h-1.8zM89.2 326.3h1.8v1.8h-1.8zM103.8 294.1h1.8v1.8h-1.8zM153.4 306.4h1.8v1.8h-1.8zM107.2 291.2h1.8v1.8h-1.8zM176.9 289.3h1.8v1.8h-1.8zM134.2 271.6h1.8v1.8h-1.8zM152.9 308.1h1.8v1.8h-1.8zM116.0 368.7h1.8v1.8h-1.8zM84.2 334.9h1.8v1.8h-1.8zM141.4 317.3h1.8v1.8h-1.8zM96.1 383.7h1.8v1.8h-1.8zM121.8 322.7h1.8v1.8h-1.8zM124.9 292.3h1.8v1.8h-1.8zM151.3 344.8h1.8v1.8h-1.8zM96.0 300.5h1.8v1.8h-1.8zM133.3 305.0h1.8v1.8h-1.8zM153.1 320.3h1.8v1.8h-1.8zM134.0 332.3h1.8v1.8h-1.8zM131.7 344.5h1.8v1.8h-1.8zM89.3 336.8h1.8v1.8h-1.8zM133.0 345.9h1.8v1.8h-1.8zM73.6 358.2h1.8v1.8h-1.8zM128.9 305.3h1.8v1.8h-1.8zM123.5 334.7h1.8v1.8h-1.8zM121.4 324.7h1.8v1.8h-1.8zM105.9 324.7h1.8v1.8h-1.8zM89.4 340.8h1.8v1.8h-1.8zM86.2 389.7h1.8v1.8h-1.8zM94.6 326.4h1.8v1.8h-1.8zM137.3 307.2h1.8v1.8h-1.8zM72.4 354.7h1.8v1.8h-1.8zM96.9 389.2h1.8v1.8h-1.8zM183.6 310.0h1.8v1.8h-1.8zM135.7 353.7h1.8v1.8h-1.8zM174.2 327.5h1.8v1.8h-1.8zM99.8 334.2h1.8v1.8h-1.8zM185.6 302.6h1.8v1.8h-1.8zM46.6 395.6h1.8v1.8h-1.8zM137.6 257.9h1.8v1.8h-1.8zM83.5 335.5h1.8v1.8h-1.8zM99.8 333.1h1.8v1.8h-1.8zM176.6 294.4h1.8v1.8h-1.8zM119.3 321.7h1.8v1.8h-1.8zM137.1 333.9h1.8v1.8h-1.8zM96.6 313.0h1.8v1.8h-1.8zM131.3 313.8h1.8v1.8h-1.8zM80.0 348.2h1.8v1.8h-1.8zM121.9 359.9h1.8v1.8h-1.8zM72.9 347.4h1.8v1.8h-1.8zM75.8 347.8h1.8v1.8h-1.8zM108.1 318.0h1.8v1.8h-1.8zM141.0 317.4h1.8v1.8h-1.8zM147.8 286.4h1.8v1.8h-1.8zM99.9 375.2h1.8v1.8h-1.8zM148.6 313.2h1.8v1.8h-1.8zM67.9 359.1h1.8v1.8h-1.8zM164.4 272.0h1.8v1.8h-1.8zM102.0 324.1h1.8v1.8h-1.8zM124.6 362.2h1.8v1.8h-1.8zM133.2 301.9h1.8v1.8h-1.8zM178.4 336.3h1.8v1.8h-1.8zM152.3 275.9h1.8v1.8h-1.8zM166.6 318.6h1.8v1.8h-1.8zM132.7 300.8h1.8v1.8h-1.8zM61.7 372.7h1.8v1.8h-1.8zM95.0 315.2h1.8v1.8h-1.8zM126.2 363.2h1.8v1.8h-1.8zM121.8 328.8h1.8v1.8h-1.8zM69.3 365.6h1.8v1.8h-1.8zM47.7 397.0h1.8v1.8h-1.8zM143.6 301.4h1.8v1.8h-1.8zM156.3 318.3h1.8v1.8h-1.8zM87.4 336.3h1.8v1.8h-1.8zM134.7 338.7h1.8v1.8h-1.8zM100.5 329.8h1.8v1.8h-1.8zM179.6 265.7h1.8v1.8h-1.8zM148.3 330.3h1.8v1.8h-1.8zM73.8 357.1h1.8v1.8h-1.8zM146.0 276.3h1.8v1.8h-1.8zM164.5 332.5h1.8v1.8h-1.8zM102.8 375.4h1.8v1.8h-1.8zM149.7 283.6h1.8v1.8h-1.8zM121.6 319.5h1.8v1.8h-1.8zM113.5 334.2h1.8v1.8h-1.8zM164.6 324.1h1.8v1.8h-1.8zM83.8 388.2h1.8v1.8h-1.8zM106.8 372.6h1.8v1.8h-1.8zM149.7 340.7h1.8v1.8h-1.8zM153.3 306.1h1.8v1.8h-1.8zM134.3 315.6h1.8v1.8h-1.8zM162.7 322.7h1.8v1.8h-1.8zM136.8 324.0h1.8v1.8h-1.8zM107.5 369.4h1.8v1.8h-1.8zM89.1 334.3h1.8v1.8h-1.8zM129.8 304.9h1.8v1.8h-1.8zM123.7 318.5h1.8v1.8h-1.8zM132.4 327.2h1.8v1.8h-1.8zM129.3 324.6h1.8v1.8h-1.8zM140.6 335.9h1.8v1.8h-1.8zM169.8 311.0h1.8v1.8h-1.8zM105.3 311.9h1.8v1.8h-1.8zM172.2 298.1h1.8v1.8h-1.8zM104.4 333.4h1.8v1.8h-1.8zM167.4 325.8h1.8v1.8h-1.8zM105.6 332.8h1.8v1.8h-1.8zM152.0 325.4h1.8v1.8h-1.8zM138.6 337.7h1.8v1.8h-1.8zM121.7 295.9h1.8v1.8h-1.8zM127.9 356.8h1.8v1.8h-1.8zM135.3 314.4h1.8v1.8h-1.8zM144.2 320.9h1.8v1.8h-1.8zM95.2 387.2h1.8v1.8h-1.8zM142.5 297.9h1.8v1.8h-1.8zM133.6 332.4h1.8v1.8h-1.8zM99.5 379.8h1.8v1.8h-1.8zM130.4 317.6h1.8v1.8h-1.8zM89.6 339.8h1.8v1.8h-1.8zM122.2 360.4h1.8v1.8h-1.8zM126.2 322.4h1.8v1.8h-1.8zM128.6 322.6h1.8v1.8h-1.8zM79.7 352.3h1.8v1.8h-1.8zM123.3 369.4h1.8v1.8h-1.8zM147.7 302.2h1.8v1.8h-1.8zM43.5 394.0h1.8v1.8h-1.8zM113.0 371.3h1.8v1.8h-1.8zM129.1 349.0h1.8v1.8h-1.8zM93.8 316.4h1.8v1.8h-1.8zM109.4 309.2h1.8v1.8h-1.8zM138.2 303.1h1.8v1.8h-1.8zM95.2 334.5h1.8v1.8h-1.8zM147.5 320.6h1.8v1.8h-1.8zM181.7 295.7h1.8v1.8h-1.8zM78.5 390.4h1.8v1.8h-1.8zM123.4 322.8h1.8v1.8h-1.8zM136.9 346.1h1.8v1.8h-1.8zM125.9 319.6h1.8v1.8h-1.8zM99.8 334.3h1.8v1.8h-1.8zM71.7 356.3h1.8v1.8h-1.8zM68.7 362.7h1.8v1.8h-1.8zM199.2 305.2h1.8v1.8h-1.8zM111.4 288.5h1.8v1.8h-1.8zM132.2 348.5h1.8v1.8h-1.8zM79.2 347.2h1.8v1.8h-1.8zM125.1 321.6h1.8v1.8h-1.8zM164.1 289.4h1.8v1.8h-1.8zM179.0 330.0h1.8v1.8h-1.8zM108.7 388.5h1.8v1.8h-1.8zM176.9 304.7h1.8v1.8h-1.8zM135.5 316.2h1.8v1.8h-1.8zM147.1 305.5h1.8v1.8h-1.8zM168.1 296.2h1.8v1.8h-1.8zM131.0 313.1h1.8v1.8h-1.8zM95.1 376.4h1.8v1.8h-1.8zM152.4 337.1h1.8v1.8h-1.8zM72.0 358.5h1.8v1.8h-1.8zM152.8 339.2h1.8v1.8h-1.8zM85.7 384.6h1.8v1.8h-1.8zM124.9 361.1h1.8v1.8h-1.8zM155.1 290.6h1.8v1.8h-1.8zM126.5 311.5h1.8v1.8h-1.8zM80.4 391.1h1.8v1.8h-1.8zM130.1 292.2h1.8v1.8h-1.8zM130.1 298.8h1.8v1.8h-1.8zM133.2 335.2h1.8v1.8h-1.8zM124.4 367.9h1.8v1.8h-1.8zM124.4 304.3h1.8v1.8h-1.8zM189.8 310.5h1.8v1.8h-1.8zM149.4 305.0h1.8v1.8h-1.8zM97.5 381.1h1.8v1.8h-1.8zM93.6 381.8h1.8v1.8h-1.8zM121.4 362.6h1.8v1.8h-1.8zM171.9 319.7h1.8v1.8h-1.8zM148.4 327.0h1.8v1.8h-1.8zM176.0 299.5h1.8v1.8h-1.8zM61.6 372.3h1.8v1.8h-1.8zM156.0 290.7h1.8v1.8h-1.8zM121.6 360.0h1.8v1.8h-1.8zM130.4 335.3h1.8v1.8h-1.8zM135.8 313.3h1.8v1.8h-1.8zM118.9 317.0h1.8v1.8h-1.8zM92.0 329.9h1.8v1.8h-1.8zM165.0 294.0h1.8v1.8h-1.8zM142.8 323.4h1.8v1.8h-1.8zM51.8 404.7h1.8v1.8h-1.8zM135.9 297.4h1.8v1.8h-1.8zM86.8 384.4h1.8v1.8h-1.8zM186.3 289.0h1.8v1.8h-1.8zM131.6 302.0h1.8v1.8h-1.8zM89.5 385.7h1.8v1.8h-1.8zM139.7 343.2h1.8v1.8h-1.8zM145.0 332.6h1.8v1.8h-1.8zM176.1 280.4h1.8v1.8h-1.8zM126.6 346.6h1.8v1.8h-1.8zM144.9 331.4h1.8v1.8h-1.8zM152.5 351.8h1.8v1.8h-1.8zM108.5 320.9h1.8v1.8h-1.8zM116.6 373.1h1.8v1.8h-1.8zM70.2 360.8h1.8v1.8h-1.8zM112.0 372.1h1.8v1.8h-1.8zM127.9 345.5h1.8v1.8h-1.8zM76.0 352.3h1.8v1.8h-1.8zM57.7 381.1h1.8v1.8h-1.8zM53.8 382.6h1.8v1.8h-1.8zM173.1 305.7h1.8v1.8h-1.8zM119.3 324.9h1.8v1.8h-1.8zM134.5 350.0h1.8v1.8h-1.8zM130.3 314.2h1.8v1.8h-1.8zM112.0 326.0h1.8v1.8h-1.8zM122.1 321.7h1.8v1.8h-1.8zM186.8 294.6h1.8v1.8h-1.8zM109.0 327.9h1.8v1.8h-1.8zM150.5 357.5h1.8v1.8h-1.8zM146.0 328.4h1.8v1.8h-1.8zM177.8 288.8h1.8v1.8h-1.8zM136.2 336.5h1.8v1.8h-1.8zM129.7 360.5h1.8v1.8h-1.8zM118.0 317.5h1.8v1.8h-1.8zM75.9 359.8h1.8v1.8h-1.8zM157.9 334.3h1.8v1.8h-1.8zM97.4 376.1h1.8v1.8h-1.8zM170.7 331.7h1.8v1.8h-1.8zM95.1 376.4h1.8v1.8h-1.8zM131.5 360.7h1.8v1.8h-1.8zM125.8 296.2h1.8v1.8h-1.8zM76.6 357.9h1.8v1.8h-1.8zM96.1 334.5h1.8v1.8h-1.8zM121.9 370.2h1.8v1.8h-1.8zM180.7 299.3h1.8v1.8h-1.8zM126.0 316.0h1.8v1.8h-1.8zM55.7 382.4h1.8v1.8h-1.8zM153.4 340.4h1.8v1.8h-1.8zM133.8 315.5h1.8v1.8h-1.8zM107.1 369.2h1.8v1.8h-1.8zM153.4 317.3h1.8v1.8h-1.8zM95.0 326.5h1.8v1.8h-1.8zM166.2 322.1h1.8v1.8h-1.8zM161.9 323.5h1.8v1.8h-1.8zM134.2 286.2h1.8v1.8h-1.8zM110.1 373.4h1.8v1.8h-1.8zM135.1 319.7h1.8v1.8h-1.8zM193.9 280.2h1.8v1.8h-1.8zM106.6 370.2h1.8v1.8h-1.8zM75.7 359.0h1.8v1.8h-1.8zM114.3 306.3h1.8v1.8h-1.8zM112.1 316.2h1.8v1.8h-1.8zM159.9 337.1h1.8v1.8h-1.8zM142.1 322.8h1.8v1.8h-1.8zM121.8 304.6h1.8v1.8h-1.8zM86.5 343.1h1.8v1.8h-1.8zM106.5 369.4h1.8v1.8h-1.8zM79.0 348.5h1.8v1.8h-1.8zM172.7 264.3h1.8v1.8h-1.8zM109.8 326.7h1.8v1.8h-1.8zM161.0 281.8h1.8v1.8h-1.8zM131.2 345.0h1.8v1.8h-1.8zM55.5 382.3h1.8v1.8h-1.8zM109.7 316.7h1.8v1.8h-1.8zM158.3 331.9h1.8v1.8h-1.8zM94.1 323.6h1.8v1.8h-1.8zM139.7 327.8h1.8v1.8h-1.8zM135.0 295.5h1.8v1.8h-1.8zM136.7 306.2h1.8v1.8h-1.8zM142.7 316.5h1.8v1.8h-1.8zM124.7 285.3h1.8v1.8h-1.8zM104.8 373.6h1.8v1.8h-1.8zM80.2 338.7h1.8v1.8h-1.8zM121.4 357.3h1.8v1.8h-1.8zM134.5 350.5h1.8v1.8h-1.8zM146.2 267.3h1.8v1.8h-1.8zM184.9 296.0h1.8v1.8h-1.8zM151.1 329.1h1.8v1.8h-1.8zM134.1 348.3h1.8v1.8h-1.8zM99.0 317.2h1.8v1.8h-1.8zM161.8 297.1h1.8v1.8h-1.8zM113.5 324.9h1.8v1.8h-1.8zM92.1 335.6h1.8v1.8h-1.8zM119.7 319.7h1.8v1.8h-1.8zM113.7 320.4h1.8v1.8h-1.8zM122.6 289.4h1.8v1.8h-1.8zM94.3 375.4h1.8v1.8h-1.8zM134.2 304.1h1.8v1.8h-1.8zM84.3 339.1h1.8v1.8h-1.8zM121.3 315.2h1.8v1.8h-1.8zM114.3 302.6h1.8v1.8h-1.8zM138.4 351.7h1.8v1.8h-1.8zM175.1 297.1h1.8v1.8h-1.8zM117.1 367.8h1.8v1.8h-1.8zM156.8 346.8h1.8v1.8h-1.8zM104.6 377.3h1.8v1.8h-1.8zM145.7 304.7h1.8v1.8h-1.8zM97.0 335.2h1.8v1.8h-1.8zM132.4 350.2h1.8v1.8h-1.8zM96.8 374.6h1.8v1.8h-1.8zM123.4 315.4h1.8v1.8h-1.8zM188.5 287.7h1.8v1.8h-1.8zM163.9 296.7h1.8v1.8h-1.8zM134.7 369.4h1.8v1.8h-1.8zM75.7 359.3h1.8v1.8h-1.8zM134.3 306.2h1.8v1.8h-1.8zM120.9 324.7h1.8v1.8h-1.8zM118.7 363.7h1.8v1.8h-1.8zM94.4 316.6h1.8v1.8h-1.8zM78.0 350.6h1.8v1.8h-1.8zM122.4 333.4h1.8v1.8h-1.8zM148.7 321.2h1.8v1.8h-1.8zM45.5 399.4h1.8v1.8h-1.8zM69.8 365.7h1.8v1.8h-1.8zM80.1 343.7h1.8v1.8h-1.8zM100.4 380.5h1.8v1.8h-1.8zM144.1 312.8h1.8v1.8h-1.8zM107.1 312.7h1.8v1.8h-1.8zM170.7 312.3h1.8v1.8h-1.8zM110.5 329.5h1.8v1.8h-1.8zM134.3 345.5h1.8v1.8h-1.8zM92.1 324.1h1.8v1.8h-1.8zM137.0 303.4h1.8v1.8h-1.8zM145.0 341.3h1.8v1.8h-1.8zM162.0 323.9h1.8v1.8h-1.8zM75.4 337.5h1.8v1.8h-1.8zM150.4 339.4h1.8v1.8h-1.8zM78.7 340.7h1.8v1.8h-1.8zM62.2 404.3h1.8v1.8h-1.8zM50.7 402.2h1.8v1.8h-1.8zM47.8 385.9h1.8v1.8h-1.8zM71.6 401.1h1.8v1.8h-1.8zM70.2 404.8h1.8v1.8h-1.8zM79.8 394.6h1.8v1.8h-1.8zM49.1 394.0h1.8v1.8h-1.8zM45.8 387.5h1.8v1.8h-1.8zM50.0 393.6h1.8v1.8h-1.8zM49.7 392.0h1.8v1.8h-1.8zM76.2 400.1h1.8v1.8h-1.8zM53.5 404.9h1.8v1.8h-1.8zM82.7 397.9h1.8v1.8h-1.8zM50.5 405.9h1.8v1.8h-1.8zM68.3 400.4h1.8v1.8h-1.8zM34.0 400.8h1.8v1.8h-1.8zM55.5 404.3h1.8v1.8h-1.8zM48.3 404.2h1.8v1.8h-1.8zM57.4 374.3h1.8v1.8h-1.8zM67.8 406.6h1.8v1.8h-1.8zM45.9 391.5h1.8v1.8h-1.8zM78.4 395.6h1.8v1.8h-1.8zM66.1 403.2h1.8v1.8h-1.8zM54.1 405.9h1.8v1.8h-1.8zM47.5 393.5h1.8v1.8h-1.8zM54.9 381.3h1.8v1.8h-1.8zM50.9 404.6h1.8v1.8h-1.8zM45.2 385.0h1.8v1.8h-1.8zM57.2 404.2h1.8v1.8h-1.8zM50.4 387.5h1.8v1.8h-1.8zM55.3 382.9h1.8v1.8h-1.8zM47.4 396.7h1.8v1.8h-1.8zM48.4 406.0h1.8v1.8h-1.8zM77.4 397.1h1.8v1.8h-1.8zM66.9 402.8h1.8v1.8h-1.8zM47.1 396.6h1.8v1.8h-1.8zM53.5 404.3h1.8v1.8h-1.8zM57.9 407.5h1.8v1.8h-1.8zM44.9 402.9h1.8v1.8h-1.8zM50.7 401.3h1.8v1.8h-1.8zM74.9 398.5h1.8v1.8h-1.8zM37.5 406.2h1.8v1.8h-1.8zM72.4 400.6h1.8v1.8h-1.8zM66.2 405.8h1.8v1.8h-1.8zM50.4 384.7h1.8v1.8h-1.8zM66.3 401.1h1.8v1.8h-1.8zM44.3 403.6h1.8v1.8h-1.8zM63.9 404.0h1.8v1.8h-1.8zM48.8 385.2h1.8v1.8h-1.8zM48.1 402.2h1.8v1.8h-1.8zM66.8 402.2h1.8v1.8h-1.8zM63.0 404.4h1.8v1.8h-1.8zM49.1 393.7h1.8v1.8h-1.8zM75.3 399.2h1.8v1.8h-1.8zM62.8 407.9h1.8v1.8h-1.8zM73.2 405.8h1.8v1.8h-1.8zM49.0 381.9h1.8v1.8h-1.8zM47.8 401.5h1.8v1.8h-1.8zM69.8 403.9h1.8v1.8h-1.8zM40.9 405.1h1.8v1.8h-1.8zM61.7 403.2h1.8v1.8h-1.8zM57.9 381.2h1.8v1.8h-1.8zM67.7 400.9h1.8v1.8h-1.8zM57.4 404.4h1.8v1.8h-1.8zM56.9 407.6h1.8v1.8h-1.8zM81.5 389.0h1.8v1.8h-1.8zM60.3 406.0h1.8v1.8h-1.8zM68.9 405.3h1.8v1.8h-1.8zM48.2 391.3h1.8v1.8h-1.8zM61.9 404.3h1.8v1.8h-1.8zM50.0 382.7h1.8v1.8h-1.8zM55.7 379.3h1.8v1.8h-1.8zM59.0 406.8h1.8v1.8h-1.8zM48.6 389.2h1.8v1.8h-1.8zM57.8 404.6h1.8v1.8h-1.8zM80.7 403.2h1.8v1.8h-1.8zM72.9 398.2h1.8v1.8h-1.8zM46.3 396.5h1.8v1.8h-1.8zM81.5 393.5h1.8v1.8h-1.8zM72.4 398.9h1.8v1.8h-1.8zM64.9 407.7h1.8v1.8h-1.8zM57.5 382.6h1.8v1.8h-1.8zM52.2 407.0h1.8v1.8h-1.8zM88.7 385.0h1.8v1.8h-1.8zM91.7 383.6h1.8v1.8h-1.8zM61.1 405.7h1.8v1.8h-1.8zM83.8 393.5h1.8v1.8h-1.8zM67.3 407.5h1.8v1.8h-1.8zM87.2 398.5h1.8v1.8h-1.8zM45.4 400.3h1.8v1.8h-1.8zM53.3 405.1h1.8v1.8h-1.8zM73.1 397.5h1.8v1.8h-1.8zM55.8 379.7h1.8v1.8h-1.8zM50.1 405.6h1.8v1.8h-1.8zM54.9 380.3h1.8v1.8h-1.8zM66.2 404.1h1.8v1.8h-1.8zM39.9 399.9h1.8v1.8h-1.8zM47.0 402.1h1.8v1.8h-1.8zM66.8 401.3h1.8v1.8h-1.8zM56.3 407.3h1.8v1.8h-1.8zM79.0 396.0h1.8v1.8h-1.8zM77.8 395.4h1.8v1.8h-1.8zM45.1 401.0h1.8v1.8h-1.8zM56.1 407.7h1.8v1.8h-1.8zM74.3 397.4h1.8v1.8h-1.8zM64.5 403.5h1.8v1.8h-1.8zM58.1 404.8h1.8v1.8h-1.8zM78.9 393.8h1.8v1.8h-1.8zM72.3 399.2h1.8v1.8h-1.8zM74.4 397.8h1.8v1.8h-1.8zM55.7 404.6h1.8v1.8h-1.8zM74.8 405.1h1.8v1.8h-1.8zM59.4 403.6h1.8v1.8h-1.8zM69.5 402.6h1.8v1.8h-1.8zM81.0 398.0h1.8v1.8h-1.8zM40.0 401.8h1.8v1.8h-1.8zM47.1 401.7h1.8v1.8h-1.8zM45.2 398.1h1.8v1.8h-1.8zM47.2 386.7h1.8v1.8h-1.8zM46.3 403.0h1.8v1.8h-1.8zM61.8 405.7h1.8v1.8h-1.8zM66.7 405.1h1.8v1.8h-1.8zM49.0 398.3h1.8v1.8h-1.8zM59.9 408.5h1.8v1.8h-1.8zM80.4 394.8h1.8v1.8h-1.8zM50.5 384.6h1.8v1.8h-1.8zM74.4 403.2h1.8v1.8h-1.8zM68.7 405.7h1.8v1.8h-1.8zM47.9 404.9h1.8v1.8h-1.8zM41.3 400.5h1.8v1.8h-1.8zM69.4 401.6h1.8v1.8h-1.8zM56.9 373.5h1.8v1.8h-1.8zM66.4 403.3h1.8v1.8h-1.8zM59.4 403.8h1.8v1.8h-1.8zM75.2 399.5h1.8v1.8h-1.8zM67.1 400.5h1.8v1.8h-1.8zM54.9 406.8h1.8v1.8h-1.8zM48.5 398.1h1.8v1.8h-1.8zM49.4 402.0h1.8v1.8h-1.8zM49.1 385.6h1.8v1.8h-1.8zM60.1 372.6h1.8v1.8h-1.8zM58.4 404.8h1.8v1.8h-1.8zM56.2 407.4h1.8v1.8h-1.8zM57.1 407.9h1.8v1.8h-1.8zM72.2 400.2h1.8v1.8h-1.8zM59.8 403.6h1.8v1.8h-1.8zM44.8 402.0h1.8v1.8h-1.8zM62.3 407.3h1.8v1.8h-1.8zM52.2 408.0h1.8v1.8h-1.8zM50.6 382.5h1.8v1.8h-1.8zM48.5 381.9h1.8v1.8h-1.8zM51.3 383.0h1.8v1.8h-1.8zM77.0 396.6h1.8v1.8h-1.8zM52.0 384.1h1.8v1.8h-1.8zM50.9 405.0h1.8v1.8h-1.8zM52.5 405.2h1.8v1.8h-1.8zM61.3 403.4h1.8v1.8h-1.8zM47.7 391.3h1.8v1.8h-1.8zM67.1 406.2h1.8v1.8h-1.8zM53.8 404.5h1.8v1.8h-1.8zM64.2 407.4h1.8v1.8h-1.8zM70.6 400.9h1.8v1.8h-1.8zM44.4 398.7h1.8v1.8h-1.8zM72.9 403.5h1.8v1.8h-1.8zM172.7 296.4h1.8v1.8h-1.8zM172.9 309.8h1.8v1.8h-1.8zM163.0 295.7h1.8v1.8h-1.8zM168.7 296.5h1.8v1.8h-1.8zM171.1 264.5h1.8v1.8h-1.8zM164.1 264.7h1.8v1.8h-1.8zM170.6 315.7h1.8v1.8h-1.8zM138.8 316.8h1.8v1.8h-1.8zM166.5 281.9h1.8v1.8h-1.8zM163.4 319.2h1.8v1.8h-1.8zM146.6 351.1h1.8v1.8h-1.8zM169.6 296.4h1.8v1.8h-1.8zM120.2 279.5h1.8v1.8h-1.8zM171.9 264.6h1.8v1.8h-1.8zM213.0 244.4h1.8v1.8h-1.8zM171.1 287.8h1.8v1.8h-1.8zM179.3 265.7h1.8v1.8h-1.8zM114.0 280.9h1.8v1.8h-1.8zM133.8 296.4h1.8v1.8h-1.8zM173.2 310.1h1.8v1.8h-1.8zM111.7 317.4h1.8v1.8h-1.8zM195.1 296.1h1.8v1.8h-1.8zM189.4 309.7h1.8v1.8h-1.8zM148.0 287.8h1.8v1.8h-1.8zM113.9 291.5h1.8v1.8h-1.8zM135.9 280.3h1.8v1.8h-1.8zM165.7 291.7h1.8v1.8h-1.8zM175.9 271.4h1.8v1.8h-1.8zM150.2 312.5h1.8v1.8h-1.8zM113.6 295.7h1.8v1.8h-1.8zM157.1 298.0h1.8v1.8h-1.8zM116.4 291.1h1.8v1.8h-1.8zM142.0 286.3h1.8v1.8h-1.8zM162.9 307.0h1.8v1.8h-1.8zM147.1 300.4h1.8v1.8h-1.8zM172.3 310.7h1.8v1.8h-1.8zM150.4 296.1h1.8v1.8h-1.8zM144.6 278.4h1.8v1.8h-1.8zM170.3 314.3h1.8v1.8h-1.8zM141.1 284.1h1.8v1.8h-1.8zM198.1 264.0h1.8v1.8h-1.8zM175.3 253.9h1.8v1.8h-1.8zM156.0 292.3h1.8v1.8h-1.8zM112.1 293.5h1.8v1.8h-1.8zM134.0 354.6h1.8v1.8h-1.8zM178.8 272.1h1.8v1.8h-1.8zM175.8 282.5h1.8v1.8h-1.8zM188.8 286.4h1.8v1.8h-1.8zM157.9 292.1h1.8v1.8h-1.8zM209.4 282.5h1.8v1.8h-1.8zM201.4 297.5h1.8v1.8h-1.8zM179.5 262.0h1.8v1.8h-1.8zM187.0 273.1h1.8v1.8h-1.8zM145.2 306.9h1.8v1.8h-1.8zM96.9 316.4h1.8v1.8h-1.8zM136.4 316.0h1.8v1.8h-1.8zM147.9 323.6h1.8v1.8h-1.8zM162.6 290.3h1.8v1.8h-1.8zM171.4 282.4h1.8v1.8h-1.8zM157.7 262.8h1.8v1.8h-1.8zM155.4 242.1h1.8v1.8h-1.8zM191.4 269.8h1.8v1.8h-1.8zM136.2 293.2h1.8v1.8h-1.8zM162.7 286.6h1.8v1.8h-1.8zM163.0 236.5h1.8v1.8h-1.8zM172.9 293.3h1.8v1.8h-1.8zM111.9 290.2h1.8v1.8h-1.8zM164.0 291.7h1.8v1.8h-1.8zM145.5 311.6h1.8v1.8h-1.8zM152.3 251.1h1.8v1.8h-1.8zM139.2 293.8h1.8v1.8h-1.8zM200.0 317.6h1.8v1.8h-1.8zM134.5 270.8h1.8v1.8h-1.8zM175.7 284.6h1.8v1.8h-1.8zM201.2 268.5h1.8v1.8h-1.8zM181.4 257.1h1.8v1.8h-1.8zM169.0 258.1h1.8v1.8h-1.8zM180.4 261.2h1.8v1.8h-1.8zM186.8 289.5h1.8v1.8h-1.8zM143.3 293.2h1.8v1.8h-1.8zM160.0 307.9h1.8v1.8h-1.8zM203.6 291.8h1.8v1.8h-1.8zM167.0 279.9h1.8v1.8h-1.8zM188.9 282.8h1.8v1.8h-1.8zM141.6 306.3h1.8v1.8h-1.8zM111.1 299.4h1.8v1.8h-1.8zM162.4 256.4h1.8v1.8h-1.8zM129.8 247.7h1.8v1.8h-1.8zM179.4 273.8h1.8v1.8h-1.8zM158.6 252.4h1.8v1.8h-1.8zM139.8 300.8h1.8v1.8h-1.8zM130.5 270.7h1.8v1.8h-1.8zM158.2 273.8h1.8v1.8h-1.8zM130.4 290.3h1.8v1.8h-1.8zM123.9 289.0h1.8v1.8h-1.8zM170.8 314.8h1.8v1.8h-1.8zM132.7 267.3h1.8v1.8h-1.8zM178.9 282.4h1.8v1.8h-1.8zM141.5 298.7h1.8v1.8h-1.8zM157.2 261.2h1.8v1.8h-1.8zM130.5 268.3h1.8v1.8h-1.8zM150.9 251.0h1.8v1.8h-1.8zM134.0 253.5h1.8v1.8h-1.8zM183.8 314.3h1.8v1.8h-1.8zM152.7 316.4h1.8v1.8h-1.8zM134.9 286.9h1.8v1.8h-1.8zM162.0 260.6h1.8v1.8h-1.8zM172.4 275.5h1.8v1.8h-1.8zM154.3 293.2h1.8v1.8h-1.8zM167.7 306.1h1.8v1.8h-1.8zM114.7 282.1h1.8v1.8h-1.8zM159.7 276.1h1.8v1.8h-1.8zM160.8 295.0h1.8v1.8h-1.8zM164.5 301.3h1.8v1.8h-1.8zM180.7 278.7h1.8v1.8h-1.8zM134.1 304.6h1.8v1.8h-1.8zM173.6 298.0h1.8v1.8h-1.8zM173.4 257.8h1.8v1.8h-1.8zM178.9 281.0h1.8v1.8h-1.8zM131.5 282.4h1.8v1.8h-1.8zM130.9 253.3h1.8v1.8h-1.8zM184.3 300.8h1.8v1.8h-1.8zM146.4 282.9h1.8v1.8h-1.8zM124.1 279.6h1.8v1.8h-1.8zM167.1 285.1h1.8v1.8h-1.8zM159.6 314.2h1.8v1.8h-1.8zM126.9 286.3h1.8v1.8h-1.8zM181.2 304.5h1.8v1.8h-1.8zM159.2 287.0h1.8v1.8h-1.8zM144.4 267.7h1.8v1.8h-1.8zM139.2 256.8h1.8v1.8h-1.8zM182.7 289.3h1.8v1.8h-1.8zM145.2 279.1h1.8v1.8h-1.8zM151.8 293.2h1.8v1.8h-1.8zM177.2 285.9h1.8v1.8h-1.8zM96.3 313.6h1.8v1.8h-1.8zM133.8 299.2h1.8v1.8h-1.8zM180.2 247.8h1.8v1.8h-1.8zM162.5 264.9h1.8v1.8h-1.8zM133.3 266.7h1.8v1.8h-1.8zM120.0 316.7h1.8v1.8h-1.8zM145.5 293.9h1.8v1.8h-1.8zM187.7 264.3h1.8v1.8h-1.8zM118.2 312.6h1.8v1.8h-1.8zM164.3 282.9h1.8v1.8h-1.8zM203.6 301.6h1.8v1.8h-1.8zM136.2 274.7h1.8v1.8h-1.8zM158.5 322.9h1.8v1.8h-1.8zM206.0 277.5h1.8v1.8h-1.8zM147.7 274.6h1.8v1.8h-1.8zM153.9 270.6h1.8v1.8h-1.8zM143.9 265.4h1.8v1.8h-1.8zM168.1 320.2h1.8v1.8h-1.8zM207.4 278.6h1.8v1.8h-1.8zM160.6 281.1h1.8v1.8h-1.8zM160.9 285.2h1.8v1.8h-1.8zM127.8 272.1h1.8v1.8h-1.8zM157.3 307.1h1.8v1.8h-1.8zM176.2 307.3h1.8v1.8h-1.8zM180.9 278.1h1.8v1.8h-1.8zM180.3 311.1h1.8v1.8h-1.8zM132.9 251.9h1.8v1.8h-1.8zM155.7 247.5h1.8v1.8h-1.8zM161.0 298.7h1.8v1.8h-1.8zM185.4 306.5h1.8v1.8h-1.8zM172.1 271.7h1.8v1.8h-1.8zM129.1 276.0h1.8v1.8h-1.8zM184.1 288.7h1.8v1.8h-1.8zM108.6 316.6h1.8v1.8h-1.8zM86.8 285.5h1.8v1.8h-1.8zM193.0 278.9h1.8v1.8h-1.8zM188.3 273.3h1.8v1.8h-1.8zM142.0 271.8h1.8v1.8h-1.8zM104.5 240.1h1.8v1.8h-1.8zM188.1 270.8h1.8v1.8h-1.8zM148.6 307.7h1.8v1.8h-1.8zM133.4 302.8h1.8v1.8h-1.8zM161.4 278.3h1.8v1.8h-1.8zM144.8 312.1h1.8v1.8h-1.8zM148.6 281.8h1.8v1.8h-1.8zM146.7 284.8h1.8v1.8h-1.8zM179.7 274.6h1.8v1.8h-1.8zM123.5 307.8h1.8v1.8h-1.8zM155.5 298.7h1.8v1.8h-1.8zM164.8 285.3h1.8v1.8h-1.8zM161.6 276.1h1.8v1.8h-1.8zM172.2 315.7h1.8v1.8h-1.8zM144.2 284.4h1.8v1.8h-1.8zM161.2 300.9h1.8v1.8h-1.8zM177.0 286.3h1.8v1.8h-1.8zM172.1 309.9h1.8v1.8h-1.8zM157.6 290.0h1.8v1.8h-1.8zM196.0 249.5h1.8v1.8h-1.8zM190.7 317.1h1.8v1.8h-1.8zM153.1 269.1h1.8v1.8h-1.8zM151.3 266.0h1.8v1.8h-1.8zM165.8 274.1h1.8v1.8h-1.8zM194.4 307.7h1.8v1.8h-1.8zM143.3 294.2h1.8v1.8h-1.8zM145.9 292.7h1.8v1.8h-1.8zM181.3 317.9h1.8v1.8h-1.8zM187.7 276.7h1.8v1.8h-1.8zM170.3 257.6h1.8v1.8h-1.8zM125.2 289.4h1.8v1.8h-1.8zM171.9 293.9h1.8v1.8h-1.8zM157.8 254.0h1.8v1.8h-1.8zM148.6 326.4h1.8v1.8h-1.8zM158.5 261.4h1.8v1.8h-1.8zM157.0 288.2h1.8v1.8h-1.8zM142.8 287.7h1.8v1.8h-1.8zM137.4 312.1h1.8v1.8h-1.8zM162.6 259.5h1.8v1.8h-1.8zM98.3 309.9h1.8v1.8h-1.8zM152.9 295.8h1.8v1.8h-1.8zM126.5 321.7h1.8v1.8h-1.8zM157.5 267.0h1.8v1.8h-1.8zM168.6 315.1h1.8v1.8h-1.8zM116.2 301.0h1.8v1.8h-1.8zM141.8 287.4h1.8v1.8h-1.8zM123.8 317.3h1.8v1.8h-1.8zM152.6 316.1h1.8v1.8h-1.8zM177.9 251.3h1.8v1.8h-1.8zM124.9 277.7h1.8v1.8h-1.8zM137.0 303.7h1.8v1.8h-1.8zM155.0 346.7h1.8v1.8h-1.8zM111.9 273.0h1.8v1.8h-1.8zM135.7 317.6h1.8v1.8h-1.8zM161.7 298.0h1.8v1.8h-1.8zM135.4 288.8h1.8v1.8h-1.8zM189.0 277.2h1.8v1.8h-1.8zM200.7 274.7h1.8v1.8h-1.8zM166.0 316.0h1.8v1.8h-1.8zM203.7 280.9h1.8v1.8h-1.8zM143.4 255.6h1.8v1.8h-1.8zM166.9 280.5h1.8v1.8h-1.8zM175.2 297.1h1.8v1.8h-1.8zM159.4 282.5h1.8v1.8h-1.8zM151.6 275.8h1.8v1.8h-1.8zM140.7 305.5h1.8v1.8h-1.8zM149.9 301.4h1.8v1.8h-1.8zM164.1 306.6h1.8v1.8h-1.8zM158.2 294.9h1.8v1.8h-1.8zM148.5 293.3h1.8v1.8h-1.8zM136.1 326.0h1.8v1.8h-1.8zM139.3 324.4h1.8v1.8h-1.8zM188.7 287.4h1.8v1.8h-1.8zM189.1 265.1h1.8v1.8h-1.8zM167.1 286.5h1.8v1.8h-1.8zM126.8 297.9h1.8v1.8h-1.8zM174.9 265.8h1.8v1.8h-1.8zM176.3 299.4h1.8v1.8h-1.8zM134.1 283.4h1.8v1.8h-1.8zM149.6 292.2h1.8v1.8h-1.8zM108.7 319.7h1.8v1.8h-1.8zM128.7 293.6h1.8v1.8h-1.8zM149.4 307.6h1.8v1.8h-1.8zM148.8 320.8h1.8v1.8h-1.8zM177.2 270.5h1.8v1.8h-1.8zM141.7 311.4h1.8v1.8h-1.8zM184.3 284.8h1.8v1.8h-1.8zM143.6 276.0h1.8v1.8h-1.8zM129.5 256.9h1.8v1.8h-1.8zM185.5 281.5h1.8v1.8h-1.8zM197.2 285.4h1.8v1.8h-1.8zM157.6 299.2h1.8v1.8h-1.8zM204.2 292.1h1.8v1.8h-1.8zM171.9 251.4h1.8v1.8h-1.8zM139.9 329.5h1.8v1.8h-1.8zM157.5 308.5h1.8v1.8h-1.8zM99.6 317.6h1.8v1.8h-1.8zM117.9 304.5h1.8v1.8h-1.8zM155.0 263.2h1.8v1.8h-1.8zM126.8 296.7h1.8v1.8h-1.8zM174.3 294.7h1.8v1.8h-1.8zM146.1 296.4h1.8v1.8h-1.8zM110.9 270.1h1.8v1.8h-1.8zM163.6 281.4h1.8v1.8h-1.8zM154.6 267.4h1.8v1.8h-1.8zM232.1 283.1h1.8v1.8h-1.8zM204.1 320.1h1.8v1.8h-1.8zM155.1 235.1h1.8v1.8h-1.8z" fill="#1c1444"/>
<rect x="20.6" y="215.7" width="226.70000000000002" height="194.60000000000002" fill="none" stroke="#5a5a5a" stroke-width="1"/>
<path d="M19.0 410.30H20.6 M19.6 404.74H20.6 M19.6 399.18H20.6 M19.6 393.62H20.6 M19.6 388.06H20.6 M19.0 382.50H20.6 M19.6 376.94H20.6 M19.6 371.38H20.6 M19.6 365.82H20.6 M19.6 360.26H20.6 M19.0 354.70H20.6 M19.6 349.14H20.6 M19.6 343.58H20.6 M19.6 338.02H20.6 M19.6 332.46H20.6 M19.0 326.90H20.6 M19.6 321.34H20.6 M19.6 315.78H20.6 M19.6 310.22H20.6 M19.6 304.66H20.6 M19.0 299.10H20.6 M19.6 293.54H20.6 M19.6 287.98H20.6 M19.6 282.42H20.6 M19.6 276.86H20.6 M19.0 271.30H20.6 M19.6 265.74H20.6 M19.6 260.18H20.6 M19.6 254.62H20.6 M19.6 249.06H20.6 M19.0 243.50H20.6 M19.6 237.94H20.6 M19.6 232.38H20.6 M19.6 226.82H20.6 M19.6 221.26H20.6 M19.0 215.70H20.6 M20.60 410.3v1.6 M29.67 410.3v1.0 M38.74 410.3v1.0 M47.80 410.3v1.0 M56.87 410.3v1.0 M65.94 410.3v1.6 M75.01 410.3v1.0 M84.08 410.3v1.0 M93.14 410.3v1.0 M102.21 410.3v1.0 M111.28 410.3v1.6 M120.35 410.3v1.0 M129.42 410.3v1.0 M138.48 410.3v1.0 M147.55 410.3v1.0 M156.62 410.3v1.6 M165.69 410.3v1.0 M174.76 410.3v1.0 M183.82 410.3v1.0 M192.89 410.3v1.0 M201.96 410.3v1.6 M211.03 410.3v1.0 M220.10 410.3v1.0 M229.16 410.3v1.0 M238.23 410.3v1.0 M247.30 410.3v1.6" stroke="#555" stroke-width="0.6"/>
<text x="18.9" y="411.60" font-size="3.85" text-anchor="end" fill="#333" font-family="Liberation Sans, sans-serif">0.0025</text>
<text x="18.9" y="383.80" font-size="3.85" text-anchor="end" fill="#333" font-family="Liberation Sans, sans-serif">0.005</text>
<text x="18.9" y="356.00" font-size="3.85" text-anchor="end" fill="#333" font-family="Liberation Sans, sans-serif">0.0075</text>
<text x="18.9" y="328.20" font-size="3.85" text-anchor="end" fill="#333" font-family="Liberation Sans, sans-serif">0.01</text>
<text x="18.9" y="300.40" font-size="3.85" text-anchor="end" fill="#333" font-family="Liberation Sans, sans-serif">0.0125</text>
<text x="18.9" y="272.60" font-size="3.85" text-anchor="end" fill="#333" font-family="Liberation Sans, sans-serif">0.015</text>
<text x="18.9" y="244.80" font-size="3.85" text-anchor="end" fill="#333" font-family="Liberation Sans, sans-serif">0.0175</text>
<text x="18.9" y="217.00" font-size="3.85" text-anchor="end" fill="#333" font-family="Liberation Sans, sans-serif">0.02</text>
<text x="20.60" y="415.7" font-size="3.85" text-anchor="middle" fill="#333" font-family="Liberation Sans, sans-serif">0</text>
<text x="65.94" y="415.7" font-size="3.85" text-anchor="middle" fill="#333" font-family="Liberation Sans, sans-serif">0.0025</text>
<text x="111.28" y="415.7" font-size="3.85" text-anchor="middle" fill="#333" font-family="Liberation Sans, sans-serif">0.005</text>
<text x="156.62" y="415.7" font-size="3.85" text-anchor="middle" fill="#333" font-family="Liberation Sans, sans-serif">0.0075</text>
<text x="201.96" y="415.7" font-size="3.85" text-anchor="middle" fill="#333" font-family="Liberation Sans, sans-serif">0.01</text>
<text x="247.30" y="415.7" font-size="3.85" text-anchor="middle" fill="#333" font-family="Liberation Sans, sans-serif">0.0125</text>
<text x="130.2" y="420.8" font-size="4.5" text-anchor="middle" fill="#222" font-family="Liberation Sans, sans-serif">host.clock.rate</text>
<text transform="translate(6.1,317) rotate(-90)" font-size="4.3" text-anchor="middle" fill="#222" font-family="Liberation Sans, sans-serif">allele.clock.rate</text>
<text x="21.1" y="212.3" font-size="8.8" font-weight="bold" fill="#111" font-family="Liberation Sans, sans-serif">(c)</text>
<ellipse cx="322.98" cy="231.85" rx="10.8" ry="1.50" transform="rotate(-45 322.98 231.85)" fill="#2a68a0" stroke="#0a0a0a" stroke-width="0.7"/>
<ellipse cx="355.15" cy="231.85" rx="10.8" ry="1.20" transform="rotate(-45 355.15 231.85)" fill="#1a4470" stroke="#0a0a0a" stroke-width="0.7"/>
<ellipse cx="387.32" cy="231.85" rx="10.8" ry="1.30" transform="rotate(45 387.32 231.85)" fill="#5b1019" stroke="#0a0a0a" stroke-width="0.7"/>
<circle cx="419.48" cy="231.85" r="10.45" fill="#fff" stroke="#2a2222" stroke-width="1.0"/>
<circle cx="451.65" cy="231.85" r="10.45" fill="#fdd8cb" stroke="#2a2222" stroke-width="1.0"/>
<path d="M476.22 239.45L491.42 224.25" stroke="#222" stroke-width="0.9"/>
<circle cx="322.98" cy="263.95" r="10.45" fill="#fdd8cb" stroke="#2a2222" stroke-width="1.0"/>
<circle cx="355.15" cy="263.95" r="10.45" fill="#fdd8cb" stroke="#2a2222" stroke-width="1.0"/>
<circle cx="387.32" cy="263.95" r="10.45" fill="#fff" stroke="#2a2222" stroke-width="1.0"/>
<circle cx="419.48" cy="263.95" r="10.45" fill="#fdd8cb" stroke="#2a2222" stroke-width="1.0"/>
<path d="M444.05 271.55L459.25 256.35" stroke="#222" stroke-width="0.9"/>
<circle cx="483.82" cy="263.95" r="10.45" fill="#fdd8cb" stroke="#2a2222" stroke-width="1.0"/>
<circle cx="322.98" cy="296.05" r="10.45" fill="#fdd8cb" stroke="#2a2222" stroke-width="1.0"/>
<circle cx="355.15" cy="296.05" r="10.45" fill="#fdd8cb" stroke="#2a2222" stroke-width="1.0"/>
<circle cx="387.32" cy="296.05" r="10.45" fill="#fff" stroke="#2a2222" stroke-width="1.0"/>
<path d="M411.88 303.65L427.08 288.45" stroke="#222" stroke-width="0.9"/>
<circle cx="451.65" cy="296.05" r="10.45" fill="#fdd8cb" stroke="#2a2222" stroke-width="1.0"/>
<circle cx="483.82" cy="296.05" r="10.45" fill="#fff" stroke="#2a2222" stroke-width="1.0"/>
<ellipse cx="322.98" cy="328.15" rx="10.8" ry="2.40" transform="rotate(45 322.98 328.15)" fill="#a01d26" stroke="#0a0a0a" stroke-width="0.7"/>
<ellipse cx="355.15" cy="328.15" rx="10.8" ry="2.10" transform="rotate(45 355.15 328.15)" fill="#a01d26" stroke="#0a0a0a" stroke-width="0.7"/>
<path d="M379.72 335.75L394.92 320.55" stroke="#222" stroke-width="0.9"/>
<circle cx="419.48" cy="328.15" r="10.45" fill="#fff" stroke="#2a2222" stroke-width="1.0"/>
<circle cx="451.65" cy="328.15" r="10.45" fill="#fff" stroke="#2a2222" stroke-width="1.0"/>
<ellipse cx="483.82" cy="328.15" rx="10.8" ry="1.30" transform="rotate(45 483.82 328.15)" fill="#5b1019" stroke="#0a0a0a" stroke-width="0.7"/>
<ellipse cx="322.98" cy="360.25" rx="10.8" ry="2.30" transform="rotate(-45 322.98 360.25)" fill="#3d86c6" stroke="#0a0a0a" stroke-width="0.7"/>
<path d="M347.55 367.85L362.75 352.65" stroke="#222" stroke-width="0.9"/>
<ellipse cx="387.32" cy="360.25" rx="10.8" ry="2.20" transform="rotate(45 387.32 360.25)" fill="#a01d26" stroke="#0a0a0a" stroke-width="0.7"/>
<circle cx="419.48" cy="360.25" r="10.45" fill="#fdd8cb" stroke="#2a2222" stroke-width="1.0"/>
<circle cx="451.65" cy="360.25" r="10.45" fill="#fdd8cb" stroke="#2a2222" stroke-width="1.0"/>
<ellipse cx="483.82" cy="360.25" rx="10.8" ry="1.40" transform="rotate(-45 483.82 360.25)" fill="#1d4a78" stroke="#0a0a0a" stroke-width="0.7"/>
<path d="M315.38 399.95L330.58 384.75" stroke="#222" stroke-width="0.9"/>
<ellipse cx="355.15" cy="392.35" rx="10.8" ry="2.30" transform="rotate(-45 355.15 392.35)" fill="#3d86c6" stroke="#0a0a0a" stroke-width="0.7"/>
<ellipse cx="387.32" cy="392.35" rx="10.8" ry="2.20" transform="rotate(45 387.32 392.35)" fill="#a01d26" stroke="#0a0a0a" stroke-width="0.7"/>
<circle cx="419.48" cy="392.35" r="10.45" fill="#fdd8cb" stroke="#2a2222" stroke-width="1.0"/>
<circle cx="451.65" cy="392.35" r="10.45" fill="#fdd8cb" stroke="#2a2222" stroke-width="1.0"/>
<ellipse cx="483.82" cy="392.35" rx="10.8" ry="1.60" transform="rotate(-45 483.82 392.35)" fill="#2f74b0" stroke="#0a0a0a" stroke-width="0.7"/>
<rect x="306.9" y="215.8" width="193.0" height="192.59999999999997" fill="none" stroke="#5a5a5a" stroke-width="1"/>
<path d="M305.4 231.85H306.9 M305.4 263.95H306.9 M305.4 296.05H306.9 M305.4 328.15H306.9 M305.4 360.25H306.9 M305.4 392.35H306.9 M322.98 408.4v1.5 M355.15 408.4v1.5 M387.32 408.4v1.5 M419.48 408.4v1.5 M451.65 408.4v1.5 M483.82 408.4v1.5" stroke="#555" stroke-width="0.6"/>
<text x="304.6" y="232.85" font-size="3.0" text-anchor="end" fill="#333" font-family="Liberation Sans, sans-serif">batRABV.clock.rate</text>
<text x="304.6" y="264.95" font-size="3.0" text-anchor="end" fill="#333" font-family="Liberation Sans, sans-serif">kappa</text>
<text x="304.6" y="297.05" font-size="3.0" text-anchor="end" fill="#333" font-family="Liberation Sans, sans-serif">alpha</text>
<text x="304.6" y="329.15" font-size="3.0" text-anchor="end" fill="#333" font-family="Liberation Sans, sans-serif">treeModel.rootHeight</text>
<text x="304.6" y="361.25" font-size="3.0" text-anchor="end" fill="#333" font-family="Liberation Sans, sans-serif">allele.clock.rate</text>
<text x="304.6" y="393.35" font-size="3.0" text-anchor="end" fill="#333" font-family="Liberation Sans, sans-serif">host.clock.rate</text>
<text x="322.98" y="412.8" font-size="3.15" text-anchor="middle" fill="#333" font-family="Liberation Sans, sans-serif">host.clock.rate</text>
<text x="355.15" y="412.8" font-size="3.15" text-anchor="middle" fill="#333" font-family="Liberation Sans, sans-serif">allele.clock.rate</text>
<text x="387.32" y="412.8" font-size="3.15" text-anchor="middle" fill="#333" font-family="Liberation Sans, sans-serif">treeModel.rootHeight</text>
<text x="419.48" y="412.8" font-size="3.15" text-anchor="middle" fill="#333" font-family="Liberation Sans, sans-serif">alpha</text>
<text x="451.65" y="412.8" font-size="3.15" text-anchor="middle" fill="#333" font-family="Liberation Sans, sans-serif">kappa</text>
<text x="483.82" y="412.8" font-size="3.15" text-anchor="middle" fill="#333" font-family="Liberation Sans, sans-serif">batRABV.clock.rate</text>
<text x="304.8" y="212.3" font-size="8.8" font-weight="bold" fill="#111" font-family="Liberation Sans, sans-serif">(d)</text>
</svg>
</body></html>
